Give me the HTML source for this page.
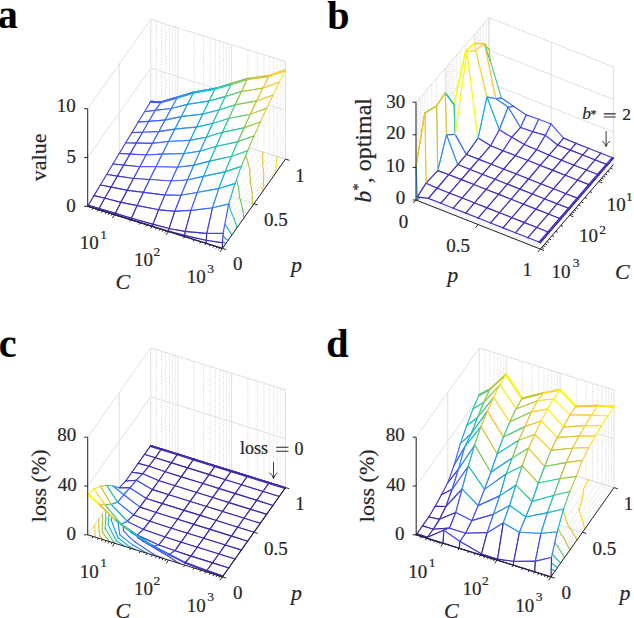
<!DOCTYPE html>
<html><head><meta charset="utf-8"><style>
html,body{margin:0;padding:0;background:#fff;overflow:hidden;}
svg{display:block;font-family:"Liberation Serif",serif;}
</style></head><body>
<svg width="634" height="618" viewBox="0 0 634 618">
<rect width="634" height="618" fill="#fff"/>
<g><line x1="93.2" y1="208.02" x2="156.3" y2="118.72" stroke="#cbcbcb" stroke-width="0.8" stroke-dasharray="1,1.4"/><line x1="156.3" y1="118.72" x2="156.3" y2="21.12" stroke="#cbcbcb" stroke-width="0.8" stroke-dasharray="1,1.4"/><line x1="98.42" y1="209.65" x2="161.52" y2="120.35" stroke="#cbcbcb" stroke-width="0.8" stroke-dasharray="1,1.4"/><line x1="161.52" y1="120.35" x2="161.52" y2="22.75" stroke="#cbcbcb" stroke-width="0.8" stroke-dasharray="1,1.4"/><line x1="102.69" y1="210.98" x2="165.79" y2="121.68" stroke="#cbcbcb" stroke-width="0.8" stroke-dasharray="1,1.4"/><line x1="165.79" y1="121.68" x2="165.79" y2="24.08" stroke="#cbcbcb" stroke-width="0.8" stroke-dasharray="1,1.4"/><line x1="106.29" y1="212.11" x2="169.39" y2="122.81" stroke="#cbcbcb" stroke-width="0.8" stroke-dasharray="1,1.4"/><line x1="169.39" y1="122.81" x2="169.39" y2="25.21" stroke="#cbcbcb" stroke-width="0.8" stroke-dasharray="1,1.4"/><line x1="109.42" y1="213.09" x2="172.52" y2="123.79" stroke="#cbcbcb" stroke-width="0.8" stroke-dasharray="1,1.4"/><line x1="172.52" y1="123.79" x2="172.52" y2="26.19" stroke="#cbcbcb" stroke-width="0.8" stroke-dasharray="1,1.4"/><line x1="112.17" y1="213.95" x2="175.27" y2="124.65" stroke="#cbcbcb" stroke-width="0.8" stroke-dasharray="1,1.4"/><line x1="175.27" y1="124.65" x2="175.27" y2="27.05" stroke="#cbcbcb" stroke-width="0.8" stroke-dasharray="1,1.4"/><line x1="130.86" y1="219.79" x2="193.96" y2="130.49" stroke="#cbcbcb" stroke-width="0.8" stroke-dasharray="1,1.4"/><line x1="193.96" y1="130.49" x2="193.96" y2="32.89" stroke="#cbcbcb" stroke-width="0.8" stroke-dasharray="1,1.4"/><line x1="140.35" y1="222.75" x2="203.45" y2="133.45" stroke="#cbcbcb" stroke-width="0.8" stroke-dasharray="1,1.4"/><line x1="203.45" y1="133.45" x2="203.45" y2="35.85" stroke="#cbcbcb" stroke-width="0.8" stroke-dasharray="1,1.4"/><line x1="147.08" y1="224.86" x2="210.18" y2="135.56" stroke="#cbcbcb" stroke-width="0.8" stroke-dasharray="1,1.4"/><line x1="210.18" y1="135.56" x2="210.18" y2="37.96" stroke="#cbcbcb" stroke-width="0.8" stroke-dasharray="1,1.4"/><line x1="152.3" y1="226.49" x2="215.4" y2="137.19" stroke="#cbcbcb" stroke-width="0.8" stroke-dasharray="1,1.4"/><line x1="215.4" y1="137.19" x2="215.4" y2="39.59" stroke="#cbcbcb" stroke-width="0.8" stroke-dasharray="1,1.4"/><line x1="156.57" y1="227.82" x2="219.67" y2="138.52" stroke="#cbcbcb" stroke-width="0.8" stroke-dasharray="1,1.4"/><line x1="219.67" y1="138.52" x2="219.67" y2="40.92" stroke="#cbcbcb" stroke-width="0.8" stroke-dasharray="1,1.4"/><line x1="160.17" y1="228.95" x2="223.27" y2="139.65" stroke="#cbcbcb" stroke-width="0.8" stroke-dasharray="1,1.4"/><line x1="223.27" y1="139.65" x2="223.27" y2="42.05" stroke="#cbcbcb" stroke-width="0.8" stroke-dasharray="1,1.4"/><line x1="163.3" y1="229.93" x2="226.4" y2="140.63" stroke="#cbcbcb" stroke-width="0.8" stroke-dasharray="1,1.4"/><line x1="226.4" y1="140.63" x2="226.4" y2="43.03" stroke="#cbcbcb" stroke-width="0.8" stroke-dasharray="1,1.4"/><line x1="166.05" y1="230.79" x2="229.15" y2="141.49" stroke="#cbcbcb" stroke-width="0.8" stroke-dasharray="1,1.4"/><line x1="229.15" y1="141.49" x2="229.15" y2="43.89" stroke="#cbcbcb" stroke-width="0.8" stroke-dasharray="1,1.4"/><line x1="184.74" y1="236.63" x2="247.84" y2="147.33" stroke="#cbcbcb" stroke-width="0.8" stroke-dasharray="1,1.4"/><line x1="247.84" y1="147.33" x2="247.84" y2="49.73" stroke="#cbcbcb" stroke-width="0.8" stroke-dasharray="1,1.4"/><line x1="194.23" y1="239.59" x2="257.33" y2="150.29" stroke="#cbcbcb" stroke-width="0.8" stroke-dasharray="1,1.4"/><line x1="257.33" y1="150.29" x2="257.33" y2="52.69" stroke="#cbcbcb" stroke-width="0.8" stroke-dasharray="1,1.4"/><line x1="200.96" y1="241.7" x2="264.06" y2="152.4" stroke="#cbcbcb" stroke-width="0.8" stroke-dasharray="1,1.4"/><line x1="264.06" y1="152.4" x2="264.06" y2="54.8" stroke="#cbcbcb" stroke-width="0.8" stroke-dasharray="1,1.4"/><line x1="206.18" y1="243.33" x2="269.28" y2="154.03" stroke="#cbcbcb" stroke-width="0.8" stroke-dasharray="1,1.4"/><line x1="269.28" y1="154.03" x2="269.28" y2="56.43" stroke="#cbcbcb" stroke-width="0.8" stroke-dasharray="1,1.4"/><line x1="210.45" y1="244.66" x2="273.55" y2="155.36" stroke="#cbcbcb" stroke-width="0.8" stroke-dasharray="1,1.4"/><line x1="273.55" y1="155.36" x2="273.55" y2="57.76" stroke="#cbcbcb" stroke-width="0.8" stroke-dasharray="1,1.4"/><line x1="214.05" y1="245.79" x2="277.15" y2="156.49" stroke="#cbcbcb" stroke-width="0.8" stroke-dasharray="1,1.4"/><line x1="277.15" y1="156.49" x2="277.15" y2="58.89" stroke="#cbcbcb" stroke-width="0.8" stroke-dasharray="1,1.4"/><line x1="217.18" y1="246.77" x2="280.28" y2="157.47" stroke="#cbcbcb" stroke-width="0.8" stroke-dasharray="1,1.4"/><line x1="280.28" y1="157.47" x2="280.28" y2="59.87" stroke="#cbcbcb" stroke-width="0.8" stroke-dasharray="1,1.4"/><line x1="219.93" y1="247.63" x2="283.03" y2="158.33" stroke="#cbcbcb" stroke-width="0.8" stroke-dasharray="1,1.4"/><line x1="283.03" y1="158.33" x2="283.03" y2="60.73" stroke="#cbcbcb" stroke-width="0.8" stroke-dasharray="1,1.4"/><line x1="114.64" y1="214.72" x2="177.74" y2="125.42" stroke="#e0e0e0" stroke-width="1.0"/><line x1="177.74" y1="125.42" x2="177.74" y2="27.82" stroke="#e0e0e0" stroke-width="1.0"/><line x1="168.52" y1="231.56" x2="231.62" y2="142.26" stroke="#e0e0e0" stroke-width="1.0"/><line x1="231.62" y1="142.26" x2="231.62" y2="44.66" stroke="#e0e0e0" stroke-width="1.0"/><line x1="222.4" y1="248.4" x2="285.5" y2="159.1" stroke="#e0e0e0" stroke-width="1.0"/><line x1="285.5" y1="159.1" x2="285.5" y2="61.5" stroke="#e0e0e0" stroke-width="1.0"/><line x1="87.7" y1="206.3" x2="222.4" y2="248.4" stroke="#e0e0e0" stroke-width="1.0"/><line x1="87.7" y1="206.3" x2="87.7" y2="108.7" stroke="#e0e0e0" stroke-width="1.0"/><line x1="119.25" y1="161.65" x2="253.95" y2="203.75" stroke="#e0e0e0" stroke-width="1.0"/><line x1="119.25" y1="161.65" x2="119.25" y2="64.05" stroke="#e0e0e0" stroke-width="1.0"/><line x1="150.8" y1="117" x2="285.5" y2="159.1" stroke="#e0e0e0" stroke-width="1.0"/><line x1="150.8" y1="117" x2="150.8" y2="19.4" stroke="#e0e0e0" stroke-width="1.0"/><line x1="87.7" y1="206.3" x2="150.8" y2="117" stroke="#e0e0e0" stroke-width="1.0"/><line x1="150.8" y1="117" x2="285.5" y2="159.1" stroke="#e0e0e0" stroke-width="1.0"/><line x1="87.7" y1="157.5" x2="150.8" y2="68.2" stroke="#e0e0e0" stroke-width="1.0"/><line x1="150.8" y1="68.2" x2="285.5" y2="110.3" stroke="#e0e0e0" stroke-width="1.0"/><line x1="87.7" y1="108.7" x2="150.8" y2="19.4" stroke="#e0e0e0" stroke-width="1.0"/><line x1="150.8" y1="19.4" x2="285.5" y2="61.5" stroke="#e0e0e0" stroke-width="1.0"/><line x1="87.7" y1="206.3" x2="150.8" y2="117" stroke="#e0e0e0" stroke-width="1.0"/></g>
<g fill="none" stroke-width="1.15" stroke-linecap="round"><path d="M122.03,176.34L121.49,173.25" stroke="#4443da"/><path d="M121.49,173.25L120.04,161.9" stroke="#4443da"/><path d="M120.04,161.9L119.92,160.71" stroke="#4443da"/><path d="M131.16,191.34L128.03,186.2" stroke="#4443da"/><path d="M128.03,186.2L122.03,176.34" stroke="#4443da"/><path d="M141.68,204.38L138.29,200.31" stroke="#4443da"/><path d="M138.29,200.31L131.16,191.34" stroke="#4443da"/><path d="M159.25,216.75L141.68,204.38" stroke="#4443da"/><path d="M173,225.21L162,218.62" stroke="#4443da"/><path d="M162,218.62L159.25,216.75" stroke="#4443da"/><path d="M187.05,233.27L173,225.21" stroke="#4443da"/><path d="M206.8,242.55L204.54,241.73" stroke="#4443da"/><path d="M204.54,241.73L187.05,233.27" stroke="#4443da"/><path d="M222.64,248.06L206.8,242.55" stroke="#4443da"/><path d="M147.94,139.67L148.29,138.02" stroke="#4062f5"/><path d="M148.29,138.02L150.6,127.84" stroke="#4062f5"/><path d="M150.6,127.84L154.43,119.22" stroke="#4062f5"/><path d="M154.43,119.22L154.68,118.32" stroke="#4062f5"/><path d="M154.68,118.32L154.7,118.22" stroke="#4062f5"/><path d="M149.7,165.1L149.38,160.17" stroke="#4062f5"/><path d="M149.38,160.17L148.71,149.05" stroke="#4062f5"/><path d="M148.71,149.05L147.94,139.67" stroke="#4062f5"/><path d="M154.83,185.76L154.28,183.5" stroke="#4062f5"/><path d="M154.28,183.5L151.5,171.73" stroke="#4062f5"/><path d="M151.5,171.73L149.7,165.1" stroke="#4062f5"/><path d="M168.72,203.35L164.75,197.68" stroke="#4062f5"/><path d="M164.75,197.68L154.83,185.76" stroke="#4062f5"/><path d="M179.51,216.01L176.23,212.16" stroke="#4062f5"/><path d="M176.23,212.16L168.72,203.35" stroke="#4062f5"/><path d="M190.68,228.13L189.58,227.24" stroke="#4062f5"/><path d="M189.58,227.24L179.51,216.01" stroke="#4062f5"/><path d="M209.3,239.01L190.68,228.13" stroke="#4062f5"/><path d="M223.67,246.6L209.3,239.01" stroke="#4062f5"/><path d="M169.11,137.64L169.74,133.82" stroke="#2f84f7"/><path d="M169.74,133.82L172.67,124.92" stroke="#2f84f7"/><path d="M172.67,124.92L173.03,124.06" stroke="#2f84f7"/><path d="M173.03,124.06L173.07,123.96" stroke="#2f84f7"/><path d="M169.08,165.61L169.31,155.49" stroke="#2f84f7"/><path d="M169.31,155.49L169.34,144.6" stroke="#2f84f7"/><path d="M169.34,144.6L169.11,137.64" stroke="#2f84f7"/><path d="M179.45,188.17L176.36,179.5" stroke="#2f84f7"/><path d="M176.36,179.5L169.68,166.51" stroke="#2f84f7"/><path d="M169.68,166.51L169.08,165.61" stroke="#2f84f7"/><path d="M187.62,204.53L181.76,192.09" stroke="#2f84f7"/><path d="M181.76,192.09L179.45,188.17" stroke="#2f84f7"/><path d="M196.35,220.1L195.19,218.09" stroke="#2f84f7"/><path d="M195.19,218.09L187.86,204.9" stroke="#2f84f7"/><path d="M187.86,204.9L187.62,204.53" stroke="#2f84f7"/><path d="M211.98,235.22L209.72,233.53" stroke="#2f84f7"/><path d="M209.72,233.53L196.35,220.1" stroke="#2f84f7"/><path d="M225.87,243.49L211.98,235.22" stroke="#2f84f7"/><path d="M184.08,144.37L185.05,138.61" stroke="#1da0e3"/><path d="M185.05,138.61L186.57,129.27" stroke="#1da0e3"/><path d="M186.57,129.27L186.71,128.33" stroke="#1da0e3"/><path d="M186.71,128.33L186.73,128.23" stroke="#1da0e3"/><path d="M191.14,171.62L189.66,161.85" stroke="#1da0e3"/><path d="M189.66,161.85L186.43,149.94" stroke="#1da0e3"/><path d="M186.43,149.94L184.08,144.37" stroke="#1da0e3"/><path d="M197.04,191.2L195.79,185.57" stroke="#1da0e3"/><path d="M195.79,185.57L191.93,173.46" stroke="#1da0e3"/><path d="M191.93,173.46L191.14,171.62" stroke="#1da0e3"/><path d="M203.37,210.16L203.24,209.71" stroke="#1da0e3"/><path d="M203.24,209.71L199.79,197.72" stroke="#1da0e3"/><path d="M199.79,197.72L197.04,191.2" stroke="#1da0e3"/><path d="M216.56,228.74L213.33,223.76" stroke="#1da0e3"/><path d="M213.33,223.76L203.37,210.16" stroke="#1da0e3"/><path d="M228.07,240.37L225.33,238.41" stroke="#1da0e3"/><path d="M225.33,238.41L216.56,228.74" stroke="#1da0e3"/><path d="M203.61,153.98L203.48,144.37" stroke="#1bb7c6"/><path d="M203.48,144.37L202.53,134.26" stroke="#1bb7c6"/><path d="M202.53,134.26L202.36,133.22" stroke="#1bb7c6"/><path d="M202.36,133.22L202.34,133.11" stroke="#1bb7c6"/><path d="M207.35,176.6L206.51,167.12" stroke="#1bb7c6"/><path d="M206.51,167.12L204.07,155.45" stroke="#1bb7c6"/><path d="M204.07,155.45L203.61,153.98" stroke="#1bb7c6"/><path d="M211.82,198.2L210.89,190.29" stroke="#1bb7c6"/><path d="M210.89,190.29L208.04,178.5" stroke="#1bb7c6"/><path d="M208.04,178.5L207.35,176.6" stroke="#1bb7c6"/><path d="M222.57,220.24L220.77,215.18" stroke="#1bb7c6"/><path d="M220.77,215.18L214.73,202.39" stroke="#1bb7c6"/><path d="M214.73,202.39L211.82,198.2" stroke="#1bb7c6"/><path d="M231.98,234.85L227.58,228.21" stroke="#1bb7c6"/><path d="M227.58,228.21L222.57,220.24" stroke="#1bb7c6"/><path d="M218.53,160.78L218.56,159.98" stroke="#33c69e"/><path d="M218.56,159.98L218.57,149.08" stroke="#33c69e"/><path d="M218.57,149.08L217.46,138.92" stroke="#33c69e"/><path d="M217.46,138.92L217.26,137.88" stroke="#33c69e"/><path d="M217.26,137.88L217.23,137.76" stroke="#33c69e"/><path d="M221.42,184.63L221.42,182.68" stroke="#33c69e"/><path d="M221.42,182.68L220.87,171.61" stroke="#33c69e"/><path d="M220.87,171.61L218.53,160.78" stroke="#33c69e"/><path d="M230.15,209.51L229.72,207.08" stroke="#33c69e"/><path d="M229.72,207.08L226.87,195.29" stroke="#33c69e"/><path d="M226.87,195.29L221.42,184.63" stroke="#33c69e"/><path d="M237.17,227.5L234.36,219.43" stroke="#33c69e"/><path d="M234.36,219.43L230.15,209.51" stroke="#33c69e"/><path d="M230.47,143.88L230.57,143.02" stroke="#77c763"/><path d="M230.57,143.02L230.67,142.07" stroke="#77c763"/><path d="M230.67,142.07L230.68,141.97" stroke="#77c763"/><path d="M232.17,169.4L232.49,164.34" stroke="#77c763"/><path d="M232.49,164.34L232.26,153.36" stroke="#77c763"/><path d="M232.26,153.36L230.47,143.88" stroke="#77c763"/><path d="M239.37,196.45L238.72,188.09" stroke="#77c763"/><path d="M238.72,188.09L235.68,176.24" stroke="#77c763"/><path d="M235.68,176.24L232.17,169.4" stroke="#77c763"/><path d="M243.99,217.85L243.01,211.23" stroke="#77c763"/><path d="M243.01,211.23L240.36,199.5" stroke="#77c763"/><path d="M240.36,199.5L239.37,196.45" stroke="#77c763"/><path d="M243.99,152.68L244.56,147.39" stroke="#bcc639"/><path d="M244.56,147.39L244.63,146.43" stroke="#bcc639"/><path d="M244.63,146.43L244.63,146.33" stroke="#bcc639"/><path d="M250.19,181.14L250.2,180.77" stroke="#bcc639"/><path d="M250.2,180.77L249.84,169.76" stroke="#bcc639"/><path d="M249.84,169.76L246.7,157.87" stroke="#bcc639"/><path d="M246.7,157.87L243.99,152.68" stroke="#bcc639"/><path d="M252.44,205.89L252.43,203.27" stroke="#bcc639"/><path d="M252.43,203.27L252.08,192.26" stroke="#bcc639"/><path d="M252.08,192.26L250.19,181.14" stroke="#bcc639"/><path d="M262.71,163.42L262.75,162.89" stroke="#f1c438"/><path d="M262.75,162.89L262.82,153.1" stroke="#f1c438"/><path d="M262.82,153.1L262.72,152.09" stroke="#f1c438"/><path d="M262.72,152.09L262.7,151.98" stroke="#f1c438"/><path d="M262.69,191.38L263.33,184.88" stroke="#f1c438"/><path d="M263.33,184.88L263.72,174.1" stroke="#f1c438"/><path d="M263.72,174.1L262.71,163.42" stroke="#f1c438"/><path d="M274.79,174.26L276.02,167.04" stroke="#fcdf26"/><path d="M276.02,167.04L277.12,157.57" stroke="#fcdf26"/><path d="M277.12,157.57L277.17,156.61" stroke="#fcdf26"/><path d="M277.17,156.61L277.18,156.5" stroke="#fcdf26"/></g>
<g fill="none" stroke-width="1.15" stroke-linejoin="round" stroke-linecap="round"><polygon points="150.74,101.39 161.51,101.91 161.58,101.82 150.8,101.29" fill="#fff"/><path d="M150.74,101.39L161.51,101.91" stroke="#425ef5"/><path d="M150.74,101.39L150.8,101.29" stroke="#425ef5"/><path d="M161.51,101.91L161.58,101.82" stroke="#3c6af5"/><path d="M150.8,101.29L161.58,101.82" stroke="#425ef5"/><polygon points="150.17,102.33 160.94,102.68 161.51,101.91 150.74,101.39" fill="#fff"/><path d="M150.17,102.33L160.94,102.68" stroke="#425ef5"/><path d="M150.17,102.33L150.74,101.39" stroke="#425ef5"/><path d="M160.94,102.68L161.51,101.91" stroke="#3c6af5"/><path d="M150.74,101.39L161.51,101.91" stroke="#425ef5"/><polygon points="144.49,111.71 155.27,110.42 160.94,102.68 150.17,102.33" fill="#fff"/><path d="M144.49,111.71L155.27,110.42" stroke="#4558f5"/><path d="M144.49,111.71L150.17,102.33" stroke="#4558f5"/><path d="M155.27,110.42L160.94,102.68" stroke="#3b6bf6"/><path d="M150.17,102.33L160.94,102.68" stroke="#425ef5"/><polygon points="161.51,101.91 177.68,97.04 177.74,96.92 161.58,101.82" fill="#fff"/><path d="M161.51,101.91L177.68,97.04" stroke="#3c6af5"/><path d="M161.51,101.91L161.58,101.82" stroke="#3c6af5"/><path d="M177.68,97.04L177.74,96.92" stroke="#2791ef"/><path d="M161.58,101.82L177.74,96.92" stroke="#3c6af5"/><polygon points="160.94,102.68 177.11,98.08 177.68,97.04 161.51,101.91" fill="#fff"/><path d="M160.94,102.68L177.11,98.08" stroke="#3c6af5"/><path d="M160.94,102.68L161.51,101.91" stroke="#3c6af5"/><path d="M177.11,98.08L177.68,97.04" stroke="#2890f0"/><path d="M161.51,101.91L177.68,97.04" stroke="#3c6af5"/><polygon points="138.18,122.15 148.96,121.32 155.27,110.42 144.49,111.71" fill="#fff"/><path d="M138.18,122.15L148.96,121.32" stroke="#4852f4"/><path d="M138.18,122.15L144.49,111.71" stroke="#4852f4"/><path d="M148.96,121.32L155.27,110.42" stroke="#3f63f5"/><path d="M144.49,111.71L155.27,110.42" stroke="#4558f5"/><polygon points="155.27,110.42 171.43,108.48 177.11,98.08 160.94,102.68" fill="#fff"/><path d="M155.27,110.42L171.43,108.48" stroke="#3b6bf6"/><path d="M155.27,110.42L160.94,102.68" stroke="#3b6bf6"/><path d="M171.43,108.48L177.11,98.08" stroke="#2d88f6"/><path d="M160.94,102.68L177.11,98.08" stroke="#3c6af5"/><polygon points="131.87,132.59 142.65,132.23 148.96,121.32 138.18,122.15" fill="#fff"/><path d="M131.87,132.59L142.65,132.23" stroke="#464deb"/><path d="M131.87,132.59L138.18,122.15" stroke="#464deb"/><path d="M142.65,132.23L148.96,121.32" stroke="#435bf5"/><path d="M138.18,122.15L148.96,121.32" stroke="#4852f4"/><polygon points="148.96,121.32 165.12,120.07 171.43,108.48 155.27,110.42" fill="#fff"/><path d="M148.96,121.32L165.12,120.07" stroke="#3f63f5"/><path d="M148.96,121.32L155.27,110.42" stroke="#3f63f5"/><path d="M165.12,120.07L171.43,108.48" stroke="#327df6"/><path d="M155.27,110.42L171.43,108.48" stroke="#3b6bf6"/><polygon points="177.68,97.04 193.84,92.14 193.9,92.02 177.74,96.92" fill="#fff"/><path d="M177.68,97.04L193.84,92.14" stroke="#2791ef"/><path d="M177.68,97.04L177.74,96.92" stroke="#2791ef"/><path d="M193.84,92.14L193.9,92.02" stroke="#12b1d6"/><path d="M177.74,96.92L193.9,92.02" stroke="#2791ef"/><polygon points="177.11,98.08 193.27,93.25 193.84,92.14 177.68,97.04" fill="#fff"/><path d="M177.11,98.08L193.27,93.25" stroke="#2890f0"/><path d="M177.11,98.08L177.68,97.04" stroke="#2890f0"/><path d="M193.27,93.25L193.84,92.14" stroke="#12b1d7"/><path d="M177.68,97.04L193.84,92.14" stroke="#2791ef"/><polygon points="171.43,108.48 187.59,104.32 193.27,93.25 177.11,98.08" fill="#fff"/><path d="M171.43,108.48L187.59,104.32" stroke="#2d88f6"/><path d="M171.43,108.48L177.11,98.08" stroke="#2d88f6"/><path d="M187.59,104.32L193.27,93.25" stroke="#19a6de"/><path d="M177.11,98.08L193.27,93.25" stroke="#2890f0"/><polygon points="125.56,143.05 136.34,143.16 142.65,132.23 131.87,132.59" fill="#fff"/><path d="M125.56,143.05L136.34,143.16" stroke="#4548e2"/><path d="M125.56,143.05L131.87,132.59" stroke="#4548e2"/><path d="M136.34,143.16L142.65,132.23" stroke="#4753f4"/><path d="M131.87,132.59L142.65,132.23" stroke="#464deb"/><polygon points="142.65,132.23 158.81,131.68 165.12,120.07 148.96,121.32" fill="#fff"/><path d="M142.65,132.23L158.81,131.68" stroke="#435bf5"/><path d="M142.65,132.23L148.96,121.32" stroke="#435bf5"/><path d="M158.81,131.68L165.12,120.07" stroke="#3872f6"/><path d="M148.96,121.32L165.12,120.07" stroke="#3f63f5"/><polygon points="165.12,120.07 181.28,116.66 187.59,104.32 171.43,108.48" fill="#fff"/><path d="M165.12,120.07L181.28,116.66" stroke="#327df6"/><path d="M165.12,120.07L171.43,108.48" stroke="#327df6"/><path d="M181.28,116.66L187.59,104.32" stroke="#209be7"/><path d="M171.43,108.48L187.59,104.32" stroke="#2d88f6"/><polygon points="119.25,153.52 130.03,154.11 136.34,143.16 125.56,143.05" fill="#fff"/><path d="M119.25,153.52L130.03,154.11" stroke="#4442d9"/><path d="M119.25,153.52L125.56,143.05" stroke="#4442d9"/><path d="M130.03,154.11L136.34,143.16" stroke="#464ce9"/><path d="M125.56,143.05L136.34,143.16" stroke="#4548e2"/><polygon points="136.34,143.16 152.5,143.33 158.81,131.68 142.65,132.23" fill="#fff"/><path d="M136.34,143.16L152.5,143.33" stroke="#4753f4"/><path d="M136.34,143.16L142.65,132.23" stroke="#4753f4"/><path d="M152.5,143.33L158.81,131.68" stroke="#3d67f5"/><path d="M142.65,132.23L158.81,131.68" stroke="#435bf5"/><polygon points="193.84,92.14 215.39,88.34 215.46,88.21 193.9,92.02" fill="#fff"/><path d="M193.84,92.14L215.39,88.34" stroke="#12b1d6"/><path d="M193.84,92.14L193.9,92.02" stroke="#12b1d6"/><path d="M215.39,88.34L215.46,88.21" stroke="#31c4a2"/><path d="M193.9,92.02L215.46,88.21" stroke="#12b1d5"/><polygon points="193.27,93.25 214.82,89.5 215.39,88.34 193.84,92.14" fill="#fff"/><path d="M193.27,93.25L214.82,89.5" stroke="#12b1d7"/><path d="M193.27,93.25L193.84,92.14" stroke="#12b1d7"/><path d="M214.82,89.5L215.39,88.34" stroke="#30c4a3"/><path d="M193.84,92.14L215.39,88.34" stroke="#12b1d6"/><polygon points="158.81,131.68 174.97,129.07 181.28,116.66 165.12,120.07" fill="#fff"/><path d="M158.81,131.68L174.97,129.07" stroke="#3872f6"/><path d="M158.81,131.68L165.12,120.07" stroke="#3872f6"/><path d="M174.97,129.07L181.28,116.66" stroke="#2890f0"/><path d="M165.12,120.07L181.28,116.66" stroke="#327df6"/><polygon points="187.59,104.32 209.15,101.1 214.82,89.5 193.27,93.25" fill="#fff"/><path d="M187.59,104.32L209.15,101.1" stroke="#19a6de"/><path d="M187.59,104.32L193.27,93.25" stroke="#19a6de"/><path d="M209.15,101.1L214.82,89.5" stroke="#25bdb5"/><path d="M193.27,93.25L214.82,89.5" stroke="#12b1d7"/><polygon points="130.03,154.11 146.19,155.01 152.5,143.33 136.34,143.16" fill="#fff"/><path d="M130.03,154.11L146.19,155.01" stroke="#464ce9"/><path d="M130.03,154.11L136.34,143.16" stroke="#464ce9"/><path d="M146.19,155.01L152.5,143.33" stroke="#435cf5"/><path d="M136.34,143.16L152.5,143.33" stroke="#4753f4"/><polygon points="112.94,164 123.72,165.09 130.03,154.11 119.25,153.52" fill="#fff"/><path d="M112.94,164L123.72,165.09" stroke="#433dcf"/><path d="M112.94,164L119.25,153.52" stroke="#433dcf"/><path d="M123.72,165.09L130.03,154.11" stroke="#4545dd"/><path d="M119.25,153.52L130.03,154.11" stroke="#4442d9"/><polygon points="152.5,143.33 168.66,141.54 174.97,129.07 158.81,131.68" fill="#fff"/><path d="M152.5,143.33L168.66,141.54" stroke="#3d67f5"/><path d="M152.5,143.33L158.81,131.68" stroke="#3d67f5"/><path d="M168.66,141.54L174.97,129.07" stroke="#2f83f7"/><path d="M158.81,131.68L174.97,129.07" stroke="#3872f6"/><polygon points="181.28,116.66 202.84,114.08 209.15,101.1 187.59,104.32" fill="#fff"/><path d="M181.28,116.66L202.84,114.08" stroke="#209be7"/><path d="M181.28,116.66L187.59,104.32" stroke="#209be7"/><path d="M202.84,114.08L209.15,101.1" stroke="#19b6c9"/><path d="M187.59,104.32L209.15,101.1" stroke="#19a6de"/><polygon points="123.72,165.09 139.88,166.73 146.19,155.01 130.03,154.11" fill="#fff"/><path d="M123.72,165.09L139.88,166.73" stroke="#4545dd"/><path d="M123.72,165.09L130.03,154.11" stroke="#4545dd"/><path d="M139.88,166.73L146.19,155.01" stroke="#4751f1"/><path d="M130.03,154.11L146.19,155.01" stroke="#464ce9"/><polygon points="106.63,174.5 117.41,176.11 123.72,165.09 112.94,164" fill="#fff"/><path d="M106.63,174.5L117.41,176.11" stroke="#4238c6"/><path d="M106.63,174.5L112.94,164" stroke="#4238c6"/><path d="M117.41,176.11L123.72,165.09" stroke="#433ed1"/><path d="M112.94,164L123.72,165.09" stroke="#433dcf"/><polygon points="215.39,88.34 231.56,83.54 231.62,83.41 215.46,88.21" fill="#fff"/><path d="M215.39,88.34L231.56,83.54" stroke="#31c4a2"/><path d="M215.39,88.34L215.46,88.21" stroke="#31c4a2"/><path d="M231.56,83.54L231.62,83.41" stroke="#7dc75e"/><path d="M215.46,88.21L231.62,83.41" stroke="#31c4a1"/><polygon points="214.82,89.5 230.99,84.73 231.56,83.54 215.39,88.34" fill="#fff"/><path d="M214.82,89.5L230.99,84.73" stroke="#30c4a3"/><path d="M214.82,89.5L215.39,88.34" stroke="#30c4a3"/><path d="M230.99,84.73L231.56,83.54" stroke="#7ac761"/><path d="M215.39,88.34L231.56,83.54" stroke="#31c4a2"/><polygon points="174.97,129.07 196.53,127.17 202.84,114.08 181.28,116.66" fill="#fff"/><path d="M174.97,129.07L196.53,127.17" stroke="#2890f0"/><path d="M174.97,129.07L181.28,116.66" stroke="#2890f0"/><path d="M196.53,127.17L202.84,114.08" stroke="#15acda"/><path d="M181.28,116.66L202.84,114.08" stroke="#209be7"/><polygon points="146.19,155.01 162.35,154.08 168.66,141.54 152.5,143.33" fill="#fff"/><path d="M146.19,155.01L162.35,154.08" stroke="#435cf5"/><path d="M146.19,155.01L152.5,143.33" stroke="#435cf5"/><path d="M162.35,154.08L168.66,141.54" stroke="#3774f6"/><path d="M152.5,143.33L168.66,141.54" stroke="#3d67f5"/><polygon points="209.15,101.1 225.31,96.64 230.99,84.73 214.82,89.5" fill="#fff"/><path d="M209.15,101.1L225.31,96.64" stroke="#25bdb5"/><path d="M209.15,101.1L214.82,89.5" stroke="#25bdb5"/><path d="M225.31,96.64L230.99,84.73" stroke="#57c87d"/><path d="M214.82,89.5L230.99,84.73" stroke="#30c4a3"/><polygon points="117.41,176.11 133.57,178.52 139.88,166.73 123.72,165.09" fill="#fff"/><path d="M117.41,176.11L133.57,178.52" stroke="#433ed1"/><path d="M117.41,176.11L123.72,165.09" stroke="#433ed1"/><path d="M133.57,178.52L139.88,166.73" stroke="#4547e0"/><path d="M123.72,165.09L139.88,166.73" stroke="#4545dd"/><polygon points="168.66,141.54 190.22,140.37 196.53,127.17 174.97,129.07" fill="#fff"/><path d="M168.66,141.54L190.22,140.37" stroke="#2f83f7"/><path d="M168.66,141.54L174.97,129.07" stroke="#2f83f7"/><path d="M190.22,140.37L196.53,127.17" stroke="#1e9ee5"/><path d="M174.97,129.07L196.53,127.17" stroke="#2890f0"/><polygon points="100.32,185.03 111.1,187.17 117.41,176.11 106.63,174.5" fill="#fff"/><path d="M100.32,185.03L111.1,187.17" stroke="#4032bd"/><path d="M100.32,185.03L106.63,174.5" stroke="#4032bd"/><path d="M111.1,187.17L117.41,176.11" stroke="#4136c4"/><path d="M106.63,174.5L117.41,176.11" stroke="#4238c6"/><polygon points="139.88,166.73 156.04,166.72 162.35,154.08 146.19,155.01" fill="#fff"/><path d="M139.88,166.73L156.04,166.72" stroke="#4751f1"/><path d="M139.88,166.73L146.19,155.01" stroke="#4751f1"/><path d="M156.04,166.72L162.35,154.08" stroke="#3e65f5"/><path d="M146.19,155.01L162.35,154.08" stroke="#435cf5"/><polygon points="202.84,114.08 219,110 225.31,96.64 209.15,101.1" fill="#fff"/><path d="M202.84,114.08L219,110" stroke="#19b6c9"/><path d="M202.84,114.08L209.15,101.1" stroke="#19b6c9"/><path d="M219,110L225.31,96.64" stroke="#34c69c"/><path d="M209.15,101.1L225.31,96.64" stroke="#25bdb5"/><polygon points="162.35,154.08 183.91,153.72 190.22,140.37 168.66,141.54" fill="#fff"/><path d="M162.35,154.08L183.91,153.72" stroke="#3774f6"/><path d="M162.35,154.08L168.66,141.54" stroke="#3774f6"/><path d="M183.91,153.72L190.22,140.37" stroke="#288ff0"/><path d="M168.66,141.54L190.22,140.37" stroke="#2f83f7"/><polygon points="111.1,187.17 127.26,190.38 133.57,178.52 117.41,176.11" fill="#fff"/><path d="M111.1,187.17L127.26,190.38" stroke="#4136c4"/><path d="M111.1,187.17L117.41,176.11" stroke="#4136c4"/><path d="M127.26,190.38L133.57,178.52" stroke="#433dcf"/><path d="M117.41,176.11L133.57,178.52" stroke="#433ed1"/><polygon points="231.56,83.54 247.72,78.54 247.78,78.41 231.62,83.41" fill="#fff"/><path d="M231.56,83.54L247.72,78.54" stroke="#7dc75e"/><path d="M231.56,83.54L231.62,83.41" stroke="#7dc75e"/><path d="M247.72,78.54L247.78,78.41" stroke="#ccc539"/><path d="M231.62,83.41L247.78,78.41" stroke="#7ec75e"/><polygon points="230.99,84.73 247.15,79.72 247.72,78.54 231.56,83.54" fill="#fff"/><path d="M230.99,84.73L247.15,79.72" stroke="#7ac761"/><path d="M230.99,84.73L231.56,83.54" stroke="#7ac761"/><path d="M247.15,79.72L247.72,78.54" stroke="#c9c539"/><path d="M231.56,83.54L247.72,78.54" stroke="#7dc75e"/><polygon points="133.57,178.52 149.73,179.49 156.04,166.72 139.88,166.73" fill="#fff"/><path d="M133.57,178.52L149.73,179.49" stroke="#4547e0"/><path d="M133.57,178.52L139.88,166.73" stroke="#4547e0"/><path d="M149.73,179.49L156.04,166.72" stroke="#4655f4"/><path d="M139.88,166.73L156.04,166.72" stroke="#4751f1"/><polygon points="196.53,127.17 212.69,123.53 219,110 202.84,114.08" fill="#fff"/><path d="M196.53,127.17L212.69,123.53" stroke="#15acda"/><path d="M196.53,127.17L202.84,114.08" stroke="#15acda"/><path d="M212.69,123.53L219,110" stroke="#27beb2"/><path d="M202.84,114.08L219,110" stroke="#19b6c9"/><polygon points="94.01,195.61 104.79,198.31 111.1,187.17 100.32,185.03" fill="#fff"/><path d="M94.01,195.61L104.79,198.31" stroke="#3f2cb3"/><path d="M94.01,195.61L100.32,185.03" stroke="#3f2cb3"/><path d="M104.79,198.31L111.1,187.17" stroke="#402fb7"/><path d="M100.32,185.03L111.1,187.17" stroke="#4032bd"/><polygon points="225.31,96.64 241.47,91.56 247.15,79.72 230.99,84.73" fill="#fff"/><path d="M225.31,96.64L241.47,91.56" stroke="#57c87d"/><path d="M225.31,96.64L230.99,84.73" stroke="#57c87d"/><path d="M241.47,91.56L247.15,79.72" stroke="#b1c739"/><path d="M230.99,84.73L247.15,79.72" stroke="#7ac761"/><polygon points="156.04,166.72 177.6,167.25 183.91,153.72 162.35,154.08" fill="#fff"/><path d="M156.04,166.72L177.6,167.25" stroke="#3e65f5"/><path d="M156.04,166.72L162.35,154.08" stroke="#3e65f5"/><path d="M177.6,167.25L183.91,153.72" stroke="#327ff6"/><path d="M162.35,154.08L183.91,153.72" stroke="#3774f6"/><polygon points="190.22,140.37 206.38,137.24 212.69,123.53 196.53,127.17" fill="#fff"/><path d="M190.22,140.37L206.38,137.24" stroke="#1e9ee5"/><path d="M190.22,140.37L196.53,127.17" stroke="#1e9ee5"/><path d="M206.38,137.24L212.69,123.53" stroke="#19b6ca"/><path d="M196.53,127.17L212.69,123.53" stroke="#15acda"/><polygon points="104.79,198.31 120.95,202.36 127.26,190.38 111.1,187.17" fill="#fff"/><path d="M104.79,198.31L120.95,202.36" stroke="#402fb7"/><path d="M104.79,198.31L111.1,187.17" stroke="#402fb7"/><path d="M120.95,202.36L127.26,190.38" stroke="#4032bd"/><path d="M111.1,187.17L127.26,190.38" stroke="#4136c4"/><polygon points="127.26,190.38 143.42,192.43 149.73,179.49 133.57,178.52" fill="#fff"/><path d="M127.26,190.38L143.42,192.43" stroke="#433dcf"/><path d="M127.26,190.38L133.57,178.52" stroke="#433dcf"/><path d="M143.42,192.43L149.73,179.49" stroke="#4547e1"/><path d="M133.57,178.52L149.73,179.49" stroke="#4547e0"/><polygon points="219,110 235.16,104.9 241.47,91.56 225.31,96.64" fill="#fff"/><path d="M219,110L235.16,104.9" stroke="#34c69c"/><path d="M219,110L225.31,96.64" stroke="#34c69c"/><path d="M235.16,104.9L241.47,91.56" stroke="#8bc753"/><path d="M225.31,96.64L241.47,91.56" stroke="#57c87d"/><polygon points="88.33,205.21 99.11,208.49 104.79,198.31 94.01,195.61" fill="#fff"/><path d="M88.33,205.21L99.11,208.49" stroke="#3e27aa"/><path d="M88.33,205.21L94.01,195.61" stroke="#3e27aa"/><path d="M99.11,208.49L104.79,198.31" stroke="#3e27aa"/><path d="M94.01,195.61L104.79,198.31" stroke="#3f2cb3"/><polygon points="149.73,179.49 171.29,181.02 177.6,167.25 156.04,166.72" fill="#fff"/><path d="M149.73,179.49L171.29,181.02" stroke="#4655f4"/><path d="M149.73,179.49L156.04,166.72" stroke="#4655f4"/><path d="M171.29,181.02L177.6,167.25" stroke="#3c6bf5"/><path d="M156.04,166.72L177.6,167.25" stroke="#3e65f5"/><polygon points="183.91,153.72 200.07,151.18 206.38,137.24 190.22,140.37" fill="#fff"/><path d="M183.91,153.72L200.07,151.18" stroke="#288ff0"/><path d="M183.91,153.72L190.22,140.37" stroke="#288ff0"/><path d="M200.07,151.18L206.38,137.24" stroke="#17a9dd"/><path d="M190.22,140.37L206.38,137.24" stroke="#1e9ee5"/><polygon points="87.76,206.19 98.54,209.55 99.11,208.49 88.33,205.21" fill="#fff"/><path d="M87.76,206.19L98.54,209.55" stroke="#3e26a9"/><path d="M87.76,206.19L88.33,205.21" stroke="#3e26a9"/><path d="M98.54,209.55L99.11,208.49" stroke="#3e26a9"/><path d="M88.33,205.21L99.11,208.49" stroke="#3e27aa"/><polygon points="87.7,206.3 98.48,209.67 98.54,209.55 87.76,206.19" fill="#fff"/><path d="M87.7,206.3L98.48,209.67" stroke="#3e26a8"/><path d="M87.7,206.3L87.76,206.19" stroke="#3e26a8"/><path d="M98.48,209.67L98.54,209.55" stroke="#3e26a8"/><path d="M87.76,206.19L98.54,209.55" stroke="#3e26a9"/><polygon points="99.11,208.49 115.27,213.42 120.95,202.36 104.79,198.31" fill="#fff"/><path d="M99.11,208.49L115.27,213.42" stroke="#3e27aa"/><path d="M99.11,208.49L104.79,198.31" stroke="#3e27aa"/><path d="M115.27,213.42L120.95,202.36" stroke="#3e28ab"/><path d="M104.79,198.31L120.95,202.36" stroke="#402fb7"/><polygon points="120.95,202.36 137.11,205.65 143.42,192.43 127.26,190.38" fill="#fff"/><path d="M120.95,202.36L137.11,205.65" stroke="#4032bd"/><path d="M120.95,202.36L127.26,190.38" stroke="#4032bd"/><path d="M137.11,205.65L143.42,192.43" stroke="#4238c7"/><path d="M127.26,190.38L143.42,192.43" stroke="#433dcf"/><polygon points="212.69,123.53 228.85,118.47 235.16,104.9 219,110" fill="#fff"/><path d="M212.69,123.53L228.85,118.47" stroke="#27beb2"/><path d="M212.69,123.53L219,110" stroke="#27beb2"/><path d="M228.85,118.47L235.16,104.9" stroke="#60c876"/><path d="M219,110L235.16,104.9" stroke="#34c69c"/><polygon points="247.72,78.54 269.27,75.51 269.34,75.38 247.78,78.41" fill="#fff"/><path d="M247.72,78.54L269.27,75.51" stroke="#ccc539"/><path d="M247.72,78.54L247.78,78.41" stroke="#ccc539"/><path d="M269.27,75.51L269.34,75.38" stroke="#fdcc33"/><path d="M247.78,78.41L269.34,75.38" stroke="#ccc539"/><polygon points="247.15,79.72 268.7,76.66 269.27,75.51 247.72,78.54" fill="#fff"/><path d="M247.15,79.72L268.7,76.66" stroke="#c9c539"/><path d="M247.15,79.72L247.72,78.54" stroke="#c9c539"/><path d="M268.7,76.66L269.27,75.51" stroke="#fecb33"/><path d="M247.72,78.54L269.27,75.51" stroke="#ccc539"/><polygon points="143.42,192.43 164.98,195.13 171.29,181.02 149.73,179.49" fill="#fff"/><path d="M143.42,192.43L164.98,195.13" stroke="#4547e1"/><path d="M143.42,192.43L149.73,179.49" stroke="#4547e1"/><path d="M164.98,195.13L171.29,181.02" stroke="#4655f4"/><path d="M149.73,179.49L171.29,181.02" stroke="#4655f4"/><polygon points="98.54,209.55 114.7,214.58 115.27,213.42 99.11,208.49" fill="#fff"/><path d="M98.54,209.55L114.7,214.58" stroke="#3e26a9"/><path d="M98.54,209.55L99.11,208.49" stroke="#3e26a9"/><path d="M114.7,214.58L115.27,213.42" stroke="#3e27a9"/><path d="M99.11,208.49L115.27,213.42" stroke="#3e27aa"/><polygon points="98.48,209.67 114.64,214.72 114.7,214.58 98.54,209.55" fill="#fff"/><path d="M98.48,209.67L114.64,214.72" stroke="#3e26a8"/><path d="M98.48,209.67L98.54,209.55" stroke="#3e26a8"/><path d="M114.64,214.72L114.7,214.58" stroke="#3e26a8"/><path d="M98.54,209.55L114.7,214.58" stroke="#3e26a9"/><polygon points="177.6,167.25 193.76,165.41 200.07,151.18 183.91,153.72" fill="#fff"/><path d="M177.6,167.25L193.76,165.41" stroke="#327ff6"/><path d="M177.6,167.25L183.91,153.72" stroke="#327ff6"/><path d="M193.76,165.41L200.07,151.18" stroke="#2397ea"/><path d="M183.91,153.72L200.07,151.18" stroke="#288ff0"/><polygon points="241.47,91.56 263.03,88.11 268.7,76.66 247.15,79.72" fill="#fff"/><path d="M241.47,91.56L263.03,88.11" stroke="#b1c739"/><path d="M241.47,91.56L247.15,79.72" stroke="#b1c739"/><path d="M263.03,88.11L268.7,76.66" stroke="#f3c438"/><path d="M247.15,79.72L268.7,76.66" stroke="#c9c539"/><polygon points="206.38,137.24 222.54,132.32 228.85,118.47 212.69,123.53" fill="#fff"/><path d="M206.38,137.24L222.54,132.32" stroke="#19b6ca"/><path d="M206.38,137.24L212.69,123.53" stroke="#19b6ca"/><path d="M222.54,132.32L228.85,118.47" stroke="#36c799"/><path d="M212.69,123.53L228.85,118.47" stroke="#27beb2"/><polygon points="115.27,213.42 131.44,218.18 137.11,205.65 120.95,202.36" fill="#fff"/><path d="M115.27,213.42L131.44,218.18" stroke="#3e28ab"/><path d="M115.27,213.42L120.95,202.36" stroke="#3e28ab"/><path d="M131.44,218.18L137.11,205.65" stroke="#3e29ad"/><path d="M120.95,202.36L137.11,205.65" stroke="#4032bd"/><polygon points="137.11,205.65 158.67,209.81 164.98,195.13 143.42,192.43" fill="#fff"/><path d="M137.11,205.65L158.67,209.81" stroke="#4238c7"/><path d="M137.11,205.65L143.42,192.43" stroke="#4238c7"/><path d="M158.67,209.81L164.98,195.13" stroke="#4441d7"/><path d="M143.42,192.43L164.98,195.13" stroke="#4547e1"/><polygon points="114.7,214.58 130.87,219.59 131.44,218.18 115.27,213.42" fill="#fff"/><path d="M114.7,214.58L130.87,219.59" stroke="#3e27a9"/><path d="M114.7,214.58L115.27,213.42" stroke="#3e27a9"/><path d="M130.87,219.59L131.44,218.18" stroke="#3e27a9"/><path d="M115.27,213.42L131.44,218.18" stroke="#3e28ab"/><polygon points="171.29,181.02 187.45,180.04 193.76,165.41 177.6,167.25" fill="#fff"/><path d="M171.29,181.02L187.45,180.04" stroke="#3c6bf5"/><path d="M171.29,181.02L177.6,167.25" stroke="#3c6bf5"/><path d="M187.45,180.04L193.76,165.41" stroke="#2f84f7"/><path d="M177.6,167.25L193.76,165.41" stroke="#327ff6"/><polygon points="114.64,214.72 130.8,219.77 130.87,219.59 114.7,214.58" fill="#fff"/><path d="M114.64,214.72L130.8,219.77" stroke="#3e26a8"/><path d="M114.64,214.72L114.7,214.58" stroke="#3e26a8"/><path d="M130.8,219.77L130.87,219.59" stroke="#3e26a8"/><path d="M114.7,214.58L130.87,219.59" stroke="#3e27a9"/><polygon points="235.16,104.9 256.72,101.07 263.03,88.11 241.47,91.56" fill="#fff"/><path d="M235.16,104.9L256.72,101.07" stroke="#8bc753"/><path d="M235.16,104.9L241.47,91.56" stroke="#8bc753"/><path d="M256.72,101.07L263.03,88.11" stroke="#d9c538"/><path d="M241.47,91.56L263.03,88.11" stroke="#b1c739"/><polygon points="200.07,151.18 216.23,146.5 222.54,132.32 206.38,137.24" fill="#fff"/><path d="M200.07,151.18L216.23,146.5" stroke="#17a9dd"/><path d="M200.07,151.18L206.38,137.24" stroke="#17a9dd"/><path d="M216.23,146.5L222.54,132.32" stroke="#27beb3"/><path d="M206.38,137.24L222.54,132.32" stroke="#19b6ca"/><polygon points="131.44,218.18 152.99,224.38 158.67,209.81 137.11,205.65" fill="#fff"/><path d="M131.44,218.18L152.99,224.38" stroke="#3e29ad"/><path d="M131.44,218.18L137.11,205.65" stroke="#3e29ad"/><path d="M152.99,224.38L158.67,209.81" stroke="#3f2bb0"/><path d="M137.11,205.65L158.67,209.81" stroke="#4238c7"/><polygon points="164.98,195.13 181.14,195.23 187.45,180.04 171.29,181.02" fill="#fff"/><path d="M164.98,195.13L181.14,195.23" stroke="#4655f4"/><path d="M164.98,195.13L171.29,181.02" stroke="#4655f4"/><path d="M181.14,195.23L187.45,180.04" stroke="#3c6af5"/><path d="M171.29,181.02L187.45,180.04" stroke="#3c6bf5"/><polygon points="130.87,219.59 152.42,226.22 152.99,224.38 131.44,218.18" fill="#fff"/><path d="M130.87,219.59L152.42,226.22" stroke="#3e27a9"/><path d="M130.87,219.59L131.44,218.18" stroke="#3e27a9"/><path d="M152.42,226.22L152.99,224.38" stroke="#3e27aa"/><path d="M131.44,218.18L152.99,224.38" stroke="#3e29ad"/><polygon points="130.8,219.77 152.36,226.51 152.42,226.22 130.87,219.59" fill="#fff"/><path d="M130.8,219.77L152.36,226.51" stroke="#3e26a8"/><path d="M130.8,219.77L130.87,219.59" stroke="#3e26a8"/><path d="M152.36,226.51L152.42,226.22" stroke="#3e26a8"/><path d="M130.87,219.59L152.42,226.22" stroke="#3e27a9"/><polygon points="228.85,118.47 250.41,114.31 256.72,101.07 235.16,104.9" fill="#fff"/><path d="M228.85,118.47L250.41,114.31" stroke="#60c876"/><path d="M228.85,118.47L235.16,104.9" stroke="#60c876"/><path d="M250.41,114.31L256.72,101.07" stroke="#bdc639"/><path d="M235.16,104.9L256.72,101.07" stroke="#8bc753"/><polygon points="269.27,75.51 285.44,69.82 285.5,69.7 269.34,75.38" fill="#fff"/><path d="M269.27,75.51L285.44,69.82" stroke="#fdcc33"/><path d="M269.27,75.51L269.34,75.38" stroke="#fdcc33"/><path d="M285.44,69.82L285.5,69.7" stroke="#f9fb15"/><path d="M269.34,75.38L285.5,69.7" stroke="#fdcc32"/><polygon points="268.7,76.66 284.87,70.96 285.44,69.82 269.27,75.51" fill="#fff"/><path d="M268.7,76.66L284.87,70.96" stroke="#fecb33"/><path d="M268.7,76.66L269.27,75.51" stroke="#fecb33"/><path d="M284.87,70.96L285.44,69.82" stroke="#f9f916"/><path d="M269.27,75.51L285.44,69.82" stroke="#fdcc33"/><polygon points="193.76,165.41 209.92,161.13 216.23,146.5 200.07,151.18" fill="#fff"/><path d="M193.76,165.41L209.92,161.13" stroke="#2397ea"/><path d="M193.76,165.41L200.07,151.18" stroke="#2397ea"/><path d="M209.92,161.13L216.23,146.5" stroke="#16b4cf"/><path d="M200.07,151.18L216.23,146.5" stroke="#17a9dd"/><polygon points="158.67,209.81 174.83,211.42 181.14,195.23 164.98,195.13" fill="#fff"/><path d="M158.67,209.81L174.83,211.42" stroke="#4441d7"/><path d="M158.67,209.81L164.98,195.13" stroke="#4441d7"/><path d="M174.83,211.42L181.14,195.23" stroke="#464deb"/><path d="M164.98,195.13L181.14,195.23" stroke="#4655f4"/><polygon points="263.03,88.11 279.19,82.32 284.87,70.96 268.7,76.66" fill="#fff"/><path d="M263.03,88.11L279.19,82.32" stroke="#f3c438"/><path d="M263.03,88.11L268.7,76.66" stroke="#f3c438"/><path d="M279.19,82.32L284.87,70.96" stroke="#fbeb1f"/><path d="M268.7,76.66L284.87,70.96" stroke="#fecb33"/><polygon points="187.45,180.04 203.61,176.36 209.92,161.13 193.76,165.41" fill="#fff"/><path d="M187.45,180.04L203.61,176.36" stroke="#2f84f7"/><path d="M187.45,180.04L193.76,165.41" stroke="#2f84f7"/><path d="M203.61,176.36L209.92,161.13" stroke="#1ca1e3"/><path d="M193.76,165.41L209.92,161.13" stroke="#2397ea"/><polygon points="222.54,132.32 244.1,127.89 250.41,114.31 228.85,118.47" fill="#fff"/><path d="M222.54,132.32L244.1,127.89" stroke="#36c799"/><path d="M222.54,132.32L228.85,118.47" stroke="#36c799"/><path d="M244.1,127.89L250.41,114.31" stroke="#99c747"/><path d="M228.85,118.47L250.41,114.31" stroke="#60c876"/><polygon points="152.99,224.38 169.15,228.53 174.83,211.42 158.67,209.81" fill="#fff"/><path d="M152.99,224.38L169.15,228.53" stroke="#3f2bb0"/><path d="M152.99,224.38L158.67,209.81" stroke="#3f2bb0"/><path d="M169.15,228.53L174.83,211.42" stroke="#3f2eb5"/><path d="M158.67,209.81L174.83,211.42" stroke="#4441d7"/><polygon points="152.36,226.51 168.52,231.56 168.58,231.06 152.42,226.22" fill="#fff"/><path d="M152.36,226.51L168.52,231.56" stroke="#3e26a8"/><path d="M152.36,226.51L152.42,226.22" stroke="#3e26a8"/><path d="M168.52,231.56L168.58,231.06" stroke="#3e26a8"/><path d="M152.42,226.22L168.58,231.06" stroke="#3e27aa"/><polygon points="152.42,226.22 168.58,231.06 169.15,228.53 152.99,224.38" fill="#fff"/><path d="M152.42,226.22L168.58,231.06" stroke="#3e27aa"/><path d="M152.42,226.22L152.99,224.38" stroke="#3e27aa"/><path d="M168.58,231.06L169.15,228.53" stroke="#3e28ab"/><path d="M152.99,224.38L169.15,228.53" stroke="#3f2bb0"/><polygon points="256.72,101.07 272.88,95.19 279.19,82.32 263.03,88.11" fill="#fff"/><path d="M256.72,101.07L272.88,95.19" stroke="#d9c538"/><path d="M256.72,101.07L263.03,88.11" stroke="#d9c538"/><path d="M272.88,95.19L279.19,82.32" stroke="#fcda2a"/><path d="M263.03,88.11L279.19,82.32" stroke="#f3c438"/><polygon points="181.14,195.23 197.3,192.52 203.61,176.36 187.45,180.04" fill="#fff"/><path d="M181.14,195.23L197.3,192.52" stroke="#3c6af5"/><path d="M181.14,195.23L187.45,180.04" stroke="#3c6af5"/><path d="M197.3,192.52L203.61,176.36" stroke="#2c89f5"/><path d="M187.45,180.04L203.61,176.36" stroke="#2f84f7"/><polygon points="216.23,146.5 237.79,141.9 244.1,127.89 222.54,132.32" fill="#fff"/><path d="M216.23,146.5L237.79,141.9" stroke="#27beb3"/><path d="M216.23,146.5L222.54,132.32" stroke="#27beb3"/><path d="M237.79,141.9L244.1,127.89" stroke="#6bc76d"/><path d="M222.54,132.32L244.1,127.89" stroke="#36c799"/><polygon points="168.52,231.56 184.68,236.61 184.75,235.43 168.58,231.06" fill="#fff"/><path d="M168.52,231.56L184.68,236.61" stroke="#3e26a8"/><path d="M168.52,231.56L168.58,231.06" stroke="#3e26a8"/><path d="M184.68,236.61L184.75,235.43" stroke="#3e26a8"/><path d="M168.58,231.06L184.75,235.43" stroke="#3e28ab"/><polygon points="168.58,231.06 184.75,235.43 185.31,231.37 169.15,228.53" fill="#fff"/><path d="M168.58,231.06L184.75,235.43" stroke="#3e28ab"/><path d="M168.58,231.06L169.15,228.53" stroke="#3e28ab"/><path d="M184.75,235.43L185.31,231.37" stroke="#3f2aaf"/><path d="M169.15,228.53L185.31,231.37" stroke="#3f2eb5"/><polygon points="174.83,211.42 190.99,210.37 197.3,192.52 181.14,195.23" fill="#fff"/><path d="M174.83,211.42L190.99,210.37" stroke="#464deb"/><path d="M174.83,211.42L181.14,195.23" stroke="#464deb"/><path d="M190.99,210.37L197.3,192.52" stroke="#3e65f5"/><path d="M181.14,195.23L197.3,192.52" stroke="#3c6af5"/><polygon points="169.15,228.53 185.31,231.37 190.99,210.37 174.83,211.42" fill="#fff"/><path d="M169.15,228.53L185.31,231.37" stroke="#3f2eb5"/><path d="M169.15,228.53L174.83,211.42" stroke="#3f2eb5"/><path d="M185.31,231.37L190.99,210.37" stroke="#4135c2"/><path d="M174.83,211.42L190.99,210.37" stroke="#464deb"/><polygon points="250.41,114.31 266.57,108.38 272.88,95.19 256.72,101.07" fill="#fff"/><path d="M250.41,114.31L266.57,108.38" stroke="#bdc639"/><path d="M250.41,114.31L256.72,101.07" stroke="#bdc639"/><path d="M266.57,108.38L272.88,95.19" stroke="#fec736"/><path d="M256.72,101.07L272.88,95.19" stroke="#d9c538"/><polygon points="209.92,161.13 231.48,156.49 237.79,141.9 216.23,146.5" fill="#fff"/><path d="M209.92,161.13L231.48,156.49" stroke="#16b4cf"/><path d="M209.92,161.13L216.23,146.5" stroke="#16b4cf"/><path d="M231.48,156.49L237.79,141.9" stroke="#38c897"/><path d="M216.23,146.5L237.79,141.9" stroke="#27beb3"/><polygon points="184.68,236.61 206.24,243.35 206.3,240.2 184.75,235.43" fill="#fff"/><path d="M184.68,236.61L206.24,243.35" stroke="#3e26a8"/><path d="M184.68,236.61L184.75,235.43" stroke="#3e26a8"/><path d="M206.24,243.35L206.3,240.2" stroke="#3e26a8"/><path d="M184.75,235.43L206.3,240.2" stroke="#3f2aaf"/><polygon points="203.61,176.36 225.17,171.89 231.48,156.49 209.92,161.13" fill="#fff"/><path d="M203.61,176.36L225.17,171.89" stroke="#1ca1e3"/><path d="M203.61,176.36L209.92,161.13" stroke="#1ca1e3"/><path d="M225.17,171.89L231.48,156.49" stroke="#24bdb7"/><path d="M209.92,161.13L231.48,156.49" stroke="#16b4cf"/><polygon points="184.75,235.43 206.3,240.2 206.87,233.42 185.31,231.37" fill="#fff"/><path d="M184.75,235.43L206.3,240.2" stroke="#3f2aaf"/><path d="M184.75,235.43L185.31,231.37" stroke="#3f2aaf"/><path d="M206.3,240.2L206.87,233.42" stroke="#4031bb"/><path d="M185.31,231.37L206.87,233.42" stroke="#4135c2"/><polygon points="244.1,127.89 260.26,121.94 266.57,108.38 250.41,114.31" fill="#fff"/><path d="M244.1,127.89L260.26,121.94" stroke="#99c747"/><path d="M244.1,127.89L250.41,114.31" stroke="#99c747"/><path d="M260.26,121.94L266.57,108.38" stroke="#e6c438"/><path d="M250.41,114.31L266.57,108.38" stroke="#bdc639"/><polygon points="197.3,192.52 218.86,188.57 225.17,171.89 203.61,176.36" fill="#fff"/><path d="M197.3,192.52L218.86,188.57" stroke="#2c89f5"/><path d="M197.3,192.52L203.61,176.36" stroke="#2c89f5"/><path d="M218.86,188.57L225.17,171.89" stroke="#15adda"/><path d="M203.61,176.36L225.17,171.89" stroke="#1ca1e3"/><polygon points="185.31,231.37 206.87,233.42 212.55,207.76 190.99,210.37" fill="#fff"/><path d="M185.31,231.37L206.87,233.42" stroke="#4135c2"/><path d="M185.31,231.37L190.99,210.37" stroke="#4135c2"/><path d="M206.87,233.42L212.55,207.76" stroke="#4545de"/><path d="M190.99,210.37L212.55,207.76" stroke="#3e65f5"/><polygon points="206.24,243.35 222.4,248.4 222.46,242.67 206.3,240.2" fill="#fff"/><path d="M206.24,243.35L222.4,248.4" stroke="#3e26a8"/><path d="M206.24,243.35L206.3,240.2" stroke="#3e26a8"/><path d="M222.4,248.4L222.46,242.67" stroke="#3e26a8"/><path d="M206.3,240.2L222.46,242.67" stroke="#4031bb"/><polygon points="190.99,210.37 212.55,207.76 218.86,188.57 197.3,192.52" fill="#fff"/><path d="M190.99,210.37L212.55,207.76" stroke="#3e65f5"/><path d="M190.99,210.37L197.3,192.52" stroke="#3e65f5"/><path d="M212.55,207.76L218.86,188.57" stroke="#2b8bf4"/><path d="M197.3,192.52L218.86,188.57" stroke="#2c89f5"/><polygon points="237.79,141.9 253.95,136 260.26,121.94 244.1,127.89" fill="#fff"/><path d="M237.79,141.9L253.95,136" stroke="#6bc76d"/><path d="M237.79,141.9L244.1,127.89" stroke="#6bc76d"/><path d="M253.95,136L260.26,121.94" stroke="#c5c639"/><path d="M244.1,127.89L260.26,121.94" stroke="#99c747"/><polygon points="206.3,240.2 222.46,242.67 223.03,233.34 206.87,233.42" fill="#fff"/><path d="M206.3,240.2L222.46,242.67" stroke="#4031bb"/><path d="M206.3,240.2L206.87,233.42" stroke="#4031bb"/><path d="M222.46,242.67L223.03,233.34" stroke="#423aca"/><path d="M206.87,233.42L223.03,233.34" stroke="#4545de"/><polygon points="231.48,156.49 247.64,150.71 253.95,136 237.79,141.9" fill="#fff"/><path d="M231.48,156.49L247.64,150.71" stroke="#38c897"/><path d="M231.48,156.49L237.79,141.9" stroke="#38c897"/><path d="M247.64,150.71L253.95,136" stroke="#9ac747"/><path d="M237.79,141.9L253.95,136" stroke="#6bc76d"/><polygon points="225.17,171.89 241.33,166.38 247.64,150.71 231.48,156.49" fill="#fff"/><path d="M225.17,171.89L241.33,166.38" stroke="#24bdb7"/><path d="M225.17,171.89L231.48,156.49" stroke="#24bdb7"/><path d="M241.33,166.38L247.64,150.71" stroke="#5dc878"/><path d="M231.48,156.49L247.64,150.71" stroke="#38c897"/><polygon points="206.87,233.42 223.03,233.34 228.71,203.88 212.55,207.76" fill="#fff"/><path d="M206.87,233.42L223.03,233.34" stroke="#4545de"/><path d="M206.87,233.42L212.55,207.76" stroke="#4545de"/><path d="M223.03,233.34L228.71,203.88" stroke="#4558f5"/><path d="M212.55,207.76L228.71,203.88" stroke="#2b8bf4"/><polygon points="218.86,188.57 235.02,183.58 241.33,166.38 225.17,171.89" fill="#fff"/><path d="M218.86,188.57L235.02,183.58" stroke="#15adda"/><path d="M218.86,188.57L225.17,171.89" stroke="#15adda"/><path d="M235.02,183.58L241.33,166.38" stroke="#2bc1ab"/><path d="M225.17,171.89L241.33,166.38" stroke="#24bdb7"/><polygon points="212.55,207.76 228.71,203.88 235.02,183.58 218.86,188.57" fill="#fff"/><path d="M212.55,207.76L228.71,203.88" stroke="#2b8bf4"/><path d="M212.55,207.76L218.86,188.57" stroke="#2b8bf4"/><path d="M228.71,203.88L235.02,183.58" stroke="#18a8dd"/><path d="M218.86,188.57L235.02,183.58" stroke="#15adda"/></g>
<g stroke-linecap="butt"><line x1="87.7" y1="206.3" x2="87.7" y2="108.7" stroke="#262626" stroke-width="1"/><line x1="87.7" y1="206.3" x2="222.4" y2="248.4" stroke="#262626" stroke-width="1"/><line x1="222.4" y1="248.4" x2="285.5" y2="159.1" stroke="#262626" stroke-width="1"/><line x1="87.7" y1="206.3" x2="84.2" y2="206.3" stroke="#262626" stroke-width="1"/><line x1="87.7" y1="157.5" x2="84.2" y2="157.5" stroke="#262626" stroke-width="1"/><line x1="87.7" y1="108.7" x2="84.2" y2="108.7" stroke="#262626" stroke-width="1"/><line x1="114.64" y1="214.72" x2="112.33" y2="217.99" stroke="#262626" stroke-width="1"/><line x1="168.52" y1="231.56" x2="166.21" y2="234.83" stroke="#262626" stroke-width="1"/><line x1="222.4" y1="248.4" x2="220.09" y2="251.67" stroke="#262626" stroke-width="1"/><line x1="93.2" y1="208.02" x2="91.93" y2="209.82" stroke="#262626" stroke-width="1"/><line x1="98.42" y1="209.65" x2="97.15" y2="211.45" stroke="#262626" stroke-width="1"/><line x1="102.69" y1="210.98" x2="101.42" y2="212.78" stroke="#262626" stroke-width="1"/><line x1="106.29" y1="212.11" x2="105.02" y2="213.91" stroke="#262626" stroke-width="1"/><line x1="109.42" y1="213.09" x2="108.15" y2="214.88" stroke="#262626" stroke-width="1"/><line x1="112.17" y1="213.95" x2="110.91" y2="215.75" stroke="#262626" stroke-width="1"/><line x1="130.86" y1="219.79" x2="129.59" y2="221.59" stroke="#262626" stroke-width="1"/><line x1="140.35" y1="222.75" x2="139.08" y2="224.55" stroke="#262626" stroke-width="1"/><line x1="147.08" y1="224.86" x2="145.81" y2="226.66" stroke="#262626" stroke-width="1"/><line x1="152.3" y1="226.49" x2="151.03" y2="228.29" stroke="#262626" stroke-width="1"/><line x1="156.57" y1="227.82" x2="155.3" y2="229.62" stroke="#262626" stroke-width="1"/><line x1="160.17" y1="228.95" x2="158.9" y2="230.75" stroke="#262626" stroke-width="1"/><line x1="163.3" y1="229.93" x2="162.03" y2="231.72" stroke="#262626" stroke-width="1"/><line x1="166.05" y1="230.79" x2="164.79" y2="232.59" stroke="#262626" stroke-width="1"/><line x1="184.74" y1="236.63" x2="183.47" y2="238.43" stroke="#262626" stroke-width="1"/><line x1="194.23" y1="239.59" x2="192.96" y2="241.39" stroke="#262626" stroke-width="1"/><line x1="200.96" y1="241.7" x2="199.69" y2="243.5" stroke="#262626" stroke-width="1"/><line x1="206.18" y1="243.33" x2="204.91" y2="245.13" stroke="#262626" stroke-width="1"/><line x1="210.45" y1="244.66" x2="209.18" y2="246.46" stroke="#262626" stroke-width="1"/><line x1="214.05" y1="245.79" x2="212.78" y2="247.59" stroke="#262626" stroke-width="1"/><line x1="217.18" y1="246.77" x2="215.91" y2="248.56" stroke="#262626" stroke-width="1"/><line x1="219.93" y1="247.63" x2="218.67" y2="249.43" stroke="#262626" stroke-width="1"/><line x1="222.4" y1="248.4" x2="226.22" y2="249.59" stroke="#262626" stroke-width="1"/><line x1="253.95" y1="203.75" x2="257.77" y2="204.94" stroke="#262626" stroke-width="1"/><line x1="285.5" y1="159.1" x2="289.32" y2="160.29" stroke="#262626" stroke-width="1"/></g>
<g fill="#262626"></g>
<g><line x1="486.02" y1="118.95" x2="610.42" y2="168.05" stroke="#cbcbcb" stroke-width="0.8" stroke-dasharray="1,1.4"/><line x1="486.02" y1="118.95" x2="486.02" y2="21.15" stroke="#cbcbcb" stroke-width="0.8" stroke-dasharray="1,1.4"/><line x1="483.19" y1="122.23" x2="607.59" y2="171.33" stroke="#cbcbcb" stroke-width="0.8" stroke-dasharray="1,1.4"/><line x1="483.19" y1="122.23" x2="483.19" y2="24.43" stroke="#cbcbcb" stroke-width="0.8" stroke-dasharray="1,1.4"/><line x1="480.88" y1="124.9" x2="605.28" y2="174" stroke="#cbcbcb" stroke-width="0.8" stroke-dasharray="1,1.4"/><line x1="480.88" y1="124.9" x2="480.88" y2="27.1" stroke="#cbcbcb" stroke-width="0.8" stroke-dasharray="1,1.4"/><line x1="478.92" y1="127.16" x2="603.32" y2="176.26" stroke="#cbcbcb" stroke-width="0.8" stroke-dasharray="1,1.4"/><line x1="478.92" y1="127.16" x2="478.92" y2="29.36" stroke="#cbcbcb" stroke-width="0.8" stroke-dasharray="1,1.4"/><line x1="477.23" y1="129.12" x2="601.63" y2="178.22" stroke="#cbcbcb" stroke-width="0.8" stroke-dasharray="1,1.4"/><line x1="477.23" y1="129.12" x2="477.23" y2="31.32" stroke="#cbcbcb" stroke-width="0.8" stroke-dasharray="1,1.4"/><line x1="475.74" y1="130.85" x2="600.14" y2="179.95" stroke="#cbcbcb" stroke-width="0.8" stroke-dasharray="1,1.4"/><line x1="475.74" y1="130.85" x2="475.74" y2="33.05" stroke="#cbcbcb" stroke-width="0.8" stroke-dasharray="1,1.4"/><line x1="465.61" y1="142.57" x2="590.01" y2="191.67" stroke="#cbcbcb" stroke-width="0.8" stroke-dasharray="1,1.4"/><line x1="465.61" y1="142.57" x2="465.61" y2="44.77" stroke="#cbcbcb" stroke-width="0.8" stroke-dasharray="1,1.4"/><line x1="460.47" y1="148.53" x2="584.87" y2="197.63" stroke="#cbcbcb" stroke-width="0.8" stroke-dasharray="1,1.4"/><line x1="460.47" y1="148.53" x2="460.47" y2="50.73" stroke="#cbcbcb" stroke-width="0.8" stroke-dasharray="1,1.4"/><line x1="456.82" y1="152.75" x2="581.22" y2="201.85" stroke="#cbcbcb" stroke-width="0.8" stroke-dasharray="1,1.4"/><line x1="456.82" y1="152.75" x2="456.82" y2="54.95" stroke="#cbcbcb" stroke-width="0.8" stroke-dasharray="1,1.4"/><line x1="453.99" y1="156.03" x2="578.39" y2="205.13" stroke="#cbcbcb" stroke-width="0.8" stroke-dasharray="1,1.4"/><line x1="453.99" y1="156.03" x2="453.99" y2="58.23" stroke="#cbcbcb" stroke-width="0.8" stroke-dasharray="1,1.4"/><line x1="451.68" y1="158.7" x2="576.08" y2="207.8" stroke="#cbcbcb" stroke-width="0.8" stroke-dasharray="1,1.4"/><line x1="451.68" y1="158.7" x2="451.68" y2="60.9" stroke="#cbcbcb" stroke-width="0.8" stroke-dasharray="1,1.4"/><line x1="449.72" y1="160.96" x2="574.12" y2="210.06" stroke="#cbcbcb" stroke-width="0.8" stroke-dasharray="1,1.4"/><line x1="449.72" y1="160.96" x2="449.72" y2="63.16" stroke="#cbcbcb" stroke-width="0.8" stroke-dasharray="1,1.4"/><line x1="448.03" y1="162.92" x2="572.43" y2="212.02" stroke="#cbcbcb" stroke-width="0.8" stroke-dasharray="1,1.4"/><line x1="448.03" y1="162.92" x2="448.03" y2="65.12" stroke="#cbcbcb" stroke-width="0.8" stroke-dasharray="1,1.4"/><line x1="446.54" y1="164.65" x2="570.94" y2="213.75" stroke="#cbcbcb" stroke-width="0.8" stroke-dasharray="1,1.4"/><line x1="446.54" y1="164.65" x2="446.54" y2="66.85" stroke="#cbcbcb" stroke-width="0.8" stroke-dasharray="1,1.4"/><line x1="436.41" y1="176.37" x2="560.81" y2="225.47" stroke="#cbcbcb" stroke-width="0.8" stroke-dasharray="1,1.4"/><line x1="436.41" y1="176.37" x2="436.41" y2="78.57" stroke="#cbcbcb" stroke-width="0.8" stroke-dasharray="1,1.4"/><line x1="431.27" y1="182.33" x2="555.67" y2="231.43" stroke="#cbcbcb" stroke-width="0.8" stroke-dasharray="1,1.4"/><line x1="431.27" y1="182.33" x2="431.27" y2="84.53" stroke="#cbcbcb" stroke-width="0.8" stroke-dasharray="1,1.4"/><line x1="427.62" y1="186.55" x2="552.02" y2="235.65" stroke="#cbcbcb" stroke-width="0.8" stroke-dasharray="1,1.4"/><line x1="427.62" y1="186.55" x2="427.62" y2="88.75" stroke="#cbcbcb" stroke-width="0.8" stroke-dasharray="1,1.4"/><line x1="424.79" y1="189.83" x2="549.19" y2="238.93" stroke="#cbcbcb" stroke-width="0.8" stroke-dasharray="1,1.4"/><line x1="424.79" y1="189.83" x2="424.79" y2="92.03" stroke="#cbcbcb" stroke-width="0.8" stroke-dasharray="1,1.4"/><line x1="422.48" y1="192.5" x2="546.88" y2="241.6" stroke="#cbcbcb" stroke-width="0.8" stroke-dasharray="1,1.4"/><line x1="422.48" y1="192.5" x2="422.48" y2="94.7" stroke="#cbcbcb" stroke-width="0.8" stroke-dasharray="1,1.4"/><line x1="420.52" y1="194.76" x2="544.92" y2="243.86" stroke="#cbcbcb" stroke-width="0.8" stroke-dasharray="1,1.4"/><line x1="420.52" y1="194.76" x2="420.52" y2="96.96" stroke="#cbcbcb" stroke-width="0.8" stroke-dasharray="1,1.4"/><line x1="418.83" y1="196.72" x2="543.23" y2="245.82" stroke="#cbcbcb" stroke-width="0.8" stroke-dasharray="1,1.4"/><line x1="418.83" y1="196.72" x2="418.83" y2="98.92" stroke="#cbcbcb" stroke-width="0.8" stroke-dasharray="1,1.4"/><line x1="417.34" y1="198.45" x2="541.74" y2="247.55" stroke="#cbcbcb" stroke-width="0.8" stroke-dasharray="1,1.4"/><line x1="417.34" y1="198.45" x2="417.34" y2="100.65" stroke="#cbcbcb" stroke-width="0.8" stroke-dasharray="1,1.4"/><line x1="474.4" y1="132.4" x2="598.8" y2="181.5" stroke="#e0e0e0" stroke-width="1.0"/><line x1="474.4" y1="132.4" x2="474.4" y2="34.6" stroke="#e0e0e0" stroke-width="1.0"/><line x1="445.2" y1="166.2" x2="569.6" y2="215.3" stroke="#e0e0e0" stroke-width="1.0"/><line x1="445.2" y1="166.2" x2="445.2" y2="68.4" stroke="#e0e0e0" stroke-width="1.0"/><line x1="416" y1="200" x2="540.4" y2="249.1" stroke="#e0e0e0" stroke-width="1.0"/><line x1="416" y1="200" x2="416" y2="102.2" stroke="#e0e0e0" stroke-width="1.0"/><line x1="416" y1="200" x2="489" y2="115.5" stroke="#e0e0e0" stroke-width="1.0"/><line x1="489" y1="115.5" x2="489" y2="17.7" stroke="#e0e0e0" stroke-width="1.0"/><line x1="478.2" y1="224.55" x2="551.2" y2="140.05" stroke="#e0e0e0" stroke-width="1.0"/><line x1="551.2" y1="140.05" x2="551.2" y2="42.25" stroke="#e0e0e0" stroke-width="1.0"/><line x1="540.4" y1="249.1" x2="613.4" y2="164.6" stroke="#e0e0e0" stroke-width="1.0"/><line x1="613.4" y1="164.6" x2="613.4" y2="66.8" stroke="#e0e0e0" stroke-width="1.0"/><line x1="416" y1="200" x2="489" y2="115.5" stroke="#e0e0e0" stroke-width="1.0"/><line x1="489" y1="115.5" x2="613.4" y2="164.6" stroke="#e0e0e0" stroke-width="1.0"/><line x1="416" y1="167.4" x2="489" y2="82.9" stroke="#e0e0e0" stroke-width="1.0"/><line x1="489" y1="82.9" x2="613.4" y2="132" stroke="#e0e0e0" stroke-width="1.0"/><line x1="416" y1="134.8" x2="489" y2="50.3" stroke="#e0e0e0" stroke-width="1.0"/><line x1="489" y1="50.3" x2="613.4" y2="99.4" stroke="#e0e0e0" stroke-width="1.0"/><line x1="416" y1="102.2" x2="489" y2="17.7" stroke="#e0e0e0" stroke-width="1.0"/><line x1="489" y1="17.7" x2="613.4" y2="66.8" stroke="#e0e0e0" stroke-width="1.0"/><line x1="489" y1="115.5" x2="489" y2="17.7" stroke="#e0e0e0" stroke-width="1.0"/><line x1="489" y1="115.5" x2="613.4" y2="164.6" stroke="#e0e0e0" stroke-width="1.0"/></g>
<g fill="none" stroke-width="1.15" stroke-linecap="round"><path d="M517.63,135.86L523.72,133.24" stroke="#4547e1"/><path d="M523.72,133.24L535.51,138.91" stroke="#4547e1"/><path d="M535.51,138.91L547.15,144.74" stroke="#4547e1"/><path d="M547.15,144.74L555.2,141.63" stroke="#4547e1"/><path d="M498.99,142.11L499.61,141.84" stroke="#4547e1"/><path d="M499.61,141.84L517.63,135.86" stroke="#4547e1"/><path d="M477.59,147.26L478.83,146.58" stroke="#4547e1"/><path d="M478.83,146.58L498.99,142.11" stroke="#4547e1"/><path d="M461.73,159.13L477.59,147.26" stroke="#4547e1"/><path d="M454.77,169.98L461.73,159.13" stroke="#4547e1"/><path d="M437.56,176.78L439.49,174.74" stroke="#4547e1"/><path d="M439.49,174.74L454.77,169.98" stroke="#4547e1"/><path d="M425.91,190.31L437.56,176.78" stroke="#4547e1"/><path d="M416.9,200.35L425.91,190.31" stroke="#4547e1"/><path d="M501.06,120.86L501.33,120.37" stroke="#3a6ef6"/><path d="M501.06,120.86L509.89,129.93" stroke="#3a6ef6"/><path d="M509.89,129.93L509.85,132.8" stroke="#3a6ef6"/><path d="M494.65,140.39L505.96,134.49" stroke="#3a6ef6"/><path d="M505.96,134.49L509.85,132.8" stroke="#3a6ef6"/><path d="M476.25,146.73L481.15,143.89" stroke="#3a6ef6"/><path d="M481.15,143.89L494.65,140.39" stroke="#3a6ef6"/><path d="M455.18,156.54L455.28,156.47" stroke="#3a6ef6"/><path d="M455.28,156.47L476.25,146.73" stroke="#3a6ef6"/><path d="M454.39,157.49L455.18,156.54" stroke="#3a6ef6"/><path d="M454.39,157.49L450.46,168.28" stroke="#3a6ef6"/><path d="M437.39,176.72L442.61,171.13" stroke="#3a6ef6"/><path d="M442.61,171.13L450.46,168.28" stroke="#3a6ef6"/><path d="M425.75,190.25L437.39,176.72" stroke="#3a6ef6"/><path d="M416.54,200.21L425.75,190.25" stroke="#3a6ef6"/><path d="M494.73,126.83L498,119.05" stroke="#2594ed"/><path d="M491.97,131.38L494.73,126.83" stroke="#2594ed"/><path d="M491.97,131.38L490.31,138.68" stroke="#2594ed"/><path d="M474.91,146.2L484,140.6" stroke="#2594ed"/><path d="M484,140.6L490.31,138.68" stroke="#2594ed"/><path d="M454.81,156.39L456.41,155.15" stroke="#2594ed"/><path d="M456.41,155.15L474.91,146.2" stroke="#2594ed"/><path d="M446.43,166.68L454.81,156.39" stroke="#2594ed"/><path d="M437.22,176.65L446.43,166.68" stroke="#2594ed"/><path d="M425.6,190.19L437.22,176.65" stroke="#2594ed"/><path d="M416.18,200.07L425.6,190.19" stroke="#2594ed"/><path d="M492.57,125.97L494.68,117.74" stroke="#15b3d1"/><path d="M486.32,137.1L492.57,125.97" stroke="#15b3d1"/><path d="M473.57,145.67L486.32,137.1" stroke="#15b3d1"/><path d="M454.43,156.25L457.66,153.71" stroke="#15b3d1"/><path d="M457.66,153.71L473.57,145.67" stroke="#15b3d1"/><path d="M446.16,166.58L454.43,156.25" stroke="#15b3d1"/><path d="M437.05,176.58L446.16,166.58" stroke="#15b3d1"/><path d="M425.44,190.13L437.05,176.58" stroke="#15b3d1"/><path d="M417.27,198.53L417.39,198.58" stroke="#15b3d1"/><path d="M417.39,198.58L425.44,190.13" stroke="#15b3d1"/><path d="M490.4,125.12L491.35,116.43" stroke="#32c5a0"/><path d="M483.72,136.08L490.4,125.12" stroke="#32c5a0"/><path d="M472.24,145.14L483.72,136.08" stroke="#32c5a0"/><path d="M454.08,155.92L454.21,155.96" stroke="#32c5a0"/><path d="M454.21,155.96L459.04,152.11" stroke="#32c5a0"/><path d="M459.04,152.11L472.24,145.14" stroke="#32c5a0"/><path d="M453.59,156.49L453.71,156.54" stroke="#32c5a0"/><path d="M453.71,156.54L445.9,166.48" stroke="#32c5a0"/><path d="M436.88,176.51L445.9,166.48" stroke="#32c5a0"/><path d="M425.28,190.07L436.88,176.51" stroke="#32c5a0"/><path d="M418.98,196.55L419.1,196.6" stroke="#32c5a0"/><path d="M419.1,196.6L425.28,190.07" stroke="#32c5a0"/><path d="M488.36,118.17L489.57,115.72" stroke="#82c75b"/><path d="M488.36,118.17L488.23,124.26" stroke="#82c75b"/><path d="M481.11,135.05L488.23,124.26" stroke="#82c75b"/><path d="M470.9,144.62L481.11,135.05" stroke="#82c75b"/><path d="M456.12,153.56L456.24,153.61" stroke="#82c75b"/><path d="M456.24,153.61L460.6,150.31" stroke="#82c75b"/><path d="M460.6,150.31L470.9,144.62" stroke="#82c75b"/><path d="M449.03,161.77L449.15,161.82" stroke="#82c75b"/><path d="M449.15,161.82L445.63,166.37" stroke="#82c75b"/><path d="M436.71,176.45L445.63,166.37" stroke="#82c75b"/><path d="M425.13,190L436.71,176.45" stroke="#82c75b"/><path d="M420.96,194.26L421.08,194.31" stroke="#82c75b"/><path d="M421.08,194.31L425.13,190" stroke="#82c75b"/><path d="M486.05,118.91L486.18,118.96" stroke="#cec538"/><path d="M486.18,118.96L485.97,120.94" stroke="#cec538"/><path d="M485.97,120.94L486.07,123.41" stroke="#cec538"/><path d="M478.51,134.02L486.07,123.41" stroke="#cec538"/><path d="M469.56,144.09L478.51,134.02" stroke="#cec538"/><path d="M458.54,150.75L458.67,150.8" stroke="#cec538"/><path d="M458.67,150.8L462.37,148.26" stroke="#cec538"/><path d="M462.37,148.26L469.56,144.09" stroke="#cec538"/><path d="M445.68,165.64L445.81,165.69" stroke="#cec538"/><path d="M445.81,165.69L445.37,166.27" stroke="#cec538"/><path d="M439.62,172.66L439.74,172.71" stroke="#cec538"/><path d="M439.74,172.71L445.37,166.27" stroke="#cec538"/><path d="M433.09,180.22L433.21,180.27" stroke="#cec538"/><path d="M433.21,180.27L424.97,189.94" stroke="#cec538"/><path d="M423.31,191.54L423.43,191.59" stroke="#cec538"/><path d="M423.43,191.59L424.97,189.94" stroke="#cec538"/><path d="M480.03,125.88L480.15,125.93" stroke="#fdce31"/><path d="M480.15,125.93L477.7,130.51" stroke="#fdce31"/><path d="M477.7,130.51L475.9,132.99" stroke="#fdce31"/><path d="M468.22,143.56L475.9,132.99" stroke="#fdce31"/><path d="M461.55,147.28L461.67,147.33" stroke="#fdce31"/><path d="M461.67,147.33L464.43,145.88" stroke="#fdce31"/><path d="M464.43,145.88L468.22,143.56" stroke="#fdce31"/></g>
<g fill="none" stroke-width="1.15" stroke-linejoin="round" stroke-linecap="round"><polygon points="513.88,106.41 508.04,106.98 520.48,127.54 526.32,114.91" fill="#fff"/><path d="M513.88,106.41L508.04,106.98" stroke="#425ef5"/><path d="M513.88,106.41L526.32,114.91" stroke="#425ef5"/><path d="M508.04,106.98L520.48,127.54" stroke="#3578f6"/><path d="M526.32,114.91L520.48,127.54" stroke="#474fef"/><polygon points="501.44,97.92 495.6,98.48 508.04,106.98 513.88,106.41" fill="#fff"/><path d="M501.44,97.92L495.6,98.48" stroke="#3b6df6"/><path d="M501.44,97.92L513.88,106.41" stroke="#3b6df6"/><path d="M495.6,98.48L508.04,106.98" stroke="#2e87f7"/><path d="M513.88,106.41L508.04,106.98" stroke="#425ef5"/><polygon points="526.32,114.91 520.48,127.54 532.92,131.79 538.76,119.17" fill="#fff"/><path d="M526.32,114.91L520.48,127.54" stroke="#474fef"/><path d="M526.32,114.91L538.76,119.17" stroke="#474fef"/><path d="M520.48,127.54L532.92,131.79" stroke="#423bcc"/><path d="M538.76,119.17L532.92,131.79" stroke="#4852f3"/><polygon points="508.04,106.98 499.28,129.83 511.72,137.35 520.48,127.54" fill="#fff"/><path d="M508.04,106.98L499.28,129.83" stroke="#3578f6"/><path d="M508.04,106.98L520.48,127.54" stroke="#3578f6"/><path d="M499.28,129.83L511.72,137.35" stroke="#4545dd"/><path d="M520.48,127.54L511.72,137.35" stroke="#423bcc"/><polygon points="538.76,119.17 532.92,131.79 545.36,135.4 551.2,124.08" fill="#fff"/><path d="M538.76,119.17L532.92,131.79" stroke="#4852f3"/><path d="M538.76,119.17L551.2,124.08" stroke="#4852f3"/><path d="M532.92,131.79L545.36,135.4" stroke="#433dd0"/><path d="M551.2,124.08L545.36,135.4" stroke="#4852f3"/><polygon points="520.48,127.54 511.72,137.35 524.16,144.54 532.92,131.79" fill="#fff"/><path d="M520.48,127.54L511.72,137.35" stroke="#423bcc"/><path d="M520.48,127.54L532.92,131.79" stroke="#423bcc"/><path d="M511.72,137.35L524.16,144.54" stroke="#433cce"/><path d="M532.92,131.79L524.16,144.54" stroke="#433dd0"/><polygon points="551.2,124.08 545.36,135.4 557.8,145.2 563.64,138.11" fill="#fff"/><path d="M551.2,124.08L545.36,135.4" stroke="#4852f3"/><path d="M551.2,124.08L563.64,138.11" stroke="#4852f3"/><path d="M545.36,135.4L557.8,145.2" stroke="#4442d8"/><path d="M563.64,138.11L557.8,145.2" stroke="#4032bc"/><polygon points="563.64,138.11 557.8,145.2 570.24,150.11 576.08,143.35" fill="#fff"/><path d="M563.64,138.11L557.8,145.2" stroke="#4032bc"/><path d="M563.64,138.11L576.08,143.35" stroke="#4032bc"/><path d="M557.8,145.2L570.24,150.11" stroke="#4031ba"/><path d="M576.08,143.35L570.24,150.11" stroke="#4031ba"/><polygon points="532.92,131.79 524.16,144.54 536.6,149.78 545.36,135.4" fill="#fff"/><path d="M532.92,131.79L524.16,144.54" stroke="#433dd0"/><path d="M532.92,131.79L545.36,135.4" stroke="#433dd0"/><path d="M524.16,144.54L536.6,149.78" stroke="#4134c0"/><path d="M545.36,135.4L536.6,149.78" stroke="#4442d8"/><polygon points="495.6,98.48 486.84,96.89 499.28,129.83 508.04,106.98" fill="#fff"/><path d="M495.6,98.48L486.84,96.89" stroke="#2e87f7"/><path d="M495.6,98.48L508.04,106.98" stroke="#2e87f7"/><path d="M486.84,96.89L499.28,129.83" stroke="#14aed8"/><path d="M508.04,106.98L499.28,129.83" stroke="#3578f6"/><polygon points="499.28,129.83 490.52,145.84 502.96,150.75 511.72,137.35" fill="#fff"/><path d="M499.28,129.83L490.52,145.84" stroke="#4545dd"/><path d="M499.28,129.83L511.72,137.35" stroke="#4545dd"/><path d="M490.52,145.84L502.96,150.75" stroke="#4031ba"/><path d="M511.72,137.35L502.96,150.75" stroke="#433cce"/><polygon points="486.84,96.89 478.08,138 490.52,145.84 499.28,129.83" fill="#fff"/><path d="M486.84,96.89L478.08,138" stroke="#14aed8"/><path d="M486.84,96.89L499.28,129.83" stroke="#14aed8"/><path d="M478.08,138L490.52,145.84" stroke="#423bcc"/><path d="M499.28,129.83L490.52,145.84" stroke="#4545dd"/><polygon points="490.24,60.57 484.4,43.53 495.6,98.48 501.44,97.92" fill="#fff"/><path d="M490.24,60.57L484.4,43.53" stroke="#45c88c"/><path d="M490.24,60.57L501.44,97.92" stroke="#45c88c"/><path d="M484.4,43.53L495.6,98.48" stroke="#fec438"/><path d="M501.44,97.92L495.6,98.48" stroke="#3b6df6"/><polygon points="545.36,135.4 536.6,149.78 549.04,155.34 557.8,145.2" fill="#fff"/><path d="M545.36,135.4L536.6,149.78" stroke="#4442d8"/><path d="M545.36,135.4L557.8,145.2" stroke="#4442d8"/><path d="M536.6,149.78L549.04,155.34" stroke="#4133be"/><path d="M557.8,145.2L549.04,155.34" stroke="#4031ba"/><polygon points="511.72,137.35 502.96,150.75 515.4,155.66 524.16,144.54" fill="#fff"/><path d="M511.72,137.35L502.96,150.75" stroke="#433cce"/><path d="M511.72,137.35L524.16,144.54" stroke="#433cce"/><path d="M502.96,150.75L515.4,155.66" stroke="#4031ba"/><path d="M524.16,144.54L515.4,155.66" stroke="#4134c0"/><polygon points="576.08,143.35 570.24,150.11 582.68,155.02 588.52,148.26" fill="#fff"/><path d="M576.08,143.35L570.24,150.11" stroke="#4031ba"/><path d="M576.08,143.35L588.52,148.26" stroke="#4031ba"/><path d="M570.24,150.11L582.68,155.02" stroke="#4031ba"/><path d="M588.52,148.26L582.68,155.02" stroke="#4031ba"/><polygon points="478.08,138 466.4,154.45 478.84,159.36 490.52,145.84" fill="#fff"/><path d="M478.08,138L466.4,154.45" stroke="#423bcc"/><path d="M478.08,138L490.52,145.84" stroke="#423bcc"/><path d="M466.4,154.45L478.84,159.36" stroke="#4031ba"/><path d="M490.52,145.84L478.84,159.36" stroke="#4031ba"/><polygon points="557.8,145.2 549.04,155.34 561.48,160.25 570.24,150.11" fill="#fff"/><path d="M557.8,145.2L549.04,155.34" stroke="#4031ba"/><path d="M557.8,145.2L570.24,150.11" stroke="#4031ba"/><path d="M549.04,155.34L561.48,160.25" stroke="#4031ba"/><path d="M570.24,150.11L561.48,160.25" stroke="#4031ba"/><polygon points="524.16,144.54 515.4,155.66 527.84,160.57 536.6,149.78" fill="#fff"/><path d="M524.16,144.54L515.4,155.66" stroke="#4134c0"/><path d="M524.16,144.54L536.6,149.78" stroke="#4134c0"/><path d="M515.4,155.66L527.84,160.57" stroke="#4031ba"/><path d="M536.6,149.78L527.84,160.57" stroke="#4133be"/><polygon points="588.52,148.26 582.68,155.02 595.12,159.93 600.96,153.17" fill="#fff"/><path d="M588.52,148.26L582.68,155.02" stroke="#4031ba"/><path d="M588.52,148.26L600.96,153.17" stroke="#4031ba"/><path d="M582.68,155.02L595.12,159.93" stroke="#4031ba"/><path d="M600.96,153.17L595.12,159.93" stroke="#4031ba"/><polygon points="490.52,145.84 478.84,159.36 491.28,164.27 502.96,150.75" fill="#fff"/><path d="M490.52,145.84L478.84,159.36" stroke="#4031ba"/><path d="M490.52,145.84L502.96,150.75" stroke="#4031ba"/><path d="M478.84,159.36L491.28,164.27" stroke="#4031ba"/><path d="M502.96,150.75L491.28,164.27" stroke="#4031ba"/><polygon points="570.24,150.11 561.48,160.25 573.92,165.16 582.68,155.02" fill="#fff"/><path d="M570.24,150.11L561.48,160.25" stroke="#4031ba"/><path d="M570.24,150.11L582.68,155.02" stroke="#4031ba"/><path d="M561.48,160.25L573.92,165.16" stroke="#4031ba"/><path d="M582.68,155.02L573.92,165.16" stroke="#4031ba"/><polygon points="536.6,149.78 527.84,160.57 540.28,165.48 549.04,155.34" fill="#fff"/><path d="M536.6,149.78L527.84,160.57" stroke="#4133be"/><path d="M536.6,149.78L549.04,155.34" stroke="#4133be"/><path d="M527.84,160.57L540.28,165.48" stroke="#4031ba"/><path d="M549.04,155.34L540.28,165.48" stroke="#4031ba"/><polygon points="600.96,153.17 595.12,159.93 606.32,164.35 612.16,157.59" fill="#fff"/><path d="M600.96,153.17L595.12,159.93" stroke="#4031ba"/><path d="M600.96,153.17L612.16,157.59" stroke="#4031ba"/><path d="M595.12,159.93L606.32,164.35" stroke="#4031ba"/><path d="M612.16,157.59L606.32,164.35" stroke="#4031ba"/><polygon points="502.96,150.75 491.28,164.27 503.72,169.18 515.4,155.66" fill="#fff"/><path d="M502.96,150.75L491.28,164.27" stroke="#4031ba"/><path d="M502.96,150.75L515.4,155.66" stroke="#4031ba"/><path d="M491.28,164.27L503.72,169.18" stroke="#4031ba"/><path d="M515.4,155.66L503.72,169.18" stroke="#4031ba"/><polygon points="612.16,157.59 606.32,164.35 607.44,164.79 613.28,158.03" fill="#fff"/><path d="M612.16,157.59L606.32,164.35" stroke="#4031ba"/><path d="M612.16,157.59L613.28,158.03" stroke="#4031ba"/><path d="M606.32,164.35L607.44,164.79" stroke="#4031ba"/><path d="M613.28,158.03L607.44,164.79" stroke="#4031ba"/><polygon points="613.28,158.03 607.44,164.79 607.56,164.84 613.4,158.08" fill="#fff"/><path d="M613.28,158.03L607.44,164.79" stroke="#4031ba"/><path d="M613.28,158.03L613.4,158.08" stroke="#4031ba"/><path d="M607.44,164.79L607.56,164.84" stroke="#4031ba"/><path d="M613.4,158.08L607.56,164.84" stroke="#4031ba"/><polygon points="466.4,154.45 457.64,164.59 470.08,169.5 478.84,159.36" fill="#fff"/><path d="M466.4,154.45L457.64,164.59" stroke="#4031ba"/><path d="M466.4,154.45L478.84,159.36" stroke="#4031ba"/><path d="M457.64,164.59L470.08,169.5" stroke="#4031ba"/><path d="M478.84,159.36L470.08,169.5" stroke="#4031ba"/><polygon points="582.68,155.02 573.92,165.16 586.36,170.07 595.12,159.93" fill="#fff"/><path d="M582.68,155.02L573.92,165.16" stroke="#4031ba"/><path d="M582.68,155.02L595.12,159.93" stroke="#4031ba"/><path d="M573.92,165.16L586.36,170.07" stroke="#4031ba"/><path d="M595.12,159.93L586.36,170.07" stroke="#4031ba"/><polygon points="549.04,155.34 540.28,165.48 552.72,170.39 561.48,160.25" fill="#fff"/><path d="M549.04,155.34L540.28,165.48" stroke="#4031ba"/><path d="M549.04,155.34L561.48,160.25" stroke="#4031ba"/><path d="M540.28,165.48L552.72,170.39" stroke="#4031ba"/><path d="M561.48,160.25L552.72,170.39" stroke="#4031ba"/><polygon points="515.4,155.66 503.72,169.18 516.16,174.09 527.84,160.57" fill="#fff"/><path d="M515.4,155.66L503.72,169.18" stroke="#4031ba"/><path d="M515.4,155.66L527.84,160.57" stroke="#4031ba"/><path d="M503.72,169.18L516.16,174.09" stroke="#4031ba"/><path d="M527.84,160.57L516.16,174.09" stroke="#4031ba"/><polygon points="489.12,49.37 483.28,43.74 484.4,43.53 490.24,60.57" fill="#fff"/><path d="M489.12,49.37L483.28,43.74" stroke="#a9c73b"/><path d="M489.12,49.37L490.24,60.57" stroke="#a9c73b"/><path d="M483.28,43.74L484.4,43.53" stroke="#fbc338"/><path d="M490.24,60.57L484.4,43.53" stroke="#45c88c"/><polygon points="455.2,134.38 446.44,134.74 457.64,164.59 466.4,154.45" fill="#fff"/><path d="M455.2,134.38L446.44,134.74" stroke="#3b6bf6"/><path d="M455.2,134.38L466.4,154.45" stroke="#3b6bf6"/><path d="M446.44,134.74L457.64,164.59" stroke="#2692ee"/><path d="M466.4,154.45L457.64,164.59" stroke="#4031ba"/><polygon points="484.4,43.53 475.64,50.41 486.84,96.89 495.6,98.48" fill="#fff"/><path d="M484.4,43.53L475.64,50.41" stroke="#fec438"/><path d="M484.4,43.53L495.6,98.48" stroke="#fec438"/><path d="M475.64,50.41L486.84,96.89" stroke="#fdd32e"/><path d="M495.6,98.48L486.84,96.89" stroke="#2e87f7"/><polygon points="478.84,159.36 470.08,169.5 482.52,174.41 491.28,164.27" fill="#fff"/><path d="M478.84,159.36L470.08,169.5" stroke="#4031ba"/><path d="M478.84,159.36L491.28,164.27" stroke="#4031ba"/><path d="M470.08,169.5L482.52,174.41" stroke="#4031ba"/><path d="M491.28,164.27L482.52,174.41" stroke="#4031ba"/><polygon points="595.12,159.93 586.36,170.07 597.56,174.49 606.32,164.35" fill="#fff"/><path d="M595.12,159.93L586.36,170.07" stroke="#4031ba"/><path d="M595.12,159.93L606.32,164.35" stroke="#4031ba"/><path d="M586.36,170.07L597.56,174.49" stroke="#4031ba"/><path d="M606.32,164.35L597.56,174.49" stroke="#4031ba"/><polygon points="466.88,51.75 455.2,134.38 466.4,154.45 478.08,138" fill="#fff"/><path d="M466.88,51.75L455.2,134.38" stroke="#f9f915"/><path d="M466.88,51.75L478.08,138" stroke="#f9f915"/><path d="M455.2,134.38L466.4,154.45" stroke="#3b6bf6"/><path d="M478.08,138L466.4,154.45" stroke="#423bcc"/><polygon points="561.48,160.25 552.72,170.39 565.16,175.3 573.92,165.16" fill="#fff"/><path d="M561.48,160.25L552.72,170.39" stroke="#4031ba"/><path d="M561.48,160.25L573.92,165.16" stroke="#4031ba"/><path d="M552.72,170.39L565.16,175.3" stroke="#4031ba"/><path d="M573.92,165.16L565.16,175.3" stroke="#4031ba"/><polygon points="489,49.32 483.16,43.69 483.28,43.74 489.12,49.37" fill="#fff"/><path d="M489,49.32L483.16,43.69" stroke="#a9c73b"/><path d="M489,49.32L489.12,49.37" stroke="#a9c73b"/><path d="M483.16,43.69L483.28,43.74" stroke="#fbc338"/><path d="M489.12,49.37L483.28,43.74" stroke="#a9c73b"/><polygon points="606.32,164.35 597.56,174.49 598.68,174.93 607.44,164.79" fill="#fff"/><path d="M606.32,164.35L597.56,174.49" stroke="#4031ba"/><path d="M606.32,164.35L607.44,164.79" stroke="#4031ba"/><path d="M597.56,174.49L598.68,174.93" stroke="#4031ba"/><path d="M607.44,164.79L598.68,174.93" stroke="#4031ba"/><polygon points="527.84,160.57 516.16,174.09 528.6,179 540.28,165.48" fill="#fff"/><path d="M527.84,160.57L516.16,174.09" stroke="#4031ba"/><path d="M527.84,160.57L540.28,165.48" stroke="#4031ba"/><path d="M516.16,174.09L528.6,179" stroke="#4031ba"/><path d="M540.28,165.48L528.6,179" stroke="#4031ba"/><polygon points="607.44,164.79 598.68,174.93 598.8,174.98 607.56,164.84" fill="#fff"/><path d="M607.44,164.79L598.68,174.93" stroke="#4031ba"/><path d="M607.44,164.79L607.56,164.84" stroke="#4031ba"/><path d="M598.68,174.93L598.8,174.98" stroke="#4031ba"/><path d="M607.56,164.84L598.8,174.98" stroke="#4031ba"/><polygon points="491.28,164.27 482.52,174.41 494.96,179.32 503.72,169.18" fill="#fff"/><path d="M491.28,164.27L482.52,174.41" stroke="#4031ba"/><path d="M491.28,164.27L503.72,169.18" stroke="#4031ba"/><path d="M482.52,174.41L494.96,179.32" stroke="#4031ba"/><path d="M503.72,169.18L494.96,179.32" stroke="#4031ba"/><polygon points="457.64,164.59 448.88,174.73 461.32,179.64 470.08,169.5" fill="#fff"/><path d="M457.64,164.59L448.88,174.73" stroke="#4031ba"/><path d="M457.64,164.59L470.08,169.5" stroke="#4031ba"/><path d="M448.88,174.73L461.32,179.64" stroke="#4031ba"/><path d="M470.08,169.5L461.32,179.64" stroke="#4031ba"/><polygon points="573.92,165.16 565.16,175.3 577.6,180.21 586.36,170.07" fill="#fff"/><path d="M573.92,165.16L565.16,175.3" stroke="#4031ba"/><path d="M573.92,165.16L586.36,170.07" stroke="#4031ba"/><path d="M565.16,175.3L577.6,180.21" stroke="#4031ba"/><path d="M586.36,170.07L577.6,180.21" stroke="#4031ba"/><polygon points="446.44,134.74 437.68,170.64 448.88,174.73 457.64,164.59" fill="#fff"/><path d="M446.44,134.74L437.68,170.64" stroke="#2692ee"/><path d="M446.44,134.74L457.64,164.59" stroke="#2692ee"/><path d="M437.68,170.64L448.88,174.73" stroke="#402fb8"/><path d="M457.64,164.59L448.88,174.73" stroke="#4031ba"/><polygon points="540.28,165.48 528.6,179 541.04,183.91 552.72,170.39" fill="#fff"/><path d="M540.28,165.48L528.6,179" stroke="#4031ba"/><path d="M540.28,165.48L552.72,170.39" stroke="#4031ba"/><path d="M528.6,179L541.04,183.91" stroke="#4031ba"/><path d="M552.72,170.39L541.04,183.91" stroke="#4031ba"/><polygon points="475.64,50.41 466.88,51.75 478.08,138 486.84,96.89" fill="#fff"/><path d="M475.64,50.41L466.88,51.75" stroke="#fdd32e"/><path d="M475.64,50.41L486.84,96.89" stroke="#fdd32e"/><path d="M466.88,51.75L478.08,138" stroke="#f9f915"/><path d="M486.84,96.89L478.08,138" stroke="#14aed8"/><polygon points="503.72,169.18 494.96,179.32 507.4,184.23 516.16,174.09" fill="#fff"/><path d="M503.72,169.18L494.96,179.32" stroke="#4031ba"/><path d="M503.72,169.18L516.16,174.09" stroke="#4031ba"/><path d="M494.96,179.32L507.4,184.23" stroke="#4031ba"/><path d="M516.16,174.09L507.4,184.23" stroke="#4031ba"/><polygon points="470.08,169.5 461.32,179.64 473.76,184.55 482.52,174.41" fill="#fff"/><path d="M470.08,169.5L461.32,179.64" stroke="#4031ba"/><path d="M470.08,169.5L482.52,174.41" stroke="#4031ba"/><path d="M461.32,179.64L473.76,184.55" stroke="#4031ba"/><path d="M482.52,174.41L473.76,184.55" stroke="#4031ba"/><polygon points="586.36,170.07 577.6,180.21 588.8,184.63 597.56,174.49" fill="#fff"/><path d="M586.36,170.07L577.6,180.21" stroke="#4031ba"/><path d="M586.36,170.07L597.56,174.49" stroke="#4031ba"/><path d="M577.6,180.21L588.8,184.63" stroke="#4031ba"/><path d="M597.56,174.49L588.8,184.63" stroke="#4031ba"/><polygon points="437.68,170.64 426,183.18 437.2,188.25 448.88,174.73" fill="#fff"/><path d="M437.68,170.64L426,183.18" stroke="#402fb8"/><path d="M437.68,170.64L448.88,174.73" stroke="#402fb8"/><path d="M426,183.18L437.2,188.25" stroke="#4133be"/><path d="M448.88,174.73L437.2,188.25" stroke="#4031ba"/><polygon points="552.72,170.39 541.04,183.91 553.48,188.82 565.16,175.3" fill="#fff"/><path d="M552.72,170.39L541.04,183.91" stroke="#4031ba"/><path d="M552.72,170.39L565.16,175.3" stroke="#4031ba"/><path d="M541.04,183.91L553.48,188.82" stroke="#4031ba"/><path d="M565.16,175.3L553.48,188.82" stroke="#4031ba"/><polygon points="597.56,174.49 588.8,184.63 589.92,185.07 598.68,174.93" fill="#fff"/><path d="M597.56,174.49L588.8,184.63" stroke="#4031ba"/><path d="M597.56,174.49L598.68,174.93" stroke="#4031ba"/><path d="M588.8,184.63L589.92,185.07" stroke="#4031ba"/><path d="M598.68,174.93L589.92,185.07" stroke="#4031ba"/><polygon points="598.68,174.93 589.92,185.07 590.04,185.12 598.8,174.98" fill="#fff"/><path d="M598.68,174.93L589.92,185.07" stroke="#4031ba"/><path d="M598.68,174.93L598.8,174.98" stroke="#4031ba"/><path d="M589.92,185.07L590.04,185.12" stroke="#4031ba"/><path d="M598.8,174.98L590.04,185.12" stroke="#4031ba"/><polygon points="516.16,174.09 507.4,184.23 519.84,189.14 528.6,179" fill="#fff"/><path d="M516.16,174.09L507.4,184.23" stroke="#4031ba"/><path d="M516.16,174.09L528.6,179" stroke="#4031ba"/><path d="M507.4,184.23L519.84,189.14" stroke="#4031ba"/><path d="M528.6,179L519.84,189.14" stroke="#4031ba"/><polygon points="482.52,174.41 473.76,184.55 486.2,189.46 494.96,179.32" fill="#fff"/><path d="M482.52,174.41L473.76,184.55" stroke="#4031ba"/><path d="M482.52,174.41L494.96,179.32" stroke="#4031ba"/><path d="M473.76,184.55L486.2,189.46" stroke="#4031ba"/><path d="M494.96,179.32L486.2,189.46" stroke="#4031ba"/><polygon points="448.88,174.73 437.2,188.25 449.64,193.16 461.32,179.64" fill="#fff"/><path d="M448.88,174.73L437.2,188.25" stroke="#4031ba"/><path d="M448.88,174.73L461.32,179.64" stroke="#4031ba"/><path d="M437.2,188.25L449.64,193.16" stroke="#4031ba"/><path d="M461.32,179.64L449.64,193.16" stroke="#4031ba"/><polygon points="565.16,175.3 553.48,188.82 565.92,193.73 577.6,180.21" fill="#fff"/><path d="M565.16,175.3L553.48,188.82" stroke="#4031ba"/><path d="M565.16,175.3L577.6,180.21" stroke="#4031ba"/><path d="M553.48,188.82L565.92,193.73" stroke="#4031ba"/><path d="M577.6,180.21L565.92,193.73" stroke="#4031ba"/><polygon points="483.28,43.74 474.52,43.45 475.64,50.41 484.4,43.53" fill="#fff"/><path d="M483.28,43.74L474.52,43.45" stroke="#fbc338"/><path d="M483.28,43.74L484.4,43.53" stroke="#fbc338"/><path d="M474.52,43.45L475.64,50.41" stroke="#faef1c"/><path d="M484.4,43.53L475.64,50.41" stroke="#fec438"/><polygon points="483.16,43.69 474.4,43.4 474.52,43.45 483.28,43.74" fill="#fff"/><path d="M483.16,43.69L474.4,43.4" stroke="#fbc338"/><path d="M483.16,43.69L483.28,43.74" stroke="#fbc338"/><path d="M474.4,43.4L474.52,43.45" stroke="#faef1c"/><path d="M483.28,43.74L474.52,43.45" stroke="#fbc338"/><polygon points="528.6,179 519.84,189.14 532.28,194.05 541.04,183.91" fill="#fff"/><path d="M528.6,179L519.84,189.14" stroke="#4031ba"/><path d="M528.6,179L541.04,183.91" stroke="#4031ba"/><path d="M519.84,189.14L532.28,194.05" stroke="#4031ba"/><path d="M541.04,183.91L532.28,194.05" stroke="#4031ba"/><polygon points="494.96,179.32 486.2,189.46 498.64,194.37 507.4,184.23" fill="#fff"/><path d="M494.96,179.32L486.2,189.46" stroke="#4031ba"/><path d="M494.96,179.32L507.4,184.23" stroke="#4031ba"/><path d="M486.2,189.46L498.64,194.37" stroke="#4031ba"/><path d="M507.4,184.23L498.64,194.37" stroke="#4031ba"/><polygon points="454.08,104.6 445.32,92.9 446.44,134.74 455.2,134.38" fill="#fff"/><path d="M454.08,104.6L445.32,92.9" stroke="#30c4a3"/><path d="M454.08,104.6L455.2,134.38" stroke="#30c4a3"/><path d="M445.32,92.9L446.44,134.74" stroke="#d9c538"/><path d="M455.2,134.38L446.44,134.74" stroke="#3b6bf6"/><polygon points="461.32,179.64 449.64,193.16 462.08,198.07 473.76,184.55" fill="#fff"/><path d="M461.32,179.64L449.64,193.16" stroke="#4031ba"/><path d="M461.32,179.64L473.76,184.55" stroke="#4031ba"/><path d="M449.64,193.16L462.08,198.07" stroke="#4031ba"/><path d="M473.76,184.55L462.08,198.07" stroke="#4031ba"/><polygon points="577.6,180.21 565.92,193.73 577.12,198.15 588.8,184.63" fill="#fff"/><path d="M577.6,180.21L565.92,193.73" stroke="#4031ba"/><path d="M577.6,180.21L588.8,184.63" stroke="#4031ba"/><path d="M565.92,193.73L577.12,198.15" stroke="#4031ba"/><path d="M588.8,184.63L577.12,198.15" stroke="#4031ba"/><polygon points="426,183.18 417.24,196.91 428.44,198.39 437.2,188.25" fill="#fff"/><path d="M426,183.18L417.24,196.91" stroke="#4133be"/><path d="M426,183.18L437.2,188.25" stroke="#4133be"/><path d="M417.24,196.91L428.44,198.39" stroke="#3e26a8"/><path d="M437.2,188.25L428.44,198.39" stroke="#4031ba"/><polygon points="541.04,183.91 532.28,194.05 544.72,198.96 553.48,188.82" fill="#fff"/><path d="M541.04,183.91L532.28,194.05" stroke="#4031ba"/><path d="M541.04,183.91L553.48,188.82" stroke="#4031ba"/><path d="M532.28,194.05L544.72,198.96" stroke="#4031ba"/><path d="M553.48,188.82L544.72,198.96" stroke="#4031ba"/><polygon points="465.76,50.98 454.08,104.6 455.2,134.38 466.88,51.75" fill="#fff"/><path d="M465.76,50.98L454.08,104.6" stroke="#f9fb15"/><path d="M465.76,50.98L466.88,51.75" stroke="#f9fb15"/><path d="M454.08,104.6L455.2,134.38" stroke="#30c4a3"/><path d="M466.88,51.75L455.2,134.38" stroke="#f9f915"/><polygon points="588.8,184.63 577.12,198.15 578.24,198.59 589.92,185.07" fill="#fff"/><path d="M588.8,184.63L577.12,198.15" stroke="#4031ba"/><path d="M588.8,184.63L589.92,185.07" stroke="#4031ba"/><path d="M577.12,198.15L578.24,198.59" stroke="#4031ba"/><path d="M589.92,185.07L578.24,198.59" stroke="#4031ba"/><polygon points="507.4,184.23 498.64,194.37 511.08,199.28 519.84,189.14" fill="#fff"/><path d="M507.4,184.23L498.64,194.37" stroke="#4031ba"/><path d="M507.4,184.23L519.84,189.14" stroke="#4031ba"/><path d="M498.64,194.37L511.08,199.28" stroke="#4031ba"/><path d="M519.84,189.14L511.08,199.28" stroke="#4031ba"/><polygon points="589.92,185.07 578.24,198.59 578.36,198.64 590.04,185.12" fill="#fff"/><path d="M589.92,185.07L578.24,198.59" stroke="#4031ba"/><path d="M589.92,185.07L590.04,185.12" stroke="#4031ba"/><path d="M578.24,198.59L578.36,198.64" stroke="#4031ba"/><path d="M590.04,185.12L578.36,198.64" stroke="#4031ba"/><polygon points="473.76,184.55 462.08,198.07 474.52,202.98 486.2,189.46" fill="#fff"/><path d="M473.76,184.55L462.08,198.07" stroke="#4031ba"/><path d="M473.76,184.55L486.2,189.46" stroke="#4031ba"/><path d="M462.08,198.07L474.52,202.98" stroke="#4031ba"/><path d="M486.2,189.46L474.52,202.98" stroke="#4031ba"/><polygon points="437.2,188.25 428.44,198.39 440.88,203.3 449.64,193.16" fill="#fff"/><path d="M437.2,188.25L428.44,198.39" stroke="#4031ba"/><path d="M437.2,188.25L449.64,193.16" stroke="#4031ba"/><path d="M428.44,198.39L440.88,203.3" stroke="#4031ba"/><path d="M449.64,193.16L440.88,203.3" stroke="#4031ba"/><polygon points="553.48,188.82 544.72,198.96 557.16,203.87 565.92,193.73" fill="#fff"/><path d="M553.48,188.82L544.72,198.96" stroke="#4031ba"/><path d="M553.48,188.82L565.92,193.73" stroke="#4031ba"/><path d="M544.72,198.96L557.16,203.87" stroke="#4031ba"/><path d="M565.92,193.73L557.16,203.87" stroke="#4031ba"/><polygon points="519.84,189.14 511.08,199.28 523.52,204.19 532.28,194.05" fill="#fff"/><path d="M519.84,189.14L511.08,199.28" stroke="#4031ba"/><path d="M519.84,189.14L532.28,194.05" stroke="#4031ba"/><path d="M511.08,199.28L523.52,204.19" stroke="#4031ba"/><path d="M532.28,194.05L523.52,204.19" stroke="#4031ba"/><polygon points="465.64,50.93 453.96,104.55 454.08,104.6 465.76,50.98" fill="#fff"/><path d="M465.64,50.93L453.96,104.55" stroke="#f9fb15"/><path d="M465.64,50.93L465.76,50.98" stroke="#f9fb15"/><path d="M453.96,104.55L454.08,104.6" stroke="#30c4a3"/><path d="M465.76,50.98L454.08,104.6" stroke="#f9fb15"/><polygon points="445.32,92.9 436.56,105.97 437.68,170.64 446.44,134.74" fill="#fff"/><path d="M445.32,92.9L436.56,105.97" stroke="#d9c538"/><path d="M445.32,92.9L446.44,134.74" stroke="#d9c538"/><path d="M436.56,105.97L437.68,170.64" stroke="#c5c639"/><path d="M446.44,134.74L437.68,170.64" stroke="#2692ee"/><polygon points="486.2,189.46 474.52,202.98 486.96,207.89 498.64,194.37" fill="#fff"/><path d="M486.2,189.46L474.52,202.98" stroke="#4031ba"/><path d="M486.2,189.46L498.64,194.37" stroke="#4031ba"/><path d="M474.52,202.98L486.96,207.89" stroke="#4031ba"/><path d="M498.64,194.37L486.96,207.89" stroke="#4031ba"/><polygon points="474.52,43.45 465.76,50.98 466.88,51.75 475.64,50.41" fill="#fff"/><path d="M474.52,43.45L465.76,50.98" stroke="#faef1c"/><path d="M474.52,43.45L475.64,50.41" stroke="#faef1c"/><path d="M465.76,50.98L466.88,51.75" stroke="#f9fb15"/><path d="M475.64,50.41L466.88,51.75" stroke="#fdd32e"/><polygon points="449.64,193.16 440.88,203.3 453.32,208.21 462.08,198.07" fill="#fff"/><path d="M449.64,193.16L440.88,203.3" stroke="#4031ba"/><path d="M449.64,193.16L462.08,198.07" stroke="#4031ba"/><path d="M440.88,203.3L453.32,208.21" stroke="#4031ba"/><path d="M462.08,198.07L453.32,208.21" stroke="#4031ba"/><polygon points="565.92,193.73 557.16,203.87 568.36,208.29 577.12,198.15" fill="#fff"/><path d="M565.92,193.73L557.16,203.87" stroke="#4031ba"/><path d="M565.92,193.73L577.12,198.15" stroke="#4031ba"/><path d="M557.16,203.87L568.36,208.29" stroke="#4031ba"/><path d="M577.12,198.15L568.36,208.29" stroke="#4031ba"/><polygon points="474.4,43.4 465.64,50.93 465.76,50.98 474.52,43.45" fill="#fff"/><path d="M474.4,43.4L465.64,50.93" stroke="#faef1c"/><path d="M474.4,43.4L474.52,43.45" stroke="#faef1c"/><path d="M465.64,50.93L465.76,50.98" stroke="#f9fb15"/><path d="M474.52,43.45L465.76,50.98" stroke="#faef1c"/><polygon points="532.28,194.05 523.52,204.19 535.96,209.1 544.72,198.96" fill="#fff"/><path d="M532.28,194.05L523.52,204.19" stroke="#4031ba"/><path d="M532.28,194.05L544.72,198.96" stroke="#4031ba"/><path d="M523.52,204.19L535.96,209.1" stroke="#4031ba"/><path d="M544.72,198.96L535.96,209.1" stroke="#4031ba"/><polygon points="453.96,104.55 445.2,92.85 445.32,92.9 454.08,104.6" fill="#fff"/><path d="M453.96,104.55L445.2,92.85" stroke="#30c4a3"/><path d="M453.96,104.55L454.08,104.6" stroke="#30c4a3"/><path d="M445.2,92.85L445.32,92.9" stroke="#d9c538"/><path d="M454.08,104.6L445.32,92.9" stroke="#30c4a3"/><polygon points="577.12,198.15 568.36,208.29 569.48,208.73 578.24,198.59" fill="#fff"/><path d="M577.12,198.15L568.36,208.29" stroke="#4031ba"/><path d="M577.12,198.15L578.24,198.59" stroke="#4031ba"/><path d="M568.36,208.29L569.48,208.73" stroke="#4031ba"/><path d="M578.24,198.59L569.48,208.73" stroke="#4031ba"/><polygon points="498.64,194.37 486.96,207.89 499.4,212.8 511.08,199.28" fill="#fff"/><path d="M498.64,194.37L486.96,207.89" stroke="#4031ba"/><path d="M498.64,194.37L511.08,199.28" stroke="#4031ba"/><path d="M486.96,207.89L499.4,212.8" stroke="#4031ba"/><path d="M511.08,199.28L499.4,212.8" stroke="#4031ba"/><polygon points="578.24,198.59 569.48,208.73 569.6,208.78 578.36,198.64" fill="#fff"/><path d="M578.24,198.59L569.48,208.73" stroke="#4031ba"/><path d="M578.24,198.59L578.36,198.64" stroke="#4031ba"/><path d="M569.48,208.73L569.6,208.78" stroke="#4031ba"/><path d="M578.36,198.64L569.6,208.78" stroke="#4031ba"/><polygon points="436.56,105.97 424.88,112.97 426,183.18 437.68,170.64" fill="#fff"/><path d="M436.56,105.97L424.88,112.97" stroke="#c5c639"/><path d="M436.56,105.97L437.68,170.64" stroke="#c5c639"/><path d="M424.88,112.97L426,183.18" stroke="#f0c438"/><path d="M437.68,170.64L426,183.18" stroke="#402fb8"/><polygon points="462.08,198.07 453.32,208.21 465.76,213.12 474.52,202.98" fill="#fff"/><path d="M462.08,198.07L453.32,208.21" stroke="#4031ba"/><path d="M462.08,198.07L474.52,202.98" stroke="#4031ba"/><path d="M453.32,208.21L465.76,213.12" stroke="#4031ba"/><path d="M474.52,202.98L465.76,213.12" stroke="#4031ba"/><polygon points="544.72,198.96 535.96,209.1 548.4,214.01 557.16,203.87" fill="#fff"/><path d="M544.72,198.96L535.96,209.1" stroke="#4031ba"/><path d="M544.72,198.96L557.16,203.87" stroke="#4031ba"/><path d="M535.96,209.1L548.4,214.01" stroke="#4031ba"/><path d="M557.16,203.87L548.4,214.01" stroke="#4031ba"/><polygon points="511.08,199.28 499.4,212.8 511.84,217.71 523.52,204.19" fill="#fff"/><path d="M511.08,199.28L499.4,212.8" stroke="#4031ba"/><path d="M511.08,199.28L523.52,204.19" stroke="#4031ba"/><path d="M499.4,212.8L511.84,217.71" stroke="#4031ba"/><path d="M523.52,204.19L511.84,217.71" stroke="#4031ba"/><polygon points="424.88,112.97 416.12,165.82 417.24,196.91 426,183.18" fill="#fff"/><path d="M424.88,112.97L416.12,165.82" stroke="#f0c438"/><path d="M424.88,112.97L426,183.18" stroke="#f0c438"/><path d="M416.12,165.82L417.24,196.91" stroke="#2199e9"/><path d="M426,183.18L417.24,196.91" stroke="#4133be"/><polygon points="474.52,202.98 465.76,213.12 478.2,218.03 486.96,207.89" fill="#fff"/><path d="M474.52,202.98L465.76,213.12" stroke="#4031ba"/><path d="M474.52,202.98L486.96,207.89" stroke="#4031ba"/><path d="M465.76,213.12L478.2,218.03" stroke="#4031ba"/><path d="M486.96,207.89L478.2,218.03" stroke="#4031ba"/><polygon points="557.16,203.87 548.4,214.01 559.6,218.43 568.36,208.29" fill="#fff"/><path d="M557.16,203.87L548.4,214.01" stroke="#4031ba"/><path d="M557.16,203.87L568.36,208.29" stroke="#4031ba"/><path d="M548.4,214.01L559.6,218.43" stroke="#4031ba"/><path d="M568.36,208.29L559.6,218.43" stroke="#4031ba"/><polygon points="523.52,204.19 511.84,217.71 524.28,222.62 535.96,209.1" fill="#fff"/><path d="M523.52,204.19L511.84,217.71" stroke="#4031ba"/><path d="M523.52,204.19L535.96,209.1" stroke="#4031ba"/><path d="M511.84,217.71L524.28,222.62" stroke="#4031ba"/><path d="M535.96,209.1L524.28,222.62" stroke="#4031ba"/><polygon points="568.36,208.29 559.6,218.43 560.72,218.87 569.48,208.73" fill="#fff"/><path d="M568.36,208.29L559.6,218.43" stroke="#4031ba"/><path d="M568.36,208.29L569.48,208.73" stroke="#4031ba"/><path d="M559.6,218.43L560.72,218.87" stroke="#4031ba"/><path d="M569.48,208.73L560.72,218.87" stroke="#4031ba"/><polygon points="569.48,208.73 560.72,218.87 560.84,218.92 569.6,208.78" fill="#fff"/><path d="M569.48,208.73L560.72,218.87" stroke="#4031ba"/><path d="M569.48,208.73L569.6,208.78" stroke="#4031ba"/><path d="M560.72,218.87L560.84,218.92" stroke="#4031ba"/><path d="M569.6,208.78L560.84,218.92" stroke="#4031ba"/><polygon points="486.96,207.89 478.2,218.03 490.64,222.94 499.4,212.8" fill="#fff"/><path d="M486.96,207.89L478.2,218.03" stroke="#4031ba"/><path d="M486.96,207.89L499.4,212.8" stroke="#4031ba"/><path d="M478.2,218.03L490.64,222.94" stroke="#4031ba"/><path d="M499.4,212.8L490.64,222.94" stroke="#4031ba"/><polygon points="535.96,209.1 524.28,222.62 536.72,227.53 548.4,214.01" fill="#fff"/><path d="M535.96,209.1L524.28,222.62" stroke="#4031ba"/><path d="M535.96,209.1L548.4,214.01" stroke="#4031ba"/><path d="M524.28,222.62L536.72,227.53" stroke="#4031ba"/><path d="M548.4,214.01L536.72,227.53" stroke="#4031ba"/><polygon points="445.2,92.85 436.44,105.92 436.56,105.97 445.32,92.9" fill="#fff"/><path d="M445.2,92.85L436.44,105.92" stroke="#d9c538"/><path d="M445.2,92.85L445.32,92.9" stroke="#d9c538"/><path d="M436.44,105.92L436.56,105.97" stroke="#c5c639"/><path d="M445.32,92.9L436.56,105.97" stroke="#d9c538"/><polygon points="499.4,212.8 490.64,222.94 503.08,227.85 511.84,217.71" fill="#fff"/><path d="M499.4,212.8L490.64,222.94" stroke="#4031ba"/><path d="M499.4,212.8L511.84,217.71" stroke="#4031ba"/><path d="M490.64,222.94L503.08,227.85" stroke="#4031ba"/><path d="M511.84,217.71L503.08,227.85" stroke="#4031ba"/><polygon points="548.4,214.01 536.72,227.53 547.92,231.95 559.6,218.43" fill="#fff"/><path d="M548.4,214.01L536.72,227.53" stroke="#4031ba"/><path d="M548.4,214.01L559.6,218.43" stroke="#4031ba"/><path d="M536.72,227.53L547.92,231.95" stroke="#4031ba"/><path d="M559.6,218.43L547.92,231.95" stroke="#4031ba"/><polygon points="511.84,217.71 503.08,227.85 515.52,232.76 524.28,222.62" fill="#fff"/><path d="M511.84,217.71L503.08,227.85" stroke="#4031ba"/><path d="M511.84,217.71L524.28,222.62" stroke="#4031ba"/><path d="M503.08,227.85L515.52,232.76" stroke="#4031ba"/><path d="M524.28,222.62L515.52,232.76" stroke="#4031ba"/><polygon points="559.6,218.43 547.92,231.95 549.04,232.39 560.72,218.87" fill="#fff"/><path d="M559.6,218.43L547.92,231.95" stroke="#4031ba"/><path d="M559.6,218.43L560.72,218.87" stroke="#4031ba"/><path d="M547.92,231.95L549.04,232.39" stroke="#4031ba"/><path d="M560.72,218.87L549.04,232.39" stroke="#4031ba"/><polygon points="560.72,218.87 549.04,232.39 549.16,232.44 560.84,218.92" fill="#fff"/><path d="M560.72,218.87L549.04,232.39" stroke="#4031ba"/><path d="M560.72,218.87L560.84,218.92" stroke="#4031ba"/><path d="M549.04,232.39L549.16,232.44" stroke="#4031ba"/><path d="M560.84,218.92L549.16,232.44" stroke="#4031ba"/><polygon points="424.76,112.92 416,165.77 416.12,165.82 424.88,112.97" fill="#fff"/><path d="M424.76,112.92L416,165.77" stroke="#f0c438"/><path d="M424.76,112.92L424.88,112.97" stroke="#f0c438"/><path d="M416,165.77L416.12,165.82" stroke="#2199e9"/><path d="M424.88,112.97L416.12,165.82" stroke="#f0c438"/><polygon points="524.28,222.62 515.52,232.76 527.96,237.67 536.72,227.53" fill="#fff"/><path d="M524.28,222.62L515.52,232.76" stroke="#4031ba"/><path d="M524.28,222.62L536.72,227.53" stroke="#4031ba"/><path d="M515.52,232.76L527.96,237.67" stroke="#4031ba"/><path d="M536.72,227.53L527.96,237.67" stroke="#4031ba"/><polygon points="436.44,105.92 424.76,112.92 424.88,112.97 436.56,105.97" fill="#fff"/><path d="M436.44,105.92L424.76,112.92" stroke="#c5c639"/><path d="M436.44,105.92L436.56,105.97" stroke="#c5c639"/><path d="M424.76,112.92L424.88,112.97" stroke="#f0c438"/><path d="M436.56,105.97L424.88,112.97" stroke="#c5c639"/><polygon points="536.72,227.53 527.96,237.67 539.16,242.09 547.92,231.95" fill="#fff"/><path d="M536.72,227.53L527.96,237.67" stroke="#4031ba"/><path d="M536.72,227.53L547.92,231.95" stroke="#4031ba"/><path d="M527.96,237.67L539.16,242.09" stroke="#4031ba"/><path d="M547.92,231.95L539.16,242.09" stroke="#4031ba"/><polygon points="547.92,231.95 539.16,242.09 540.28,242.53 549.04,232.39" fill="#fff"/><path d="M547.92,231.95L539.16,242.09" stroke="#4031ba"/><path d="M547.92,231.95L549.04,232.39" stroke="#4031ba"/><path d="M539.16,242.09L540.28,242.53" stroke="#4031ba"/><path d="M549.04,232.39L540.28,242.53" stroke="#4031ba"/><polygon points="549.04,232.39 540.28,242.53 540.4,242.58 549.16,232.44" fill="#fff"/><path d="M549.04,232.39L540.28,242.53" stroke="#4031ba"/><path d="M549.04,232.39L549.16,232.44" stroke="#4031ba"/><path d="M540.28,242.53L540.4,242.58" stroke="#4031ba"/><path d="M549.16,232.44L540.4,242.58" stroke="#4031ba"/></g>
<g stroke-linecap="butt"><line x1="416" y1="200" x2="416" y2="102.2" stroke="#262626" stroke-width="1"/><line x1="416" y1="200" x2="540.4" y2="249.1" stroke="#262626" stroke-width="1"/><line x1="540.4" y1="249.1" x2="613.4" y2="164.6" stroke="#262626" stroke-width="1"/><line x1="416" y1="200" x2="412.5" y2="200" stroke="#262626" stroke-width="1"/><line x1="416" y1="167.4" x2="412.5" y2="167.4" stroke="#262626" stroke-width="1"/><line x1="416" y1="134.8" x2="412.5" y2="134.8" stroke="#262626" stroke-width="1"/><line x1="416" y1="102.2" x2="412.5" y2="102.2" stroke="#262626" stroke-width="1"/><line x1="416" y1="200" x2="413.39" y2="203.03" stroke="#262626" stroke-width="1"/><line x1="478.2" y1="224.55" x2="475.59" y2="227.58" stroke="#262626" stroke-width="1"/><line x1="540.4" y1="249.1" x2="537.79" y2="252.13" stroke="#262626" stroke-width="1"/><line x1="598.8" y1="181.5" x2="602.52" y2="182.97" stroke="#262626" stroke-width="1"/><line x1="569.6" y1="215.3" x2="573.32" y2="216.77" stroke="#262626" stroke-width="1"/><line x1="540.4" y1="249.1" x2="544.12" y2="250.57" stroke="#262626" stroke-width="1"/><line x1="610.42" y1="168.05" x2="612.47" y2="168.86" stroke="#262626" stroke-width="1"/><line x1="607.59" y1="171.33" x2="609.64" y2="172.13" stroke="#262626" stroke-width="1"/><line x1="605.28" y1="174" x2="607.32" y2="174.81" stroke="#262626" stroke-width="1"/><line x1="603.32" y1="176.26" x2="605.37" y2="177.07" stroke="#262626" stroke-width="1"/><line x1="601.63" y1="178.22" x2="603.68" y2="179.03" stroke="#262626" stroke-width="1"/><line x1="600.14" y1="179.95" x2="602.18" y2="180.76" stroke="#262626" stroke-width="1"/><line x1="590.01" y1="191.67" x2="592.06" y2="192.48" stroke="#262626" stroke-width="1"/><line x1="584.87" y1="197.63" x2="586.91" y2="198.43" stroke="#262626" stroke-width="1"/><line x1="581.22" y1="201.85" x2="583.27" y2="202.66" stroke="#262626" stroke-width="1"/><line x1="578.39" y1="205.13" x2="580.44" y2="205.93" stroke="#262626" stroke-width="1"/><line x1="576.08" y1="207.8" x2="578.12" y2="208.61" stroke="#262626" stroke-width="1"/><line x1="574.12" y1="210.06" x2="576.17" y2="210.87" stroke="#262626" stroke-width="1"/><line x1="572.43" y1="212.02" x2="574.48" y2="212.83" stroke="#262626" stroke-width="1"/><line x1="570.94" y1="213.75" x2="572.98" y2="214.56" stroke="#262626" stroke-width="1"/><line x1="560.81" y1="225.47" x2="562.86" y2="226.28" stroke="#262626" stroke-width="1"/><line x1="555.67" y1="231.43" x2="557.71" y2="232.23" stroke="#262626" stroke-width="1"/><line x1="552.02" y1="235.65" x2="554.07" y2="236.46" stroke="#262626" stroke-width="1"/><line x1="549.19" y1="238.93" x2="551.24" y2="239.73" stroke="#262626" stroke-width="1"/><line x1="546.88" y1="241.6" x2="548.92" y2="242.41" stroke="#262626" stroke-width="1"/><line x1="544.92" y1="243.86" x2="546.97" y2="244.67" stroke="#262626" stroke-width="1"/><line x1="543.23" y1="245.82" x2="545.28" y2="246.63" stroke="#262626" stroke-width="1"/><line x1="541.74" y1="247.55" x2="543.78" y2="248.36" stroke="#262626" stroke-width="1"/></g>
<g fill="#262626"></g>
<g><line x1="93.2" y1="536.52" x2="156.3" y2="447.22" stroke="#cbcbcb" stroke-width="0.8" stroke-dasharray="1,1.4"/><line x1="156.3" y1="447.22" x2="156.3" y2="349.62" stroke="#cbcbcb" stroke-width="0.8" stroke-dasharray="1,1.4"/><line x1="98.42" y1="538.15" x2="161.52" y2="448.85" stroke="#cbcbcb" stroke-width="0.8" stroke-dasharray="1,1.4"/><line x1="161.52" y1="448.85" x2="161.52" y2="351.25" stroke="#cbcbcb" stroke-width="0.8" stroke-dasharray="1,1.4"/><line x1="102.69" y1="539.48" x2="165.79" y2="450.18" stroke="#cbcbcb" stroke-width="0.8" stroke-dasharray="1,1.4"/><line x1="165.79" y1="450.18" x2="165.79" y2="352.58" stroke="#cbcbcb" stroke-width="0.8" stroke-dasharray="1,1.4"/><line x1="106.29" y1="540.61" x2="169.39" y2="451.31" stroke="#cbcbcb" stroke-width="0.8" stroke-dasharray="1,1.4"/><line x1="169.39" y1="451.31" x2="169.39" y2="353.71" stroke="#cbcbcb" stroke-width="0.8" stroke-dasharray="1,1.4"/><line x1="109.42" y1="541.59" x2="172.52" y2="452.29" stroke="#cbcbcb" stroke-width="0.8" stroke-dasharray="1,1.4"/><line x1="172.52" y1="452.29" x2="172.52" y2="354.69" stroke="#cbcbcb" stroke-width="0.8" stroke-dasharray="1,1.4"/><line x1="112.17" y1="542.45" x2="175.27" y2="453.15" stroke="#cbcbcb" stroke-width="0.8" stroke-dasharray="1,1.4"/><line x1="175.27" y1="453.15" x2="175.27" y2="355.55" stroke="#cbcbcb" stroke-width="0.8" stroke-dasharray="1,1.4"/><line x1="130.86" y1="548.29" x2="193.96" y2="458.99" stroke="#cbcbcb" stroke-width="0.8" stroke-dasharray="1,1.4"/><line x1="193.96" y1="458.99" x2="193.96" y2="361.39" stroke="#cbcbcb" stroke-width="0.8" stroke-dasharray="1,1.4"/><line x1="140.35" y1="551.25" x2="203.45" y2="461.95" stroke="#cbcbcb" stroke-width="0.8" stroke-dasharray="1,1.4"/><line x1="203.45" y1="461.95" x2="203.45" y2="364.35" stroke="#cbcbcb" stroke-width="0.8" stroke-dasharray="1,1.4"/><line x1="147.08" y1="553.36" x2="210.18" y2="464.06" stroke="#cbcbcb" stroke-width="0.8" stroke-dasharray="1,1.4"/><line x1="210.18" y1="464.06" x2="210.18" y2="366.46" stroke="#cbcbcb" stroke-width="0.8" stroke-dasharray="1,1.4"/><line x1="152.3" y1="554.99" x2="215.4" y2="465.69" stroke="#cbcbcb" stroke-width="0.8" stroke-dasharray="1,1.4"/><line x1="215.4" y1="465.69" x2="215.4" y2="368.09" stroke="#cbcbcb" stroke-width="0.8" stroke-dasharray="1,1.4"/><line x1="156.57" y1="556.32" x2="219.67" y2="467.02" stroke="#cbcbcb" stroke-width="0.8" stroke-dasharray="1,1.4"/><line x1="219.67" y1="467.02" x2="219.67" y2="369.42" stroke="#cbcbcb" stroke-width="0.8" stroke-dasharray="1,1.4"/><line x1="160.17" y1="557.45" x2="223.27" y2="468.15" stroke="#cbcbcb" stroke-width="0.8" stroke-dasharray="1,1.4"/><line x1="223.27" y1="468.15" x2="223.27" y2="370.55" stroke="#cbcbcb" stroke-width="0.8" stroke-dasharray="1,1.4"/><line x1="163.3" y1="558.43" x2="226.4" y2="469.13" stroke="#cbcbcb" stroke-width="0.8" stroke-dasharray="1,1.4"/><line x1="226.4" y1="469.13" x2="226.4" y2="371.53" stroke="#cbcbcb" stroke-width="0.8" stroke-dasharray="1,1.4"/><line x1="166.05" y1="559.29" x2="229.15" y2="469.99" stroke="#cbcbcb" stroke-width="0.8" stroke-dasharray="1,1.4"/><line x1="229.15" y1="469.99" x2="229.15" y2="372.39" stroke="#cbcbcb" stroke-width="0.8" stroke-dasharray="1,1.4"/><line x1="184.74" y1="565.13" x2="247.84" y2="475.83" stroke="#cbcbcb" stroke-width="0.8" stroke-dasharray="1,1.4"/><line x1="247.84" y1="475.83" x2="247.84" y2="378.23" stroke="#cbcbcb" stroke-width="0.8" stroke-dasharray="1,1.4"/><line x1="194.23" y1="568.09" x2="257.33" y2="478.79" stroke="#cbcbcb" stroke-width="0.8" stroke-dasharray="1,1.4"/><line x1="257.33" y1="478.79" x2="257.33" y2="381.19" stroke="#cbcbcb" stroke-width="0.8" stroke-dasharray="1,1.4"/><line x1="200.96" y1="570.2" x2="264.06" y2="480.9" stroke="#cbcbcb" stroke-width="0.8" stroke-dasharray="1,1.4"/><line x1="264.06" y1="480.9" x2="264.06" y2="383.3" stroke="#cbcbcb" stroke-width="0.8" stroke-dasharray="1,1.4"/><line x1="206.18" y1="571.83" x2="269.28" y2="482.53" stroke="#cbcbcb" stroke-width="0.8" stroke-dasharray="1,1.4"/><line x1="269.28" y1="482.53" x2="269.28" y2="384.93" stroke="#cbcbcb" stroke-width="0.8" stroke-dasharray="1,1.4"/><line x1="210.45" y1="573.16" x2="273.55" y2="483.86" stroke="#cbcbcb" stroke-width="0.8" stroke-dasharray="1,1.4"/><line x1="273.55" y1="483.86" x2="273.55" y2="386.26" stroke="#cbcbcb" stroke-width="0.8" stroke-dasharray="1,1.4"/><line x1="214.05" y1="574.29" x2="277.15" y2="484.99" stroke="#cbcbcb" stroke-width="0.8" stroke-dasharray="1,1.4"/><line x1="277.15" y1="484.99" x2="277.15" y2="387.39" stroke="#cbcbcb" stroke-width="0.8" stroke-dasharray="1,1.4"/><line x1="217.18" y1="575.27" x2="280.28" y2="485.97" stroke="#cbcbcb" stroke-width="0.8" stroke-dasharray="1,1.4"/><line x1="280.28" y1="485.97" x2="280.28" y2="388.37" stroke="#cbcbcb" stroke-width="0.8" stroke-dasharray="1,1.4"/><line x1="219.93" y1="576.13" x2="283.03" y2="486.83" stroke="#cbcbcb" stroke-width="0.8" stroke-dasharray="1,1.4"/><line x1="283.03" y1="486.83" x2="283.03" y2="389.23" stroke="#cbcbcb" stroke-width="0.8" stroke-dasharray="1,1.4"/><line x1="114.64" y1="543.22" x2="177.74" y2="453.92" stroke="#e0e0e0" stroke-width="1.0"/><line x1="177.74" y1="453.92" x2="177.74" y2="356.32" stroke="#e0e0e0" stroke-width="1.0"/><line x1="168.52" y1="560.06" x2="231.62" y2="470.76" stroke="#e0e0e0" stroke-width="1.0"/><line x1="231.62" y1="470.76" x2="231.62" y2="373.16" stroke="#e0e0e0" stroke-width="1.0"/><line x1="222.4" y1="576.9" x2="285.5" y2="487.6" stroke="#e0e0e0" stroke-width="1.0"/><line x1="285.5" y1="487.6" x2="285.5" y2="390" stroke="#e0e0e0" stroke-width="1.0"/><line x1="87.7" y1="534.8" x2="222.4" y2="576.9" stroke="#e0e0e0" stroke-width="1.0"/><line x1="87.7" y1="534.8" x2="87.7" y2="437.2" stroke="#e0e0e0" stroke-width="1.0"/><line x1="119.25" y1="490.15" x2="253.95" y2="532.25" stroke="#e0e0e0" stroke-width="1.0"/><line x1="119.25" y1="490.15" x2="119.25" y2="392.55" stroke="#e0e0e0" stroke-width="1.0"/><line x1="150.8" y1="445.5" x2="285.5" y2="487.6" stroke="#e0e0e0" stroke-width="1.0"/><line x1="150.8" y1="445.5" x2="150.8" y2="347.9" stroke="#e0e0e0" stroke-width="1.0"/><line x1="87.7" y1="534.8" x2="150.8" y2="445.5" stroke="#e0e0e0" stroke-width="1.0"/><line x1="150.8" y1="445.5" x2="285.5" y2="487.6" stroke="#e0e0e0" stroke-width="1.0"/><line x1="87.7" y1="486" x2="150.8" y2="396.7" stroke="#e0e0e0" stroke-width="1.0"/><line x1="150.8" y1="396.7" x2="285.5" y2="438.8" stroke="#e0e0e0" stroke-width="1.0"/><line x1="87.7" y1="437.2" x2="150.8" y2="347.9" stroke="#e0e0e0" stroke-width="1.0"/><line x1="150.8" y1="347.9" x2="285.5" y2="390" stroke="#e0e0e0" stroke-width="1.0"/><line x1="87.7" y1="534.8" x2="150.8" y2="445.5" stroke="#e0e0e0" stroke-width="1.0"/></g>
<g fill="none" stroke-width="1.15" stroke-linecap="round"><path d="M124.29,491.72L118.46,491.27" stroke="#4442d9"/><path d="M124.29,491.72L134.85,484.12" stroke="#4442d9"/><path d="M134.85,484.12L138.14,482.04" stroke="#4442d9"/><path d="M128.02,524.29L129.9,515.28" stroke="#4442d9"/><path d="M129.9,515.28L133.93,505.64" stroke="#4442d9"/><path d="M133.93,505.64L137.01,495.7" stroke="#4442d9"/><path d="M137.01,495.7L139.93,485.71" stroke="#4442d9"/><path d="M139.93,485.71L138.14,482.04" stroke="#4442d9"/><path d="M138.19,537.82L129.56,526.08" stroke="#4442d9"/><path d="M129.56,526.08L128.02,524.29" stroke="#4442d9"/><path d="M156.46,549.2L142.6,541.06" stroke="#4442d9"/><path d="M142.6,541.06L138.19,537.82" stroke="#4442d9"/><path d="M170.33,557.5L156.46,549.2" stroke="#4442d9"/><path d="M180.29,563.74L179.85,563.49" stroke="#4442d9"/><path d="M179.85,563.49L175.18,561.05" stroke="#4442d9"/><path d="M175.18,561.05L170.33,557.5" stroke="#4442d9"/><path d="M123.55,502.68L123.65,502.43" stroke="#3f64f5"/><path d="M123.65,502.43L116.08,494.64" stroke="#3f64f5"/><path d="M123.5,530.67L123.3,524.12" stroke="#3f64f5"/><path d="M123.3,524.12L121.52,512.67" stroke="#3f64f5"/><path d="M121.52,512.67L123.55,502.68" stroke="#3f64f5"/><path d="M135.23,542.01L129.14,536.85" stroke="#3f64f5"/><path d="M129.14,536.85L123.5,530.67" stroke="#3f64f5"/><path d="M153.03,554.05L135.23,542.01" stroke="#3f64f5"/><path d="M162.33,558.13L161.59,557.79" stroke="#3f64f5"/><path d="M161.59,557.79L153.36,554.23" stroke="#3f64f5"/><path d="M153.36,554.23L153.03,554.05" stroke="#3f64f5"/><path d="M115.03,514.74L115.7,510.85" stroke="#2c89f5"/><path d="M115.7,510.85L116.03,500.04" stroke="#2c89f5"/><path d="M116.03,500.04L113.7,498" stroke="#2c89f5"/><path d="M120.24,535.3L119.68,533.89" stroke="#2c89f5"/><path d="M119.68,533.89L118.09,522.49" stroke="#2c89f5"/><path d="M118.09,522.49L115.03,514.74" stroke="#2c89f5"/><path d="M133.05,545.09L120.24,535.3" stroke="#2c89f5"/><path d="M147.8,553.58L147.36,553.34" stroke="#2c89f5"/><path d="M147.36,553.34L143.13,551.03" stroke="#2c89f5"/><path d="M143.13,551.03L133.05,545.09" stroke="#2c89f5"/><path d="M111.23,520.12L112.69,509.9" stroke="#18a7de"/><path d="M112.69,509.9L111.11,501.67" stroke="#18a7de"/><path d="M118.32,538.02L115.88,532.7" stroke="#18a7de"/><path d="M115.88,532.7L111.37,520.39" stroke="#18a7de"/><path d="M111.37,520.39L111.23,520.12" stroke="#18a7de"/><path d="M131.12,547.83L129.74,546.85" stroke="#18a7de"/><path d="M129.74,546.85L118.32,538.02" stroke="#18a7de"/><path d="M135.44,549.72L134.61,549.35" stroke="#18a7de"/><path d="M134.61,549.35L131.12,547.83" stroke="#18a7de"/><path d="M108.2,524.4L108.66,519.55" stroke="#23bcb9"/><path d="M108.66,519.55L109.24,508.82" stroke="#23bcb9"/><path d="M109.24,508.82L108.41,505.49" stroke="#23bcb9"/><path d="M116.4,540.73L111.33,531.28" stroke="#23bcb9"/><path d="M111.33,531.28L108.2,524.4" stroke="#23bcb9"/><path d="M125.36,546.57L125,546.35" stroke="#23bcb9"/><path d="M125,546.35L121.71,544.34" stroke="#23bcb9"/><path d="M121.71,544.34L116.4,540.73" stroke="#23bcb9"/><path d="M105.2,528.65L105.84,518.66" stroke="#4bc887"/><path d="M105.84,518.66L105.55,509.54" stroke="#4bc887"/><path d="M114.7,543.14L114.68,543.12" stroke="#4bc887"/><path d="M114.68,543.12L113.42,541.75" stroke="#4bc887"/><path d="M113.42,541.75L105.69,529.52" stroke="#4bc887"/><path d="M105.69,529.52L105.2,528.65" stroke="#4bc887"/><path d="M115.16,543.38L114.7,543.14" stroke="#4bc887"/><path d="M102.51,532.46L102.19,528.43" stroke="#9dc744"/><path d="M102.19,528.43L102.63,517.66" stroke="#9dc744"/><path d="M102.63,517.66L102.36,514.06" stroke="#9dc744"/><path d="M109.61,541.65L109.46,541.49" stroke="#9dc744"/><path d="M109.46,541.49L108.2,540.12" stroke="#9dc744"/><path d="M108.2,540.12L102.51,532.46" stroke="#9dc744"/><path d="M99.87,536.19L98.76,527.36" stroke="#dcc538"/><path d="M98.76,527.36L98.83,519.05" stroke="#dcc538"/><path d="M102.88,539.54L102.74,539.39" stroke="#dcc538"/><path d="M102.74,539.39L101.48,538.02" stroke="#dcc538"/><path d="M101.48,538.02L99.87,536.19" stroke="#dcc538"/><path d="M95.47,537.23L95.44,537.11" stroke="#fdd42e"/><path d="M95.44,537.11L95.15,536.04" stroke="#fdd42e"/><path d="M95.15,536.04L94.74,526.1" stroke="#fdd42e"/><path d="M94.74,526.1L94.69,524.9" stroke="#fdd42e"/><path d="M87.7,534.8L87.7,534.8" stroke="#f9fb15"/></g>
<g fill="none" stroke-width="1.15" stroke-linejoin="round" stroke-linecap="round"><polygon points="150.74,445.59 161.51,448.96 161.58,448.87 150.8,445.5" fill="#fff"/><path d="M150.74,445.59L161.51,448.96" stroke="#3e26a8"/><path d="M150.74,445.59L150.8,445.5" stroke="#3e26a8"/><path d="M161.51,448.96L161.58,448.87" stroke="#3e26a8"/><path d="M150.8,445.5L161.58,448.87" stroke="#3e26a8"/><polygon points="150.17,446.39 160.94,449.76 161.51,448.96 150.74,445.59" fill="#fff"/><path d="M150.17,446.39L160.94,449.76" stroke="#3e26a8"/><path d="M150.17,446.39L150.74,445.59" stroke="#3e26a8"/><path d="M160.94,449.76L161.51,448.96" stroke="#3e26a8"/><path d="M150.74,445.59L161.51,448.96" stroke="#3e26a8"/><polygon points="161.51,448.96 177.68,454.01 177.74,453.92 161.58,448.87" fill="#fff"/><path d="M161.51,448.96L177.68,454.01" stroke="#3e26a8"/><path d="M161.51,448.96L161.58,448.87" stroke="#3e26a8"/><path d="M177.68,454.01L177.74,453.92" stroke="#3e26a8"/><path d="M161.58,448.87L177.74,453.92" stroke="#3e26a8"/><polygon points="160.94,449.76 177.11,454.81 177.68,454.01 161.51,448.96" fill="#fff"/><path d="M160.94,449.76L177.11,454.81" stroke="#3e26a8"/><path d="M160.94,449.76L161.51,448.96" stroke="#3e26a8"/><path d="M177.11,454.81L177.68,454.01" stroke="#3e26a8"/><path d="M161.51,448.96L177.68,454.01" stroke="#3e26a8"/><polygon points="144.49,454.43 155.27,457.8 160.94,449.76 150.17,446.39" fill="#fff"/><path d="M144.49,454.43L155.27,457.8" stroke="#3e26a8"/><path d="M144.49,454.43L150.17,446.39" stroke="#3e26a8"/><path d="M155.27,457.8L160.94,449.76" stroke="#3e26a8"/><path d="M150.17,446.39L160.94,449.76" stroke="#3e26a8"/><polygon points="155.27,457.8 171.43,462.85 177.11,454.81 160.94,449.76" fill="#fff"/><path d="M155.27,457.8L171.43,462.85" stroke="#3e26a8"/><path d="M155.27,457.8L160.94,449.76" stroke="#3e26a8"/><path d="M171.43,462.85L177.11,454.81" stroke="#3e26a8"/><path d="M160.94,449.76L177.11,454.81" stroke="#3e26a8"/><polygon points="177.68,454.01 193.84,459.06 193.9,458.97 177.74,453.92" fill="#fff"/><path d="M177.68,454.01L193.84,459.06" stroke="#3e26a8"/><path d="M177.68,454.01L177.74,453.92" stroke="#3e26a8"/><path d="M193.84,459.06L193.9,458.97" stroke="#3e26a8"/><path d="M177.74,453.92L193.9,458.97" stroke="#3e26a8"/><polygon points="177.11,454.81 193.27,459.86 193.84,459.06 177.68,454.01" fill="#fff"/><path d="M177.11,454.81L193.27,459.86" stroke="#3e26a8"/><path d="M177.11,454.81L177.68,454.01" stroke="#3e26a8"/><path d="M193.27,459.86L193.84,459.06" stroke="#3e26a8"/><path d="M177.68,454.01L193.84,459.06" stroke="#3e26a8"/><polygon points="138.18,463.36 148.96,466.24 155.27,457.8 144.49,454.43" fill="#fff"/><path d="M138.18,463.36L148.96,466.24" stroke="#3e26a8"/><path d="M138.18,463.36L144.49,454.43" stroke="#3e26a8"/><path d="M148.96,466.24L155.27,457.8" stroke="#3f2aaf"/><path d="M144.49,454.43L155.27,457.8" stroke="#3e26a8"/><polygon points="171.43,462.85 187.59,467.9 193.27,459.86 177.11,454.81" fill="#fff"/><path d="M171.43,462.85L187.59,467.9" stroke="#3e26a8"/><path d="M171.43,462.85L177.11,454.81" stroke="#3e26a8"/><path d="M187.59,467.9L193.27,459.86" stroke="#3e26a8"/><path d="M177.11,454.81L193.27,459.86" stroke="#3e26a8"/><polygon points="193.84,459.06 215.39,465.8 215.46,465.71 193.9,458.97" fill="#fff"/><path d="M193.84,459.06L215.39,465.8" stroke="#3e26a8"/><path d="M193.84,459.06L193.9,458.97" stroke="#3e26a8"/><path d="M215.39,465.8L215.46,465.71" stroke="#3e26a8"/><path d="M193.9,458.97L215.46,465.71" stroke="#3e26a8"/><polygon points="193.27,459.86 214.82,466.6 215.39,465.8 193.84,459.06" fill="#fff"/><path d="M193.27,459.86L214.82,466.6" stroke="#3e26a8"/><path d="M193.27,459.86L193.84,459.06" stroke="#3e26a8"/><path d="M214.82,466.6L215.39,465.8" stroke="#3e26a8"/><path d="M193.84,459.06L215.39,465.8" stroke="#3e26a8"/><polygon points="148.96,466.24 165.12,471.78 171.43,462.85 155.27,457.8" fill="#fff"/><path d="M148.96,466.24L165.12,471.78" stroke="#3f2aaf"/><path d="M148.96,466.24L155.27,457.8" stroke="#3f2aaf"/><path d="M165.12,471.78L171.43,462.85" stroke="#3e26a8"/><path d="M155.27,457.8L171.43,462.85" stroke="#3e26a8"/><polygon points="187.59,467.9 209.15,474.64 214.82,466.6 193.27,459.86" fill="#fff"/><path d="M187.59,467.9L209.15,474.64" stroke="#3e26a8"/><path d="M187.59,467.9L193.27,459.86" stroke="#3e26a8"/><path d="M209.15,474.64L214.82,466.6" stroke="#3e26a8"/><path d="M193.27,459.86L214.82,466.6" stroke="#3e26a8"/><polygon points="215.39,465.8 231.56,470.85 231.62,470.76 215.46,465.71" fill="#fff"/><path d="M215.39,465.8L231.56,470.85" stroke="#3e26a8"/><path d="M215.39,465.8L215.46,465.71" stroke="#3e26a8"/><path d="M231.56,470.85L231.62,470.76" stroke="#3e26a8"/><path d="M215.46,465.71L231.62,470.76" stroke="#3e26a8"/><polygon points="214.82,466.6 230.99,471.65 231.56,470.85 215.39,465.8" fill="#fff"/><path d="M214.82,466.6L230.99,471.65" stroke="#3e26a8"/><path d="M214.82,466.6L215.39,465.8" stroke="#3e26a8"/><path d="M230.99,471.65L231.56,470.85" stroke="#3e26a8"/><path d="M215.39,465.8L231.56,470.85" stroke="#3e26a8"/><polygon points="165.12,471.78 181.28,476.83 187.59,467.9 171.43,462.85" fill="#fff"/><path d="M165.12,471.78L181.28,476.83" stroke="#3e26a8"/><path d="M165.12,471.78L171.43,462.85" stroke="#3e26a8"/><path d="M181.28,476.83L187.59,467.9" stroke="#3e26a8"/><path d="M171.43,462.85L187.59,467.9" stroke="#3e26a8"/><polygon points="131.87,472.29 142.65,473.83 148.96,466.24 138.18,463.36" fill="#fff"/><path d="M131.87,472.29L142.65,473.83" stroke="#3e26a8"/><path d="M131.87,472.29L138.18,463.36" stroke="#3e26a8"/><path d="M142.65,473.83L148.96,466.24" stroke="#4134c1"/><path d="M138.18,463.36L148.96,466.24" stroke="#3e26a8"/><polygon points="209.15,474.64 225.31,479.69 230.99,471.65 214.82,466.6" fill="#fff"/><path d="M209.15,474.64L225.31,479.69" stroke="#3e26a8"/><path d="M209.15,474.64L214.82,466.6" stroke="#3e26a8"/><path d="M225.31,479.69L230.99,471.65" stroke="#3e26a8"/><path d="M214.82,466.6L230.99,471.65" stroke="#3e26a8"/><polygon points="231.56,470.85 247.72,475.9 247.78,475.81 231.62,470.76" fill="#fff"/><path d="M231.56,470.85L247.72,475.9" stroke="#3e26a8"/><path d="M231.56,470.85L231.62,470.76" stroke="#3e26a8"/><path d="M247.72,475.9L247.78,475.81" stroke="#3e26a8"/><path d="M231.62,470.76L247.78,475.81" stroke="#3e26a8"/><polygon points="230.99,471.65 247.15,476.7 247.72,475.9 231.56,470.85" fill="#fff"/><path d="M230.99,471.65L247.15,476.7" stroke="#3e26a8"/><path d="M230.99,471.65L231.56,470.85" stroke="#3e26a8"/><path d="M247.15,476.7L247.72,475.9" stroke="#3e26a8"/><path d="M231.56,470.85L247.72,475.9" stroke="#3e26a8"/><polygon points="142.65,473.83 158.81,480.71 165.12,471.78 148.96,466.24" fill="#fff"/><path d="M142.65,473.83L158.81,480.71" stroke="#4134c1"/><path d="M142.65,473.83L148.96,466.24" stroke="#4134c1"/><path d="M158.81,480.71L165.12,471.78" stroke="#3e26a8"/><path d="M148.96,466.24L165.12,471.78" stroke="#3f2aaf"/><polygon points="181.28,476.83 202.84,483.57 209.15,474.64 187.59,467.9" fill="#fff"/><path d="M181.28,476.83L202.84,483.57" stroke="#3e26a8"/><path d="M181.28,476.83L187.59,467.9" stroke="#3e26a8"/><path d="M202.84,483.57L209.15,474.64" stroke="#3e26a8"/><path d="M187.59,467.9L209.15,474.64" stroke="#3e26a8"/><polygon points="225.31,479.69 241.47,484.74 247.15,476.7 230.99,471.65" fill="#fff"/><path d="M225.31,479.69L241.47,484.74" stroke="#3e26a8"/><path d="M225.31,479.69L230.99,471.65" stroke="#3e26a8"/><path d="M241.47,484.74L247.15,476.7" stroke="#3e26a8"/><path d="M230.99,471.65L247.15,476.7" stroke="#3e26a8"/><polygon points="158.81,480.71 174.97,485.76 181.28,476.83 165.12,471.78" fill="#fff"/><path d="M158.81,480.71L174.97,485.76" stroke="#3e26a8"/><path d="M158.81,480.71L165.12,471.78" stroke="#3e26a8"/><path d="M174.97,485.76L181.28,476.83" stroke="#3e26a8"/><path d="M165.12,471.78L181.28,476.83" stroke="#3e26a8"/><polygon points="247.72,475.9 269.27,482.64 269.34,482.55 247.78,475.81" fill="#fff"/><path d="M247.72,475.9L269.27,482.64" stroke="#3e26a8"/><path d="M247.72,475.9L247.78,475.81" stroke="#3e26a8"/><path d="M269.27,482.64L269.34,482.55" stroke="#3e26a8"/><path d="M247.78,475.81L269.34,482.55" stroke="#3e26a8"/><polygon points="247.15,476.7 268.7,483.44 269.27,482.64 247.72,475.9" fill="#fff"/><path d="M247.15,476.7L268.7,483.44" stroke="#3e26a8"/><path d="M247.15,476.7L247.72,475.9" stroke="#3e26a8"/><path d="M268.7,483.44L269.27,482.64" stroke="#3e26a8"/><path d="M247.72,475.9L269.27,482.64" stroke="#3e26a8"/><polygon points="125.56,481.22 136.34,480.2 142.65,473.83 131.87,472.29" fill="#fff"/><path d="M125.56,481.22L136.34,480.2" stroke="#3e26a8"/><path d="M125.56,481.22L131.87,472.29" stroke="#3e26a8"/><path d="M136.34,480.2L142.65,473.83" stroke="#4548e2"/><path d="M131.87,472.29L142.65,473.83" stroke="#3e26a8"/><polygon points="202.84,483.57 219,488.62 225.31,479.69 209.15,474.64" fill="#fff"/><path d="M202.84,483.57L219,488.62" stroke="#3e26a8"/><path d="M202.84,483.57L209.15,474.64" stroke="#3e26a8"/><path d="M219,488.62L225.31,479.69" stroke="#3e26a8"/><path d="M209.15,474.64L225.31,479.69" stroke="#3e26a8"/><polygon points="136.34,480.2 152.5,489.64 158.81,480.71 142.65,473.83" fill="#fff"/><path d="M136.34,480.2L152.5,489.64" stroke="#4548e2"/><path d="M136.34,480.2L142.65,473.83" stroke="#4548e2"/><path d="M152.5,489.64L158.81,480.71" stroke="#3e26a8"/><path d="M142.65,473.83L158.81,480.71" stroke="#4134c1"/><polygon points="241.47,484.74 263.03,491.48 268.7,483.44 247.15,476.7" fill="#fff"/><path d="M241.47,484.74L263.03,491.48" stroke="#3e26a8"/><path d="M241.47,484.74L247.15,476.7" stroke="#3e26a8"/><path d="M263.03,491.48L268.7,483.44" stroke="#3e26a8"/><path d="M247.15,476.7L268.7,483.44" stroke="#3e26a8"/><polygon points="174.97,485.76 196.53,492.5 202.84,483.57 181.28,476.83" fill="#fff"/><path d="M174.97,485.76L196.53,492.5" stroke="#3e26a8"/><path d="M174.97,485.76L181.28,476.83" stroke="#3e26a8"/><path d="M196.53,492.5L202.84,483.57" stroke="#3e26a8"/><path d="M181.28,476.83L202.84,483.57" stroke="#3e26a8"/><polygon points="269.27,482.64 285.44,487.69 285.5,487.6 269.34,482.55" fill="#fff"/><path d="M269.27,482.64L285.44,487.69" stroke="#3e26a8"/><path d="M269.27,482.64L269.34,482.55" stroke="#3e26a8"/><path d="M285.44,487.69L285.5,487.6" stroke="#3e26a8"/><path d="M269.34,482.55L285.5,487.6" stroke="#3e26a8"/><polygon points="268.7,483.44 284.87,488.49 285.44,487.69 269.27,482.64" fill="#fff"/><path d="M268.7,483.44L284.87,488.49" stroke="#3e26a8"/><path d="M268.7,483.44L269.27,482.64" stroke="#3e26a8"/><path d="M284.87,488.49L285.44,487.69" stroke="#3e26a8"/><path d="M269.27,482.64L285.44,487.69" stroke="#3e26a8"/><polygon points="219,488.62 235.16,493.67 241.47,484.74 225.31,479.69" fill="#fff"/><path d="M219,488.62L235.16,493.67" stroke="#3e26a8"/><path d="M219,488.62L225.31,479.69" stroke="#3e26a8"/><path d="M235.16,493.67L241.47,484.74" stroke="#3e26a8"/><path d="M225.31,479.69L241.47,484.74" stroke="#3e26a8"/><polygon points="152.5,489.64 168.66,494.69 174.97,485.76 158.81,480.71" fill="#fff"/><path d="M152.5,489.64L168.66,494.69" stroke="#3e26a8"/><path d="M152.5,489.64L158.81,480.71" stroke="#3e26a8"/><path d="M168.66,494.69L174.97,485.76" stroke="#3e26a8"/><path d="M158.81,480.71L174.97,485.76" stroke="#3e26a8"/><polygon points="119.25,487.85 130.03,487.91 136.34,480.2 125.56,481.22" fill="#fff"/><path d="M119.25,487.85L130.03,487.91" stroke="#4238c7"/><path d="M119.25,487.85L125.56,481.22" stroke="#4238c7"/><path d="M130.03,487.91L136.34,480.2" stroke="#4751f2"/><path d="M125.56,481.22L136.34,480.2" stroke="#3e26a8"/><polygon points="263.03,491.48 279.19,496.53 284.87,488.49 268.7,483.44" fill="#fff"/><path d="M263.03,491.48L279.19,496.53" stroke="#3e26a8"/><path d="M263.03,491.48L268.7,483.44" stroke="#3e26a8"/><path d="M279.19,496.53L284.87,488.49" stroke="#3e26a8"/><path d="M268.7,483.44L284.87,488.49" stroke="#3e26a8"/><polygon points="196.53,492.5 212.69,497.55 219,488.62 202.84,483.57" fill="#fff"/><path d="M196.53,492.5L212.69,497.55" stroke="#3e26a8"/><path d="M196.53,492.5L202.84,483.57" stroke="#3e26a8"/><path d="M212.69,497.55L219,488.62" stroke="#3e26a8"/><path d="M202.84,483.57L219,488.62" stroke="#3e26a8"/><polygon points="235.16,493.67 256.72,500.41 263.03,491.48 241.47,484.74" fill="#fff"/><path d="M235.16,493.67L256.72,500.41" stroke="#3e26a8"/><path d="M235.16,493.67L241.47,484.74" stroke="#3e26a8"/><path d="M256.72,500.41L263.03,491.48" stroke="#3e26a8"/><path d="M241.47,484.74L263.03,491.48" stroke="#3e26a8"/><polygon points="130.03,487.91 146.19,498.54 152.5,489.64 136.34,480.2" fill="#fff"/><path d="M130.03,487.91L146.19,498.54" stroke="#4751f2"/><path d="M130.03,487.91L136.34,480.2" stroke="#4751f2"/><path d="M146.19,498.54L152.5,489.64" stroke="#3e27a9"/><path d="M136.34,480.2L152.5,489.64" stroke="#4548e2"/><polygon points="168.66,494.69 190.22,501.43 196.53,492.5 174.97,485.76" fill="#fff"/><path d="M168.66,494.69L190.22,501.43" stroke="#3e26a8"/><path d="M168.66,494.69L174.97,485.76" stroke="#3e26a8"/><path d="M190.22,501.43L196.53,492.5" stroke="#3e26a8"/><path d="M174.97,485.76L196.53,492.5" stroke="#3e26a8"/><polygon points="212.69,497.55 228.85,502.6 235.16,493.67 219,488.62" fill="#fff"/><path d="M212.69,497.55L228.85,502.6" stroke="#3e26a8"/><path d="M212.69,497.55L219,488.62" stroke="#3e26a8"/><path d="M228.85,502.6L235.16,493.67" stroke="#3e26a8"/><path d="M219,488.62L235.16,493.67" stroke="#3e26a8"/><polygon points="146.19,498.54 162.35,503.62 168.66,494.69 152.5,489.64" fill="#fff"/><path d="M146.19,498.54L162.35,503.62" stroke="#3e27a9"/><path d="M146.19,498.54L152.5,489.64" stroke="#3e27a9"/><path d="M162.35,503.62L168.66,494.69" stroke="#3e26a8"/><path d="M152.5,489.64L168.66,494.69" stroke="#3e26a8"/><polygon points="256.72,500.41 272.88,505.46 279.19,496.53 263.03,491.48" fill="#fff"/><path d="M256.72,500.41L272.88,505.46" stroke="#3e26a8"/><path d="M256.72,500.41L263.03,491.48" stroke="#3e26a8"/><path d="M272.88,505.46L279.19,496.53" stroke="#3e26a8"/><path d="M263.03,491.48L279.19,496.53" stroke="#3e26a8"/><polygon points="190.22,501.43 206.38,506.48 212.69,497.55 196.53,492.5" fill="#fff"/><path d="M190.22,501.43L206.38,506.48" stroke="#3e26a8"/><path d="M190.22,501.43L196.53,492.5" stroke="#3e26a8"/><path d="M206.38,506.48L212.69,497.55" stroke="#3e26a8"/><path d="M196.53,492.5L212.69,497.55" stroke="#3e26a8"/><polygon points="228.85,502.6 250.41,509.34 256.72,500.41 235.16,493.67" fill="#fff"/><path d="M228.85,502.6L250.41,509.34" stroke="#3e26a8"/><path d="M228.85,502.6L235.16,493.67" stroke="#3e26a8"/><path d="M250.41,509.34L256.72,500.41" stroke="#3e26a8"/><path d="M235.16,493.67L256.72,500.41" stroke="#3e26a8"/><polygon points="112.94,485.98 123.72,494.76 130.03,487.91 119.25,487.85" fill="#fff"/><path d="M112.94,485.98L123.72,494.76" stroke="#2693ee"/><path d="M112.94,485.98L119.25,487.85" stroke="#2693ee"/><path d="M123.72,494.76L130.03,487.91" stroke="#3f64f5"/><path d="M119.25,487.85L130.03,487.91" stroke="#4238c7"/><polygon points="162.35,503.62 183.91,510.36 190.22,501.43 168.66,494.69" fill="#fff"/><path d="M162.35,503.62L183.91,510.36" stroke="#3e26a8"/><path d="M162.35,503.62L168.66,494.69" stroke="#3e26a8"/><path d="M183.91,510.36L190.22,501.43" stroke="#3e26a8"/><path d="M168.66,494.69L190.22,501.43" stroke="#3e26a8"/><polygon points="123.72,494.76 139.88,507.13 146.19,498.54 130.03,487.91" fill="#fff"/><path d="M123.72,494.76L139.88,507.13" stroke="#3f64f5"/><path d="M123.72,494.76L130.03,487.91" stroke="#3f64f5"/><path d="M139.88,507.13L146.19,498.54" stroke="#3e29ad"/><path d="M130.03,487.91L146.19,498.54" stroke="#4751f2"/><polygon points="206.38,506.48 222.54,511.53 228.85,502.6 212.69,497.55" fill="#fff"/><path d="M206.38,506.48L222.54,511.53" stroke="#3e26a8"/><path d="M206.38,506.48L212.69,497.55" stroke="#3e26a8"/><path d="M222.54,511.53L228.85,502.6" stroke="#3e26a8"/><path d="M212.69,497.55L228.85,502.6" stroke="#3e26a8"/><polygon points="139.88,507.13 156.04,512.52 162.35,503.62 146.19,498.54" fill="#fff"/><path d="M139.88,507.13L156.04,512.52" stroke="#3e29ad"/><path d="M139.88,507.13L146.19,498.54" stroke="#3e29ad"/><path d="M156.04,512.52L162.35,503.62" stroke="#3e27a9"/><path d="M146.19,498.54L162.35,503.62" stroke="#3e27a9"/><polygon points="250.41,509.34 266.57,514.39 272.88,505.46 256.72,500.41" fill="#fff"/><path d="M250.41,509.34L266.57,514.39" stroke="#3e26a8"/><path d="M250.41,509.34L256.72,500.41" stroke="#3e26a8"/><path d="M266.57,514.39L272.88,505.46" stroke="#3e26a8"/><path d="M256.72,500.41L272.88,505.46" stroke="#3e26a8"/><polygon points="183.91,510.36 200.07,515.41 206.38,506.48 190.22,501.43" fill="#fff"/><path d="M183.91,510.36L200.07,515.41" stroke="#3e26a8"/><path d="M183.91,510.36L190.22,501.43" stroke="#3e26a8"/><path d="M200.07,515.41L206.38,506.48" stroke="#3e26a8"/><path d="M190.22,501.43L206.38,506.48" stroke="#3e26a8"/><polygon points="222.54,511.53 244.1,518.27 250.41,509.34 228.85,502.6" fill="#fff"/><path d="M222.54,511.53L244.1,518.27" stroke="#3e26a8"/><path d="M222.54,511.53L228.85,502.6" stroke="#3e26a8"/><path d="M244.1,518.27L250.41,509.34" stroke="#3e26a8"/><path d="M228.85,502.6L250.41,509.34" stroke="#3e26a8"/><polygon points="156.04,512.52 177.6,519.29 183.91,510.36 162.35,503.62" fill="#fff"/><path d="M156.04,512.52L177.6,519.29" stroke="#3e27a9"/><path d="M156.04,512.52L162.35,503.62" stroke="#3e27a9"/><path d="M177.6,519.29L183.91,510.36" stroke="#3e26a8"/><path d="M162.35,503.62L183.91,510.36" stroke="#3e26a8"/><polygon points="117.41,502.13 133.57,515.07 139.88,507.13 123.72,494.76" fill="#fff"/><path d="M117.41,502.13L133.57,515.07" stroke="#3872f6"/><path d="M117.41,502.13L123.72,494.76" stroke="#3872f6"/><path d="M133.57,515.07L139.88,507.13" stroke="#4031ba"/><path d="M123.72,494.76L139.88,507.13" stroke="#3f64f5"/><polygon points="200.07,515.41 216.23,520.46 222.54,511.53 206.38,506.48" fill="#fff"/><path d="M200.07,515.41L216.23,520.46" stroke="#3e26a8"/><path d="M200.07,515.41L206.38,506.48" stroke="#3e26a8"/><path d="M216.23,520.46L222.54,511.53" stroke="#3e26a8"/><path d="M206.38,506.48L222.54,511.53" stroke="#3e26a8"/><polygon points="133.57,515.07 149.73,521.29 156.04,512.52 139.88,507.13" fill="#fff"/><path d="M133.57,515.07L149.73,521.29" stroke="#4031ba"/><path d="M133.57,515.07L139.88,507.13" stroke="#4031ba"/><path d="M149.73,521.29L156.04,512.52" stroke="#3e28ab"/><path d="M139.88,507.13L156.04,512.52" stroke="#3e29ad"/><polygon points="106.63,485.39 117.41,502.13 123.72,494.76 112.94,485.98" fill="#fff"/><path d="M106.63,485.39L117.41,502.13" stroke="#35c69b"/><path d="M106.63,485.39L112.94,485.98" stroke="#35c69b"/><path d="M117.41,502.13L123.72,494.76" stroke="#3872f6"/><path d="M112.94,485.98L123.72,494.76" stroke="#2693ee"/><polygon points="244.1,518.27 260.26,523.32 266.57,514.39 250.41,509.34" fill="#fff"/><path d="M244.1,518.27L260.26,523.32" stroke="#3e26a8"/><path d="M244.1,518.27L250.41,509.34" stroke="#3e26a8"/><path d="M260.26,523.32L266.57,514.39" stroke="#3e26a8"/><path d="M250.41,509.34L266.57,514.39" stroke="#3e26a8"/><polygon points="177.6,519.29 193.76,524.34 200.07,515.41 183.91,510.36" fill="#fff"/><path d="M177.6,519.29L193.76,524.34" stroke="#3e26a8"/><path d="M177.6,519.29L183.91,510.36" stroke="#3e26a8"/><path d="M193.76,524.34L200.07,515.41" stroke="#3e26a8"/><path d="M183.91,510.36L200.07,515.41" stroke="#3e26a8"/><polygon points="216.23,520.46 237.79,527.2 244.1,518.27 222.54,511.53" fill="#fff"/><path d="M216.23,520.46L237.79,527.2" stroke="#3e26a8"/><path d="M216.23,520.46L222.54,511.53" stroke="#3e26a8"/><path d="M237.79,527.2L244.1,518.27" stroke="#3e26a8"/><path d="M222.54,511.53L244.1,518.27" stroke="#3e26a8"/><polygon points="149.73,521.29 171.29,528.21 177.6,519.29 156.04,512.52" fill="#fff"/><path d="M149.73,521.29L171.29,528.21" stroke="#3e28ab"/><path d="M149.73,521.29L156.04,512.52" stroke="#3e28ab"/><path d="M171.29,528.21L177.6,519.29" stroke="#3e26a8"/><path d="M156.04,512.52L177.6,519.29" stroke="#3e27a9"/><polygon points="193.76,524.34 209.92,529.39 216.23,520.46 200.07,515.41" fill="#fff"/><path d="M193.76,524.34L209.92,529.39" stroke="#3e26a8"/><path d="M193.76,524.34L200.07,515.41" stroke="#3e26a8"/><path d="M209.92,529.39L216.23,520.46" stroke="#3e26a8"/><path d="M200.07,515.41L216.23,520.46" stroke="#3e26a8"/><polygon points="111.1,504.3 127.26,521.39 133.57,515.07 117.41,502.13" fill="#fff"/><path d="M111.1,504.3L127.26,521.39" stroke="#18a8dd"/><path d="M111.1,504.3L117.41,502.13" stroke="#18a8dd"/><path d="M127.26,521.39L133.57,515.07" stroke="#4545dd"/><path d="M117.41,502.13L133.57,515.07" stroke="#3872f6"/><polygon points="127.26,521.39 143.42,529.46 149.73,521.29 133.57,515.07" fill="#fff"/><path d="M127.26,521.39L143.42,529.46" stroke="#4545dd"/><path d="M127.26,521.39L133.57,515.07" stroke="#4545dd"/><path d="M143.42,529.46L149.73,521.29" stroke="#3f2eb5"/><path d="M133.57,515.07L149.73,521.29" stroke="#4031ba"/><polygon points="237.79,527.2 253.95,532.25 260.26,523.32 244.1,518.27" fill="#fff"/><path d="M237.79,527.2L253.95,532.25" stroke="#3e26a8"/><path d="M237.79,527.2L244.1,518.27" stroke="#3e26a8"/><path d="M253.95,532.25L260.26,523.32" stroke="#3e26a8"/><path d="M244.1,518.27L260.26,523.32" stroke="#3e26a8"/><polygon points="171.29,528.21 187.45,533.27 193.76,524.34 177.6,519.29" fill="#fff"/><path d="M171.29,528.21L187.45,533.27" stroke="#3e26a8"/><path d="M171.29,528.21L177.6,519.29" stroke="#3e26a8"/><path d="M187.45,533.27L193.76,524.34" stroke="#3e26a8"/><path d="M177.6,519.29L193.76,524.34" stroke="#3e26a8"/><polygon points="209.92,529.39 231.48,536.13 237.79,527.2 216.23,520.46" fill="#fff"/><path d="M209.92,529.39L231.48,536.13" stroke="#3e26a8"/><path d="M209.92,529.39L216.23,520.46" stroke="#3e26a8"/><path d="M231.48,536.13L237.79,527.2" stroke="#3e26a8"/><path d="M216.23,520.46L237.79,527.2" stroke="#3e26a8"/><polygon points="143.42,529.46 164.98,537.05 171.29,528.21 149.73,521.29" fill="#fff"/><path d="M143.42,529.46L164.98,537.05" stroke="#3f2eb5"/><path d="M143.42,529.46L149.73,521.29" stroke="#3f2eb5"/><path d="M164.98,537.05L171.29,528.21" stroke="#3e27aa"/><path d="M149.73,521.29L171.29,528.21" stroke="#3e28ab"/><polygon points="100.32,486.28 111.1,504.3 117.41,502.13 106.63,485.39" fill="#fff"/><path d="M100.32,486.28L111.1,504.3" stroke="#c7c639"/><path d="M100.32,486.28L106.63,485.39" stroke="#c7c639"/><path d="M111.1,504.3L117.41,502.13" stroke="#18a8dd"/><path d="M106.63,485.39L117.41,502.13" stroke="#35c69b"/><polygon points="187.45,533.27 203.61,538.32 209.92,529.39 193.76,524.34" fill="#fff"/><path d="M187.45,533.27L203.61,538.32" stroke="#3e26a8"/><path d="M187.45,533.27L193.76,524.34" stroke="#3e26a8"/><path d="M203.61,538.32L209.92,529.39" stroke="#3e26a8"/><path d="M193.76,524.34L209.92,529.39" stroke="#3e26a8"/><polygon points="231.48,536.13 247.64,541.18 253.95,532.25 237.79,527.2" fill="#fff"/><path d="M231.48,536.13L247.64,541.18" stroke="#3e26a8"/><path d="M231.48,536.13L237.79,527.2" stroke="#3e26a8"/><path d="M247.64,541.18L253.95,532.25" stroke="#3e26a8"/><path d="M237.79,527.2L253.95,532.25" stroke="#3e26a8"/><polygon points="164.98,537.05 181.14,542.18 187.45,533.27 171.29,528.21" fill="#fff"/><path d="M164.98,537.05L181.14,542.18" stroke="#3e27aa"/><path d="M164.98,537.05L171.29,528.21" stroke="#3e27aa"/><path d="M181.14,542.18L187.45,533.27" stroke="#3e26a9"/><path d="M171.29,528.21L187.45,533.27" stroke="#3e26a8"/><polygon points="120.95,524.01 137.11,535.13 143.42,529.46 127.26,521.39" fill="#fff"/><path d="M120.95,524.01L137.11,535.13" stroke="#337cf6"/><path d="M120.95,524.01L127.26,521.39" stroke="#337cf6"/><path d="M137.11,535.13L143.42,529.46" stroke="#4547e0"/><path d="M127.26,521.39L143.42,529.46" stroke="#4545dd"/><polygon points="203.61,538.32 225.17,545.06 231.48,536.13 209.92,529.39" fill="#fff"/><path d="M203.61,538.32L225.17,545.06" stroke="#3e26a8"/><path d="M203.61,538.32L209.92,529.39" stroke="#3e26a8"/><path d="M225.17,545.06L231.48,536.13" stroke="#3e26a8"/><path d="M209.92,529.39L231.48,536.13" stroke="#3e26a8"/><polygon points="104.79,504.68 120.95,524.01 127.26,521.39 111.1,504.3" fill="#fff"/><path d="M104.79,504.68L120.95,524.01" stroke="#56c87e"/><path d="M104.79,504.68L111.1,504.3" stroke="#56c87e"/><path d="M120.95,524.01L127.26,521.39" stroke="#337cf6"/><path d="M111.1,504.3L127.26,521.39" stroke="#18a8dd"/><polygon points="137.11,535.13 158.67,545.04 164.98,537.05 143.42,529.46" fill="#fff"/><path d="M137.11,535.13L158.67,545.04" stroke="#4547e0"/><path d="M137.11,535.13L143.42,529.46" stroke="#4547e0"/><path d="M158.67,545.04L164.98,537.05" stroke="#402eb6"/><path d="M143.42,529.46L164.98,537.05" stroke="#3f2eb5"/><polygon points="181.14,542.18 197.3,547.25 203.61,538.32 187.45,533.27" fill="#fff"/><path d="M181.14,542.18L197.3,547.25" stroke="#3e26a9"/><path d="M181.14,542.18L187.45,533.27" stroke="#3e26a9"/><path d="M197.3,547.25L203.61,538.32" stroke="#3e26a8"/><path d="M187.45,533.27L203.61,538.32" stroke="#3e26a8"/><polygon points="225.17,545.06 241.33,550.11 247.64,541.18 231.48,536.13" fill="#fff"/><path d="M225.17,545.06L241.33,550.11" stroke="#3e26a8"/><path d="M225.17,545.06L231.48,536.13" stroke="#3e26a8"/><path d="M241.33,550.11L247.64,541.18" stroke="#3e26a8"/><path d="M231.48,536.13L247.64,541.18" stroke="#3e26a8"/><polygon points="158.67,545.04 174.83,550.81 181.14,542.18 164.98,537.05" fill="#fff"/><path d="M158.67,545.04L174.83,550.81" stroke="#402eb6"/><path d="M158.67,545.04L164.98,537.05" stroke="#402eb6"/><path d="M174.83,550.81L181.14,542.18" stroke="#3e29ad"/><path d="M164.98,537.05L181.14,542.18" stroke="#3e27aa"/><polygon points="94.01,489.01 104.79,504.68 111.1,504.3 100.32,486.28" fill="#fff"/><path d="M94.01,489.01L104.79,504.68" stroke="#fcda2a"/><path d="M94.01,489.01L100.32,486.28" stroke="#fcda2a"/><path d="M104.79,504.68L111.1,504.3" stroke="#56c87e"/><path d="M100.32,486.28L111.1,504.3" stroke="#c7c639"/><polygon points="197.3,547.25 218.86,553.99 225.17,545.06 203.61,538.32" fill="#fff"/><path d="M197.3,547.25L218.86,553.99" stroke="#3e26a8"/><path d="M197.3,547.25L203.61,538.32" stroke="#3e26a8"/><path d="M218.86,553.99L225.17,545.06" stroke="#3e26a8"/><path d="M203.61,538.32L225.17,545.06" stroke="#3e26a8"/><polygon points="174.83,550.81 190.99,556.15 197.3,547.25 181.14,542.18" fill="#fff"/><path d="M174.83,550.81L190.99,556.15" stroke="#3e29ad"/><path d="M174.83,550.81L181.14,542.18" stroke="#3e29ad"/><path d="M190.99,556.15L197.3,547.25" stroke="#3e27a9"/><path d="M181.14,542.18L197.3,547.25" stroke="#3e26a9"/><polygon points="115.27,520.01 131.44,532.57 137.11,535.13 120.95,524.01" fill="#fff"/><path d="M115.27,520.01L131.44,532.57" stroke="#33c59f"/><path d="M115.27,520.01L120.95,524.01" stroke="#33c59f"/><path d="M131.44,532.57L137.11,535.13" stroke="#1d9fe4"/><path d="M120.95,524.01L137.11,535.13" stroke="#337cf6"/><polygon points="218.86,553.99 235.02,559.04 241.33,550.11 225.17,545.06" fill="#fff"/><path d="M218.86,553.99L235.02,559.04" stroke="#3e26a8"/><path d="M218.86,553.99L225.17,545.06" stroke="#3e26a8"/><path d="M235.02,559.04L241.33,550.11" stroke="#3e26a8"/><path d="M225.17,545.06L241.33,550.11" stroke="#3e26a8"/><polygon points="131.44,532.57 152.99,546.34 158.67,545.04 137.11,535.13" fill="#fff"/><path d="M131.44,532.57L152.99,546.34" stroke="#1d9fe4"/><path d="M131.44,532.57L137.11,535.13" stroke="#1d9fe4"/><path d="M152.99,546.34L158.67,545.04" stroke="#3e65f5"/><path d="M137.11,535.13L158.67,545.04" stroke="#4547e0"/><polygon points="99.11,503.97 115.27,520.01 120.95,524.01 104.79,504.68" fill="#fff"/><path d="M99.11,503.97L115.27,520.01" stroke="#edc438"/><path d="M99.11,503.97L104.79,504.68" stroke="#edc438"/><path d="M115.27,520.01L120.95,524.01" stroke="#33c59f"/><path d="M104.79,504.68L120.95,524.01" stroke="#56c87e"/><polygon points="190.99,556.15 212.55,562.92 218.86,553.99 197.3,547.25" fill="#fff"/><path d="M190.99,556.15L212.55,562.92" stroke="#3e27a9"/><path d="M190.99,556.15L197.3,547.25" stroke="#3e27a9"/><path d="M212.55,562.92L218.86,553.99" stroke="#3e26a8"/><path d="M197.3,547.25L218.86,553.99" stroke="#3e26a8"/><polygon points="152.99,546.34 169.15,554.64 174.83,550.81 158.67,545.04" fill="#fff"/><path d="M152.99,546.34L169.15,554.64" stroke="#3e65f5"/><path d="M152.99,546.34L158.67,545.04" stroke="#3e65f5"/><path d="M169.15,554.64L174.83,550.81" stroke="#4649e4"/><path d="M158.67,545.04L174.83,550.81" stroke="#402eb6"/><polygon points="88.33,493.75 99.11,503.97 104.79,504.68 94.01,489.01" fill="#fff"/><path d="M88.33,493.75L99.11,503.97" stroke="#f9fa15"/><path d="M88.33,493.75L94.01,489.01" stroke="#f9fa15"/><path d="M99.11,503.97L104.79,504.68" stroke="#edc438"/><path d="M94.01,489.01L104.79,504.68" stroke="#fcda2a"/><polygon points="169.15,554.64 185.31,562.64 190.99,556.15 174.83,550.81" fill="#fff"/><path d="M169.15,554.64L185.31,562.64" stroke="#4649e4"/><path d="M169.15,554.64L174.83,550.81" stroke="#4649e4"/><path d="M185.31,562.64L190.99,556.15" stroke="#4032bd"/><path d="M174.83,550.81L190.99,556.15" stroke="#3e29ad"/><polygon points="114.7,519.16 130.87,531.49 131.44,532.57 115.27,520.01" fill="#fff"/><path d="M114.7,519.16L130.87,531.49" stroke="#4bc887"/><path d="M114.7,519.16L115.27,520.01" stroke="#4bc887"/><path d="M130.87,531.49L131.44,532.57" stroke="#14add9"/><path d="M115.27,520.01L131.44,532.57" stroke="#33c59f"/><polygon points="130.87,531.49 152.42,545.46 152.99,546.34 131.44,532.57" fill="#fff"/><path d="M130.87,531.49L152.42,545.46" stroke="#14add9"/><path d="M130.87,531.49L131.44,532.57" stroke="#14add9"/><path d="M152.42,545.46L152.99,546.34" stroke="#3774f6"/><path d="M131.44,532.57L152.99,546.34" stroke="#1d9fe4"/><polygon points="212.55,562.92 228.71,567.97 235.02,559.04 218.86,553.99" fill="#fff"/><path d="M212.55,562.92L228.71,567.97" stroke="#3e26a8"/><path d="M212.55,562.92L218.86,553.99" stroke="#3e26a8"/><path d="M228.71,567.97L235.02,559.04" stroke="#3e26a8"/><path d="M218.86,553.99L235.02,559.04" stroke="#3e26a8"/><polygon points="114.64,519.06 130.8,531.36 130.87,531.49 114.7,519.16" fill="#fff"/><path d="M114.64,519.06L130.8,531.36" stroke="#4ec884"/><path d="M114.64,519.06L114.7,519.16" stroke="#4ec884"/><path d="M130.8,531.36L130.87,531.49" stroke="#13afd8"/><path d="M114.7,519.16L130.87,531.49" stroke="#4bc887"/><polygon points="130.8,531.36 152.36,545.35 152.42,545.46 130.87,531.49" fill="#fff"/><path d="M130.8,531.36L152.36,545.35" stroke="#13afd8"/><path d="M130.8,531.36L130.87,531.49" stroke="#13afd8"/><path d="M152.36,545.35L152.42,545.46" stroke="#3676f6"/><path d="M130.87,531.49L152.42,545.46" stroke="#14add9"/><polygon points="152.42,545.46 168.58,554.1 169.15,554.64 152.99,546.34" fill="#fff"/><path d="M152.42,545.46L168.58,554.1" stroke="#3774f6"/><path d="M152.42,545.46L152.99,546.34" stroke="#3774f6"/><path d="M168.58,554.1L169.15,554.64" stroke="#4753f4"/><path d="M152.99,546.34L169.15,554.64" stroke="#3e65f5"/><polygon points="98.54,503.94 114.7,519.16 115.27,520.01 99.11,503.97" fill="#fff"/><path d="M98.54,503.94L114.7,519.16" stroke="#f9c438"/><path d="M98.54,503.94L99.11,503.97" stroke="#f9c438"/><path d="M114.7,519.16L115.27,520.01" stroke="#4bc887"/><path d="M99.11,503.97L115.27,520.01" stroke="#edc438"/><polygon points="152.36,545.35 168.52,554.02 168.58,554.1 152.42,545.46" fill="#fff"/><path d="M152.36,545.35L168.52,554.02" stroke="#3676f6"/><path d="M152.36,545.35L152.42,545.46" stroke="#3676f6"/><path d="M168.52,554.02L168.58,554.1" stroke="#4655f4"/><path d="M152.42,545.46L168.58,554.1" stroke="#3774f6"/><polygon points="98.48,503.95 114.64,519.06 114.7,519.16 98.54,503.94" fill="#fff"/><path d="M98.48,503.95L114.64,519.06" stroke="#fac338"/><path d="M98.48,503.95L98.54,503.94" stroke="#fac338"/><path d="M114.64,519.06L114.7,519.16" stroke="#4ec884"/><path d="M98.54,503.94L114.7,519.16" stroke="#f9c438"/><polygon points="185.31,562.64 206.87,570.51 212.55,562.92 190.99,556.15" fill="#fff"/><path d="M185.31,562.64L206.87,570.51" stroke="#4032bd"/><path d="M185.31,562.64L190.99,556.15" stroke="#4032bd"/><path d="M206.87,570.51L212.55,562.92" stroke="#3f2aae"/><path d="M190.99,556.15L212.55,562.92" stroke="#3e27a9"/><polygon points="168.58,554.1 184.75,562.71 185.31,562.64 169.15,554.64" fill="#fff"/><path d="M168.58,554.1L184.75,562.71" stroke="#4753f4"/><path d="M168.58,554.1L169.15,554.64" stroke="#4753f4"/><path d="M184.75,562.71L185.31,562.64" stroke="#4238c7"/><path d="M169.15,554.64L185.31,562.64" stroke="#4649e4"/><polygon points="87.76,494.45 98.54,503.94 99.11,503.97 88.33,493.75" fill="#fff"/><path d="M87.76,494.45L98.54,503.94" stroke="#f9fb15"/><path d="M87.76,494.45L88.33,493.75" stroke="#f9fb15"/><path d="M98.54,503.94L99.11,503.97" stroke="#f9c438"/><path d="M88.33,493.75L99.11,503.97" stroke="#f9fa15"/><polygon points="168.52,554.02 184.68,562.7 184.75,562.71 168.58,554.1" fill="#fff"/><path d="M168.52,554.02L184.68,562.7" stroke="#4655f4"/><path d="M168.52,554.02L168.58,554.1" stroke="#4655f4"/><path d="M184.68,562.7L184.75,562.71" stroke="#4239c8"/><path d="M168.58,554.1L184.75,562.71" stroke="#4753f4"/><polygon points="87.7,494.54 98.48,503.95 98.54,503.94 87.76,494.45" fill="#fff"/><path d="M87.7,494.54L98.48,503.95" stroke="#f9fb15"/><path d="M87.7,494.54L87.76,494.45" stroke="#f9fb15"/><path d="M98.48,503.95L98.54,503.94" stroke="#fac338"/><path d="M87.76,494.45L98.54,503.94" stroke="#f9fb15"/><polygon points="184.75,562.71 206.3,571 206.87,570.51 185.31,562.64" fill="#fff"/><path d="M184.75,562.71L206.3,571" stroke="#4238c7"/><path d="M184.75,562.71L185.31,562.64" stroke="#4238c7"/><path d="M206.3,571L206.87,570.51" stroke="#3f2cb2"/><path d="M185.31,562.64L206.87,570.51" stroke="#4032bd"/><polygon points="206.87,570.51 223.03,576.01 228.71,567.97 212.55,562.92" fill="#fff"/><path d="M206.87,570.51L223.03,576.01" stroke="#3f2aae"/><path d="M206.87,570.51L212.55,562.92" stroke="#3f2aae"/><path d="M223.03,576.01L228.71,567.97" stroke="#3e26a8"/><path d="M212.55,562.92L228.71,567.97" stroke="#3e26a8"/><polygon points="184.68,562.7 206.24,571.04 206.3,571 184.75,562.71" fill="#fff"/><path d="M184.68,562.7L206.24,571.04" stroke="#4239c8"/><path d="M184.68,562.7L184.75,562.71" stroke="#4239c8"/><path d="M206.24,571.04L206.3,571" stroke="#3f2db3"/><path d="M184.75,562.71L206.3,571" stroke="#4238c7"/><polygon points="206.3,571 222.46,576.81 223.03,576.01 206.87,570.51" fill="#fff"/><path d="M206.3,571L222.46,576.81" stroke="#3f2cb2"/><path d="M206.3,571L206.87,570.51" stroke="#3f2cb2"/><path d="M222.46,576.81L223.03,576.01" stroke="#3e26a8"/><path d="M206.87,570.51L223.03,576.01" stroke="#3f2aae"/><polygon points="206.24,571.04 222.4,576.9 222.46,576.81 206.3,571" fill="#fff"/><path d="M206.24,571.04L222.4,576.9" stroke="#3f2db3"/><path d="M206.24,571.04L206.3,571" stroke="#3f2db3"/><path d="M222.4,576.9L222.46,576.81" stroke="#3e26a8"/><path d="M206.3,571L222.46,576.81" stroke="#3f2cb2"/></g>
<g stroke-linecap="butt"><line x1="87.7" y1="534.8" x2="87.7" y2="437.2" stroke="#262626" stroke-width="1"/><line x1="87.7" y1="534.8" x2="222.4" y2="576.9" stroke="#262626" stroke-width="1"/><line x1="222.4" y1="576.9" x2="285.5" y2="487.6" stroke="#262626" stroke-width="1"/><line x1="87.7" y1="534.8" x2="84.2" y2="534.8" stroke="#262626" stroke-width="1"/><line x1="87.7" y1="486" x2="84.2" y2="486" stroke="#262626" stroke-width="1"/><line x1="87.7" y1="437.2" x2="84.2" y2="437.2" stroke="#262626" stroke-width="1"/><line x1="114.64" y1="543.22" x2="112.33" y2="546.49" stroke="#262626" stroke-width="1"/><line x1="168.52" y1="560.06" x2="166.21" y2="563.33" stroke="#262626" stroke-width="1"/><line x1="222.4" y1="576.9" x2="220.09" y2="580.17" stroke="#262626" stroke-width="1"/><line x1="93.2" y1="536.52" x2="91.93" y2="538.32" stroke="#262626" stroke-width="1"/><line x1="98.42" y1="538.15" x2="97.15" y2="539.95" stroke="#262626" stroke-width="1"/><line x1="102.69" y1="539.48" x2="101.42" y2="541.28" stroke="#262626" stroke-width="1"/><line x1="106.29" y1="540.61" x2="105.02" y2="542.41" stroke="#262626" stroke-width="1"/><line x1="109.42" y1="541.59" x2="108.15" y2="543.38" stroke="#262626" stroke-width="1"/><line x1="112.17" y1="542.45" x2="110.91" y2="544.25" stroke="#262626" stroke-width="1"/><line x1="130.86" y1="548.29" x2="129.59" y2="550.09" stroke="#262626" stroke-width="1"/><line x1="140.35" y1="551.25" x2="139.08" y2="553.05" stroke="#262626" stroke-width="1"/><line x1="147.08" y1="553.36" x2="145.81" y2="555.16" stroke="#262626" stroke-width="1"/><line x1="152.3" y1="554.99" x2="151.03" y2="556.79" stroke="#262626" stroke-width="1"/><line x1="156.57" y1="556.32" x2="155.3" y2="558.12" stroke="#262626" stroke-width="1"/><line x1="160.17" y1="557.45" x2="158.9" y2="559.25" stroke="#262626" stroke-width="1"/><line x1="163.3" y1="558.43" x2="162.03" y2="560.22" stroke="#262626" stroke-width="1"/><line x1="166.05" y1="559.29" x2="164.79" y2="561.09" stroke="#262626" stroke-width="1"/><line x1="184.74" y1="565.13" x2="183.47" y2="566.93" stroke="#262626" stroke-width="1"/><line x1="194.23" y1="568.09" x2="192.96" y2="569.89" stroke="#262626" stroke-width="1"/><line x1="200.96" y1="570.2" x2="199.69" y2="572" stroke="#262626" stroke-width="1"/><line x1="206.18" y1="571.83" x2="204.91" y2="573.63" stroke="#262626" stroke-width="1"/><line x1="210.45" y1="573.16" x2="209.18" y2="574.96" stroke="#262626" stroke-width="1"/><line x1="214.05" y1="574.29" x2="212.78" y2="576.09" stroke="#262626" stroke-width="1"/><line x1="217.18" y1="575.27" x2="215.91" y2="577.06" stroke="#262626" stroke-width="1"/><line x1="219.93" y1="576.13" x2="218.67" y2="577.93" stroke="#262626" stroke-width="1"/><line x1="222.4" y1="576.9" x2="226.22" y2="578.09" stroke="#262626" stroke-width="1"/><line x1="253.95" y1="532.25" x2="257.77" y2="533.44" stroke="#262626" stroke-width="1"/><line x1="285.5" y1="487.6" x2="289.32" y2="488.79" stroke="#262626" stroke-width="1"/></g>
<g fill="#262626"></g>
<g><line x1="421.7" y1="536.52" x2="484.8" y2="447.22" stroke="#cbcbcb" stroke-width="0.8" stroke-dasharray="1,1.4"/><line x1="484.8" y1="447.22" x2="484.8" y2="349.62" stroke="#cbcbcb" stroke-width="0.8" stroke-dasharray="1,1.4"/><line x1="426.92" y1="538.15" x2="490.02" y2="448.85" stroke="#cbcbcb" stroke-width="0.8" stroke-dasharray="1,1.4"/><line x1="490.02" y1="448.85" x2="490.02" y2="351.25" stroke="#cbcbcb" stroke-width="0.8" stroke-dasharray="1,1.4"/><line x1="431.19" y1="539.48" x2="494.29" y2="450.18" stroke="#cbcbcb" stroke-width="0.8" stroke-dasharray="1,1.4"/><line x1="494.29" y1="450.18" x2="494.29" y2="352.58" stroke="#cbcbcb" stroke-width="0.8" stroke-dasharray="1,1.4"/><line x1="434.79" y1="540.61" x2="497.89" y2="451.31" stroke="#cbcbcb" stroke-width="0.8" stroke-dasharray="1,1.4"/><line x1="497.89" y1="451.31" x2="497.89" y2="353.71" stroke="#cbcbcb" stroke-width="0.8" stroke-dasharray="1,1.4"/><line x1="437.92" y1="541.59" x2="501.02" y2="452.29" stroke="#cbcbcb" stroke-width="0.8" stroke-dasharray="1,1.4"/><line x1="501.02" y1="452.29" x2="501.02" y2="354.69" stroke="#cbcbcb" stroke-width="0.8" stroke-dasharray="1,1.4"/><line x1="440.67" y1="542.45" x2="503.77" y2="453.15" stroke="#cbcbcb" stroke-width="0.8" stroke-dasharray="1,1.4"/><line x1="503.77" y1="453.15" x2="503.77" y2="355.55" stroke="#cbcbcb" stroke-width="0.8" stroke-dasharray="1,1.4"/><line x1="459.36" y1="548.29" x2="522.46" y2="458.99" stroke="#cbcbcb" stroke-width="0.8" stroke-dasharray="1,1.4"/><line x1="522.46" y1="458.99" x2="522.46" y2="361.39" stroke="#cbcbcb" stroke-width="0.8" stroke-dasharray="1,1.4"/><line x1="468.85" y1="551.25" x2="531.95" y2="461.95" stroke="#cbcbcb" stroke-width="0.8" stroke-dasharray="1,1.4"/><line x1="531.95" y1="461.95" x2="531.95" y2="364.35" stroke="#cbcbcb" stroke-width="0.8" stroke-dasharray="1,1.4"/><line x1="475.58" y1="553.36" x2="538.68" y2="464.06" stroke="#cbcbcb" stroke-width="0.8" stroke-dasharray="1,1.4"/><line x1="538.68" y1="464.06" x2="538.68" y2="366.46" stroke="#cbcbcb" stroke-width="0.8" stroke-dasharray="1,1.4"/><line x1="480.8" y1="554.99" x2="543.9" y2="465.69" stroke="#cbcbcb" stroke-width="0.8" stroke-dasharray="1,1.4"/><line x1="543.9" y1="465.69" x2="543.9" y2="368.09" stroke="#cbcbcb" stroke-width="0.8" stroke-dasharray="1,1.4"/><line x1="485.07" y1="556.32" x2="548.17" y2="467.02" stroke="#cbcbcb" stroke-width="0.8" stroke-dasharray="1,1.4"/><line x1="548.17" y1="467.02" x2="548.17" y2="369.42" stroke="#cbcbcb" stroke-width="0.8" stroke-dasharray="1,1.4"/><line x1="488.67" y1="557.45" x2="551.77" y2="468.15" stroke="#cbcbcb" stroke-width="0.8" stroke-dasharray="1,1.4"/><line x1="551.77" y1="468.15" x2="551.77" y2="370.55" stroke="#cbcbcb" stroke-width="0.8" stroke-dasharray="1,1.4"/><line x1="491.8" y1="558.43" x2="554.9" y2="469.13" stroke="#cbcbcb" stroke-width="0.8" stroke-dasharray="1,1.4"/><line x1="554.9" y1="469.13" x2="554.9" y2="371.53" stroke="#cbcbcb" stroke-width="0.8" stroke-dasharray="1,1.4"/><line x1="494.55" y1="559.29" x2="557.65" y2="469.99" stroke="#cbcbcb" stroke-width="0.8" stroke-dasharray="1,1.4"/><line x1="557.65" y1="469.99" x2="557.65" y2="372.39" stroke="#cbcbcb" stroke-width="0.8" stroke-dasharray="1,1.4"/><line x1="513.24" y1="565.13" x2="576.34" y2="475.83" stroke="#cbcbcb" stroke-width="0.8" stroke-dasharray="1,1.4"/><line x1="576.34" y1="475.83" x2="576.34" y2="378.23" stroke="#cbcbcb" stroke-width="0.8" stroke-dasharray="1,1.4"/><line x1="522.73" y1="568.09" x2="585.83" y2="478.79" stroke="#cbcbcb" stroke-width="0.8" stroke-dasharray="1,1.4"/><line x1="585.83" y1="478.79" x2="585.83" y2="381.19" stroke="#cbcbcb" stroke-width="0.8" stroke-dasharray="1,1.4"/><line x1="529.46" y1="570.2" x2="592.56" y2="480.9" stroke="#cbcbcb" stroke-width="0.8" stroke-dasharray="1,1.4"/><line x1="592.56" y1="480.9" x2="592.56" y2="383.3" stroke="#cbcbcb" stroke-width="0.8" stroke-dasharray="1,1.4"/><line x1="534.68" y1="571.83" x2="597.78" y2="482.53" stroke="#cbcbcb" stroke-width="0.8" stroke-dasharray="1,1.4"/><line x1="597.78" y1="482.53" x2="597.78" y2="384.93" stroke="#cbcbcb" stroke-width="0.8" stroke-dasharray="1,1.4"/><line x1="538.95" y1="573.16" x2="602.05" y2="483.86" stroke="#cbcbcb" stroke-width="0.8" stroke-dasharray="1,1.4"/><line x1="602.05" y1="483.86" x2="602.05" y2="386.26" stroke="#cbcbcb" stroke-width="0.8" stroke-dasharray="1,1.4"/><line x1="542.55" y1="574.29" x2="605.65" y2="484.99" stroke="#cbcbcb" stroke-width="0.8" stroke-dasharray="1,1.4"/><line x1="605.65" y1="484.99" x2="605.65" y2="387.39" stroke="#cbcbcb" stroke-width="0.8" stroke-dasharray="1,1.4"/><line x1="545.68" y1="575.27" x2="608.78" y2="485.97" stroke="#cbcbcb" stroke-width="0.8" stroke-dasharray="1,1.4"/><line x1="608.78" y1="485.97" x2="608.78" y2="388.37" stroke="#cbcbcb" stroke-width="0.8" stroke-dasharray="1,1.4"/><line x1="548.43" y1="576.13" x2="611.53" y2="486.83" stroke="#cbcbcb" stroke-width="0.8" stroke-dasharray="1,1.4"/><line x1="611.53" y1="486.83" x2="611.53" y2="389.23" stroke="#cbcbcb" stroke-width="0.8" stroke-dasharray="1,1.4"/><line x1="443.14" y1="543.22" x2="506.24" y2="453.92" stroke="#e0e0e0" stroke-width="1.0"/><line x1="506.24" y1="453.92" x2="506.24" y2="356.32" stroke="#e0e0e0" stroke-width="1.0"/><line x1="497.02" y1="560.06" x2="560.12" y2="470.76" stroke="#e0e0e0" stroke-width="1.0"/><line x1="560.12" y1="470.76" x2="560.12" y2="373.16" stroke="#e0e0e0" stroke-width="1.0"/><line x1="550.9" y1="576.9" x2="614" y2="487.6" stroke="#e0e0e0" stroke-width="1.0"/><line x1="614" y1="487.6" x2="614" y2="390" stroke="#e0e0e0" stroke-width="1.0"/><line x1="416.2" y1="534.8" x2="550.9" y2="576.9" stroke="#e0e0e0" stroke-width="1.0"/><line x1="416.2" y1="534.8" x2="416.2" y2="437.2" stroke="#e0e0e0" stroke-width="1.0"/><line x1="447.75" y1="490.15" x2="582.45" y2="532.25" stroke="#e0e0e0" stroke-width="1.0"/><line x1="447.75" y1="490.15" x2="447.75" y2="392.55" stroke="#e0e0e0" stroke-width="1.0"/><line x1="479.3" y1="445.5" x2="614" y2="487.6" stroke="#e0e0e0" stroke-width="1.0"/><line x1="479.3" y1="445.5" x2="479.3" y2="347.9" stroke="#e0e0e0" stroke-width="1.0"/><line x1="416.2" y1="534.8" x2="479.3" y2="445.5" stroke="#e0e0e0" stroke-width="1.0"/><line x1="479.3" y1="445.5" x2="614" y2="487.6" stroke="#e0e0e0" stroke-width="1.0"/><line x1="416.2" y1="486" x2="479.3" y2="396.7" stroke="#e0e0e0" stroke-width="1.0"/><line x1="479.3" y1="396.7" x2="614" y2="438.8" stroke="#e0e0e0" stroke-width="1.0"/><line x1="416.2" y1="437.2" x2="479.3" y2="347.9" stroke="#e0e0e0" stroke-width="1.0"/><line x1="479.3" y1="347.9" x2="614" y2="390" stroke="#e0e0e0" stroke-width="1.0"/><line x1="416.2" y1="534.8" x2="479.3" y2="445.5" stroke="#e0e0e0" stroke-width="1.0"/></g>
<g fill="none" stroke-width="1.15" stroke-linecap="round"><path d="M447.76,508.75L445.71,500.42" stroke="#4442d8"/><path d="M445.71,500.42L447.75,490.15" stroke="#4442d8"/><path d="M443.55,542.64L438.65,540.73" stroke="#4442d8"/><path d="M438.65,540.73L448.29,535.93" stroke="#4442d8"/><path d="M450.6,532.67L449.6,523.44" stroke="#4442d8"/><path d="M449.6,523.44L448.32,512.13" stroke="#4442d8"/><path d="M448.32,512.13L447.76,508.75" stroke="#4442d8"/><path d="M457.01,546.47L443.55,542.64" stroke="#4442d8"/><path d="M457.01,546.47L448.29,535.93" stroke="#4442d8"/><path d="M467.72,536.37L450.6,532.67" stroke="#4442d8"/><path d="M484.58,549.73L470.87,540.99" stroke="#4442d8"/><path d="M470.87,540.99L467.72,536.37" stroke="#4442d8"/><path d="M499.12,557.09L484.58,549.73" stroke="#4442d8"/><path d="M515,562.54L499.12,557.09" stroke="#4442d8"/><path d="M535.22,571.16L529.5,569.12" stroke="#4442d8"/><path d="M529.5,569.12L515,562.54" stroke="#4442d8"/><path d="M551.18,576.5L535.22,571.16" stroke="#4442d8"/><path d="M453.04,501.28L452.98,491.79" stroke="#4160f5"/><path d="M452.98,491.79L453.16,482.5" stroke="#4160f5"/><path d="M456.56,524.22L454.36,514.02" stroke="#4160f5"/><path d="M454.36,514.02L453.39,502.82" stroke="#4160f5"/><path d="M453.39,502.82L453.04,501.28" stroke="#4160f5"/><path d="M476.97,523.27L456.56,524.22" stroke="#4160f5"/><path d="M487.99,544.92L482.41,533.69" stroke="#4160f5"/><path d="M482.41,533.69L476.97,523.27" stroke="#4160f5"/><path d="M500.59,555.01L489,546.65" stroke="#4160f5"/><path d="M489,546.65L487.99,544.92" stroke="#4160f5"/><path d="M516.98,559.73L500.59,555.01" stroke="#4160f5"/><path d="M536.73,569.02L516.98,559.73" stroke="#4160f5"/><path d="M551.41,576.18L545.34,574.07" stroke="#4160f5"/><path d="M545.34,574.07L536.73,569.02" stroke="#4160f5"/><path d="M457.15,495.46L457.26,493.12" stroke="#3081f7"/><path d="M457.26,493.12L457.58,482.32" stroke="#3081f7"/><path d="M457.58,482.32L457.06,476.97" stroke="#3081f7"/><path d="M459.77,519.68L459.15,515.52" stroke="#3081f7"/><path d="M459.15,515.52L458.51,504.42" stroke="#3081f7"/><path d="M458.51,504.42L457.15,495.46" stroke="#3081f7"/><path d="M470.93,519.2L459.77,519.68" stroke="#3081f7"/><path d="M470.93,519.2L483.49,514.04" stroke="#3081f7"/><path d="M492.9,537.96L492.54,536.85" stroke="#3081f7"/><path d="M492.54,536.85L488.64,524.73" stroke="#3081f7"/><path d="M488.64,524.73L483.49,514.04" stroke="#3081f7"/><path d="M502.06,552.93L497.74,549.38" stroke="#3081f7"/><path d="M497.74,549.38L492.9,537.96" stroke="#3081f7"/><path d="M518.97,556.93L502.06,552.93" stroke="#3081f7"/><path d="M538.84,566.04L518.97,556.93" stroke="#3081f7"/><path d="M552.56,574.55L538.84,566.04" stroke="#3081f7"/><path d="M460.82,490.27L461.21,483.45" stroke="#1f9de6"/><path d="M461.21,483.45L461,472.49" stroke="#1f9de6"/><path d="M461,472.49L460.8,471.68" stroke="#1f9de6"/><path d="M462.99,515.13L462.72,505.73" stroke="#1f9de6"/><path d="M462.72,505.73L462.13,494.64" stroke="#1f9de6"/><path d="M462.13,494.64L460.82,490.27" stroke="#1f9de6"/><path d="M480.29,511.22L462.99,515.13" stroke="#1f9de6"/><path d="M480.29,511.22L489.4,505.68" stroke="#1f9de6"/><path d="M497.76,531.08L497.02,527.35" stroke="#1f9de6"/><path d="M497.02,527.35L492.71,515.1" stroke="#1f9de6"/><path d="M492.71,515.1L489.4,505.68" stroke="#1f9de6"/><path d="M504.06,550.09L502.37,539.93" stroke="#1f9de6"/><path d="M502.37,539.93L497.76,531.08" stroke="#1f9de6"/><path d="M524.83,548.63L504.06,550.09" stroke="#1f9de6"/><path d="M540.94,563.07L540.13,562.63" stroke="#1f9de6"/><path d="M540.13,562.63L524.83,548.63" stroke="#1f9de6"/><path d="M554.95,571.17L540.94,563.07" stroke="#1f9de6"/><path d="M464.26,485.4L464.35,484.44" stroke="#17b5cd"/><path d="M464.35,484.44L467.48,474.51" stroke="#17b5cd"/><path d="M467.48,474.51L465.99,464.34" stroke="#17b5cd"/><path d="M466.22,510.55L466.28,506.84" stroke="#17b5cd"/><path d="M466.28,506.84L466.67,496.06" stroke="#17b5cd"/><path d="M466.67,496.06L464.26,485.4" stroke="#17b5cd"/><path d="M473.89,509.22L466.22,510.55" stroke="#17b5cd"/><path d="M473.89,509.22L487.81,502.67" stroke="#17b5cd"/><path d="M487.81,502.67L494.49,498.47" stroke="#17b5cd"/><path d="M501.87,525.27L499.79,517.32" stroke="#17b5cd"/><path d="M499.79,517.32L498.54,506.02" stroke="#17b5cd"/><path d="M498.54,506.02L494.49,498.47" stroke="#17b5cd"/><path d="M509.55,542.33L509.54,542.17" stroke="#17b5cd"/><path d="M509.54,542.17L505.38,529.97" stroke="#17b5cd"/><path d="M505.38,529.97L501.87,525.27" stroke="#17b5cd"/><path d="M510.08,542.34L509.55,542.33" stroke="#17b5cd"/><path d="M510.08,542.34L531.88,538.65" stroke="#17b5cd"/><path d="M544.87,557.5L540.62,551.88" stroke="#17b5cd"/><path d="M540.62,551.88L531.88,538.65" stroke="#17b5cd"/><path d="M557.38,567.73L544.87,557.5" stroke="#17b5cd"/><path d="M473.04,472.98L473.24,465.41" stroke="#2fc3a5"/><path d="M473.24,465.41L471.73,456.22" stroke="#2fc3a5"/><path d="M469.65,505.7L470.47,497.25" stroke="#2fc3a5"/><path d="M470.47,497.25L469.88,486.16" stroke="#2fc3a5"/><path d="M469.88,486.16L472.93,476.22" stroke="#2fc3a5"/><path d="M472.93,476.22L473.04,472.98" stroke="#2fc3a5"/><path d="M483.02,501.17L469.65,505.7" stroke="#2fc3a5"/><path d="M483.02,501.17L495.39,494.14" stroke="#2fc3a5"/><path d="M495.39,494.14L499.75,491.04" stroke="#2fc3a5"/><path d="M505.44,520.21L505.22,519.02" stroke="#2fc3a5"/><path d="M505.22,519.02L505.96,508.34" stroke="#2fc3a5"/><path d="M505.96,508.34L502.25,496.28" stroke="#2fc3a5"/><path d="M502.25,496.28L499.75,491.04" stroke="#2fc3a5"/><path d="M513.64,536.53L512.65,532.24" stroke="#2fc3a5"/><path d="M512.65,532.24L505.44,520.21" stroke="#2fc3a5"/><path d="M523.28,535.56L513.64,536.53" stroke="#2fc3a5"/><path d="M523.28,535.56L536.81,531.68" stroke="#2fc3a5"/><path d="M549.46,551.01L546.42,542.79" stroke="#2fc3a5"/><path d="M546.42,542.79L536.81,531.68" stroke="#2fc3a5"/><path d="M560.73,562.99L553.74,555.98" stroke="#2fc3a5"/><path d="M553.74,555.98L549.46,551.01" stroke="#2fc3a5"/><path d="M479.68,463.58L479.9,456.59" stroke="#67c771"/><path d="M479.9,456.59L479.83,446.76" stroke="#67c771"/><path d="M479.83,446.76L479.69,445.73" stroke="#67c771"/><path d="M479.69,445.73L479.67,445.61" stroke="#67c771"/><path d="M473.48,500.28L473.74,498.27" stroke="#67c771"/><path d="M473.74,498.27L474.77,487.69" stroke="#67c771"/><path d="M474.77,487.69L478.06,477.82" stroke="#67c771"/><path d="M478.06,477.82L479.41,467.34" stroke="#67c771"/><path d="M479.41,467.34L479.68,463.58" stroke="#67c771"/><path d="M476.98,499.29L473.48,500.28" stroke="#67c771"/><path d="M476.98,499.29L490.87,492.72" stroke="#67c771"/><path d="M490.87,492.72L501.98,485.29" stroke="#67c771"/><path d="M501.98,485.29L506.07,482.08" stroke="#67c771"/><path d="M511.34,511.87L511.59,510.1" stroke="#67c771"/><path d="M511.59,510.1L510.7,498.92" stroke="#67c771"/><path d="M510.7,498.92L508.23,487.25" stroke="#67c771"/><path d="M508.23,487.25L506.07,482.08" stroke="#67c771"/><path d="M517.88,530.54L514.82,522.01" stroke="#67c771"/><path d="M514.82,522.01L511.34,511.87" stroke="#67c771"/><path d="M533.16,527.75L517.88,530.54" stroke="#67c771"/><path d="M533.16,527.75L542.49,523.63" stroke="#67c771"/><path d="M555.05,543.1L550.45,533.15" stroke="#67c771"/><path d="M550.45,533.15L542.49,523.63" stroke="#67c771"/><path d="M564.42,557.76L557.7,546.32" stroke="#67c771"/><path d="M557.7,546.32L555.05,543.1" stroke="#67c771"/><path d="M488.13,451.62L488.49,449.46" stroke="#aec739"/><path d="M488.49,449.46L488.62,448.52" stroke="#aec739"/><path d="M488.62,448.52L488.63,448.42" stroke="#aec739"/><path d="M478.01,493.88L478.81,488.96" stroke="#aec739"/><path d="M478.81,488.96L482.26,479.13" stroke="#aec739"/><path d="M482.26,479.13L484.94,469.07" stroke="#aec739"/><path d="M484.94,469.07L486.91,458.78" stroke="#aec739"/><path d="M486.91,458.78L488.13,451.62" stroke="#aec739"/><path d="M485.27,490.97L478.01,493.88" stroke="#aec739"/><path d="M485.27,490.97L497.08,483.76" stroke="#aec739"/><path d="M497.08,483.76L507.46,476.1" stroke="#aec739"/><path d="M507.46,476.1L515.52,468.71" stroke="#aec739"/><path d="M516.85,504.07L516.89,500.86" stroke="#aec739"/><path d="M516.89,500.86L518.1,490.33" stroke="#aec739"/><path d="M518.1,490.33L516.52,478.94" stroke="#aec739"/><path d="M516.52,478.94L515.52,468.71" stroke="#aec739"/><path d="M522.35,524.21L520.52,512.9" stroke="#aec739"/><path d="M520.52,512.9L516.85,504.07" stroke="#aec739"/><path d="M540.22,519.05L522.35,524.21" stroke="#aec739"/><path d="M540.22,519.05L548.8,514.71" stroke="#aec739"/><path d="M561.05,534.61L556.6,524.17" stroke="#aec739"/><path d="M556.6,524.17L548.8,514.71" stroke="#aec739"/><path d="M569.83,550.11L569.83,550.11" stroke="#aec739"/><path d="M569.83,550.11L563.51,537.23" stroke="#aec739"/><path d="M563.51,537.23L561.05,534.61" stroke="#aec739"/><path d="M483.85,485.61L485.82,480.24" stroke="#e3c438"/><path d="M485.82,480.24L489.41,470.46" stroke="#e3c438"/><path d="M489.41,470.46L492.67,460.58" stroke="#e3c438"/><path d="M492.67,460.58L495.8,451.75" stroke="#e3c438"/><path d="M495.8,451.75L496.06,450.85" stroke="#e3c438"/><path d="M496.06,450.85L496.09,450.75" stroke="#e3c438"/><path d="M490.88,481.83L483.85,485.61" stroke="#e3c438"/><path d="M490.88,481.83L501.96,474.39" stroke="#e3c438"/><path d="M501.96,474.39L511.42,466.44" stroke="#e3c438"/><path d="M511.42,466.44L518.41,458.81" stroke="#e3c438"/><path d="M518.41,458.81L519.1,458.05" stroke="#e3c438"/><path d="M519.1,458.05L519.18,457.96" stroke="#e3c438"/><path d="M525.03,492.5L525.03,492.5" stroke="#e3c438"/><path d="M525.03,492.5L526.01,481.9" stroke="#e3c438"/><path d="M526.01,481.9L528.52,471.79" stroke="#e3c438"/><path d="M528.52,471.79L533.09,463.4" stroke="#e3c438"/><path d="M533.09,463.4L533.51,462.55" stroke="#e3c438"/><path d="M533.51,462.55L533.56,462.46" stroke="#e3c438"/><path d="M527.68,516.67L527.58,515.1" stroke="#e3c438"/><path d="M527.58,515.1L527.19,504.08" stroke="#e3c438"/><path d="M527.19,504.08L525.03,492.5" stroke="#e3c438"/><path d="M530.63,516.05L527.68,516.67" stroke="#e3c438"/><path d="M530.63,516.05L545.27,509.73" stroke="#e3c438"/><path d="M545.27,509.73L556.48,502.33" stroke="#e3c438"/><path d="M556.48,502.33L560.75,497.79" stroke="#e3c438"/><path d="M567.83,525.02L564.9,515.86" stroke="#e3c438"/><path d="M564.9,515.86L560.79,503.67" stroke="#e3c438"/><path d="M560.79,503.67L560.75,497.79" stroke="#e3c438"/><path d="M577.12,539.79L570.21,528.42" stroke="#e3c438"/><path d="M570.21,528.42L567.83,525.02" stroke="#e3c438"/><path d="M492.36,473.57L493.16,471.64" stroke="#fdd42e"/><path d="M493.16,471.64L497.29,462.02" stroke="#fdd42e"/><path d="M497.29,462.02L501.49,453.53" stroke="#fdd42e"/><path d="M501.49,453.53L501.88,452.67" stroke="#fdd42e"/><path d="M501.88,452.67L501.93,452.57" stroke="#fdd42e"/><path d="M494.77,472.14L492.36,473.57" stroke="#fdd42e"/><path d="M494.77,472.14L505.22,464.5" stroke="#fdd42e"/><path d="M505.22,464.5L512.51,456.97" stroke="#fdd42e"/><path d="M512.51,456.97L513.24,456.22" stroke="#fdd42e"/><path d="M513.24,456.22L513.32,456.13" stroke="#fdd42e"/><path d="M535.75,477.32L536.95,474.42" stroke="#fdd42e"/><path d="M536.95,474.42L543.05,466.98" stroke="#fdd42e"/><path d="M536.54,504.13L537.15,496.29" stroke="#fdd42e"/><path d="M537.15,496.29L535.76,484.95" stroke="#fdd42e"/><path d="M535.76,484.95L535.75,477.32" stroke="#fdd42e"/><path d="M543.43,466.63L543.05,466.98" stroke="#fdd42e"/><path d="M543.43,466.63L544.21,465.9" stroke="#fdd42e"/><path d="M544.21,465.9L544.3,465.81" stroke="#fdd42e"/><path d="M547.21,499.43L536.54,504.13" stroke="#fdd42e"/><path d="M547.21,499.43L556.88,491.55" stroke="#fdd42e"/><path d="M556.88,491.55L565.98,483.49" stroke="#fdd42e"/><path d="M565.98,483.49L571.82,475.51" stroke="#fdd42e"/><path d="M571.82,475.51L572.4,474.71" stroke="#fdd42e"/><path d="M572.4,474.71L572.46,474.62" stroke="#fdd42e"/><path d="M578.91,509.34L578.91,509.34" stroke="#fdd42e"/><path d="M578.91,509.34L582.31,499.5" stroke="#fdd42e"/><path d="M582.31,499.5L583.52,488.98" stroke="#fdd42e"/><path d="M583.52,488.98L588.12,480.6" stroke="#fdd42e"/><path d="M588.12,480.6L588.59,479.77" stroke="#fdd42e"/><path d="M588.59,479.77L588.64,479.68" stroke="#fdd42e"/><path d="M584.62,529.18L582.86,521.48" stroke="#fdd42e"/><path d="M582.86,521.48L578.91,509.34" stroke="#fdd42e"/></g>
<g fill="none" stroke-width="1.15" stroke-linejoin="round" stroke-linecap="round"><polygon points="479.24,394.65 490.01,388.98 490.08,388.84 479.3,394.5" fill="#fff"/><path d="M479.24,394.65L490.01,388.98" stroke="#64c873"/><path d="M479.24,394.65L479.3,394.5" stroke="#64c873"/><path d="M490.01,388.98L490.08,388.84" stroke="#b9c639"/><path d="M479.3,394.5L490.08,388.84" stroke="#64c873"/><polygon points="478.67,395.95 489.44,390.21 490.01,388.98 479.24,394.65" fill="#fff"/><path d="M478.67,395.95L489.44,390.21" stroke="#5fc877"/><path d="M478.67,395.95L479.24,394.65" stroke="#5fc877"/><path d="M489.44,390.21L490.01,388.98" stroke="#b6c639"/><path d="M479.24,394.65L490.01,388.98" stroke="#64c873"/><polygon points="472.99,408.92 483.77,402.53 489.44,390.21 478.67,395.95" fill="#fff"/><path d="M472.99,408.92L483.77,402.53" stroke="#34c69c"/><path d="M472.99,408.92L478.67,395.95" stroke="#34c69c"/><path d="M483.77,402.53L489.44,390.21" stroke="#8fc750"/><path d="M478.67,395.95L489.44,390.21" stroke="#5fc877"/><polygon points="466.68,425.78 477.46,417.68 483.77,402.53 472.99,408.92" fill="#fff"/><path d="M466.68,425.78L477.46,417.68" stroke="#1ab6c7"/><path d="M466.68,425.78L472.99,408.92" stroke="#1ab6c7"/><path d="M477.46,417.68L483.77,402.53" stroke="#51c882"/><path d="M472.99,408.92L483.77,402.53" stroke="#34c69c"/><polygon points="460.37,443.62 471.15,433.93 477.46,417.68 466.68,425.78" fill="#fff"/><path d="M460.37,443.62L471.15,433.93" stroke="#209be8"/><path d="M460.37,443.62L466.68,425.78" stroke="#209be8"/><path d="M471.15,433.93L477.46,417.68" stroke="#28bfb1"/><path d="M466.68,425.78L477.46,417.68" stroke="#1ab6c7"/><polygon points="454.06,465.36 464.84,446.77 471.15,433.93 460.37,443.62" fill="#fff"/><path d="M454.06,465.36L464.84,446.77" stroke="#3e65f5"/><path d="M454.06,465.36L460.37,443.62" stroke="#3e65f5"/><path d="M464.84,446.77L471.15,433.93" stroke="#1bb7c6"/><path d="M460.37,443.62L471.15,433.93" stroke="#209be8"/><polygon points="447.75,482.83 458.53,469.12 464.84,446.77 454.06,465.36" fill="#fff"/><path d="M447.75,482.83L458.53,469.12" stroke="#4442d8"/><path d="M447.75,482.83L454.06,465.36" stroke="#4442d8"/><path d="M458.53,469.12L464.84,446.77" stroke="#2b8bf4"/><path d="M454.06,465.36L464.84,446.77" stroke="#3e65f5"/><polygon points="441.44,494.81 452.22,489.27 458.53,469.12 447.75,482.83" fill="#fff"/><path d="M441.44,494.81L452.22,489.27" stroke="#4136c4"/><path d="M441.44,494.81L447.75,482.83" stroke="#4136c4"/><path d="M452.22,489.27L458.53,469.12" stroke="#4459f5"/><path d="M447.75,482.83L458.53,469.12" stroke="#4442d8"/><polygon points="490.01,388.98 506.18,374.12 506.24,374.01 490.08,388.84" fill="#fff"/><path d="M490.01,388.98L506.18,374.12" stroke="#b9c639"/><path d="M490.01,388.98L490.08,388.84" stroke="#b9c639"/><path d="M506.18,374.12L506.24,374.01" stroke="#faf419"/><path d="M490.08,388.84L506.24,374.01" stroke="#b9c639"/><polygon points="489.44,390.21 505.61,375.09 506.18,374.12 490.01,388.98" fill="#fff"/><path d="M489.44,390.21L505.61,375.09" stroke="#b6c639"/><path d="M489.44,390.21L490.01,388.98" stroke="#b6c639"/><path d="M505.61,375.09L506.18,374.12" stroke="#faf31a"/><path d="M490.01,388.98L506.18,374.12" stroke="#b9c639"/><polygon points="435.13,506.42 445.91,506.5 452.22,489.27 441.44,494.81" fill="#fff"/><path d="M435.13,506.42L445.91,506.5" stroke="#3f2cb3"/><path d="M435.13,506.42L441.44,494.81" stroke="#3f2cb3"/><path d="M445.91,506.5L452.22,489.27" stroke="#4239c8"/><path d="M441.44,494.81L452.22,489.27" stroke="#4136c4"/><polygon points="483.77,402.53 499.93,384.77 505.61,375.09 489.44,390.21" fill="#fff"/><path d="M483.77,402.53L499.93,384.77" stroke="#8fc750"/><path d="M483.77,402.53L489.44,390.21" stroke="#8fc750"/><path d="M499.93,384.77L505.61,375.09" stroke="#fbeb1f"/><path d="M489.44,390.21L505.61,375.09" stroke="#b6c639"/><polygon points="506.18,374.12 522.34,398.08 522.4,397.97 506.24,374.01" fill="#fff"/><path d="M506.18,374.12L522.34,398.08" stroke="#faf419"/><path d="M506.18,374.12L506.24,374.01" stroke="#faf419"/><path d="M522.34,398.08L522.4,397.97" stroke="#c0c639"/><path d="M506.24,374.01L522.4,397.97" stroke="#faf419"/><polygon points="505.61,375.09 521.77,399.07 522.34,398.08 506.18,374.12" fill="#fff"/><path d="M505.61,375.09L521.77,399.07" stroke="#faf31a"/><path d="M505.61,375.09L506.18,374.12" stroke="#faf31a"/><path d="M521.77,399.07L522.34,398.08" stroke="#bec639"/><path d="M506.18,374.12L522.34,398.08" stroke="#faf419"/><polygon points="522.34,398.08 543.89,392.71 543.96,392.63 522.4,397.97" fill="#fff"/><path d="M522.34,398.08L543.89,392.71" stroke="#c0c639"/><path d="M522.34,398.08L522.4,397.97" stroke="#c0c639"/><path d="M543.89,392.71L543.96,392.63" stroke="#fdd32e"/><path d="M522.4,397.97L543.96,392.63" stroke="#c0c639"/><polygon points="428.82,516.94 439.6,519.33 445.91,506.5 435.13,506.42" fill="#fff"/><path d="M428.82,516.94L439.6,519.33" stroke="#3e26a8"/><path d="M428.82,516.94L435.13,506.42" stroke="#3e26a8"/><path d="M439.6,519.33L445.91,506.5" stroke="#3f2aaf"/><path d="M435.13,506.42L445.91,506.5" stroke="#3f2cb3"/><polygon points="477.46,417.68 493.62,397.6 499.93,384.77 483.77,402.53" fill="#fff"/><path d="M477.46,417.68L493.62,397.6" stroke="#51c882"/><path d="M477.46,417.68L483.77,402.53" stroke="#51c882"/><path d="M493.62,397.6L499.93,384.77" stroke="#fcd82b"/><path d="M483.77,402.53L499.93,384.77" stroke="#8fc750"/><polygon points="521.77,399.07 543.33,393.44 543.89,392.71 522.34,398.08" fill="#fff"/><path d="M521.77,399.07L543.33,393.44" stroke="#bec639"/><path d="M521.77,399.07L522.34,398.08" stroke="#bec639"/><path d="M543.33,393.44L543.89,392.71" stroke="#fdd42e"/><path d="M522.34,398.08L543.89,392.71" stroke="#c0c639"/><polygon points="499.93,384.77 516.09,408.98 521.77,399.07 505.61,375.09" fill="#fff"/><path d="M499.93,384.77L516.09,408.98" stroke="#fbeb1f"/><path d="M499.93,384.77L505.61,375.09" stroke="#fbeb1f"/><path d="M516.09,408.98L521.77,399.07" stroke="#b1c639"/><path d="M505.61,375.09L521.77,399.07" stroke="#faf31a"/><polygon points="516.09,408.98 537.65,400.71 543.33,393.44 521.77,399.07" fill="#fff"/><path d="M516.09,408.98L537.65,400.71" stroke="#b1c639"/><path d="M516.09,408.98L521.77,399.07" stroke="#b1c639"/><path d="M537.65,400.71L543.33,393.44" stroke="#fcd72b"/><path d="M521.77,399.07L543.33,393.44" stroke="#bec639"/><polygon points="471.15,433.93 487.31,411.41 493.62,397.6 477.46,417.68" fill="#fff"/><path d="M471.15,433.93L487.31,411.41" stroke="#28bfb1"/><path d="M471.15,433.93L477.46,417.68" stroke="#28bfb1"/><path d="M487.31,411.41L493.62,397.6" stroke="#fbc338"/><path d="M477.46,417.68L493.62,397.6" stroke="#51c882"/><polygon points="493.62,397.6 509.78,421.93 516.09,408.98 499.93,384.77" fill="#fff"/><path d="M493.62,397.6L509.78,421.93" stroke="#fcd82b"/><path d="M493.62,397.6L499.93,384.77" stroke="#fcd82b"/><path d="M509.78,421.93L516.09,408.98" stroke="#8bc753"/><path d="M499.93,384.77L516.09,408.98" stroke="#fbeb1f"/><polygon points="422.51,525.87 433.29,529.24 439.6,519.33 428.82,516.94" fill="#fff"/><path d="M422.51,525.87L433.29,529.24" stroke="#3e26a8"/><path d="M422.51,525.87L428.82,516.94" stroke="#3e26a8"/><path d="M433.29,529.24L439.6,519.33" stroke="#3e26a8"/><path d="M428.82,516.94L439.6,519.33" stroke="#3e26a8"/><polygon points="464.84,446.77 481,426.57 487.31,411.41 471.15,433.93" fill="#fff"/><path d="M464.84,446.77L481,426.57" stroke="#1bb7c6"/><path d="M464.84,446.77L471.15,433.93" stroke="#1bb7c6"/><path d="M481,426.57L487.31,411.41" stroke="#cfc538"/><path d="M471.15,433.93L487.31,411.41" stroke="#28bfb1"/><polygon points="445.91,506.5 462.07,489.22 468.38,466.02 452.22,489.27" fill="#fff"/><path d="M445.91,506.5L462.07,489.22" stroke="#4239c8"/><path d="M445.91,506.5L452.22,489.27" stroke="#4239c8"/><path d="M462.07,489.22L468.38,466.02" stroke="#2495ec"/><path d="M452.22,489.27L468.38,466.02" stroke="#4459f5"/><polygon points="452.22,489.27 468.38,466.02 474.69,445.01 458.53,469.12" fill="#fff"/><path d="M452.22,489.27L468.38,466.02" stroke="#4459f5"/><path d="M452.22,489.27L458.53,469.12" stroke="#4459f5"/><path d="M468.38,466.02L474.69,445.01" stroke="#27beb2"/><path d="M458.53,469.12L474.69,445.01" stroke="#2b8bf4"/><polygon points="458.53,469.12 474.69,445.01 481,426.57 464.84,446.77" fill="#fff"/><path d="M458.53,469.12L474.69,445.01" stroke="#2b8bf4"/><path d="M458.53,469.12L464.84,446.77" stroke="#2b8bf4"/><path d="M474.69,445.01L481,426.57" stroke="#7ec75e"/><path d="M464.84,446.77L481,426.57" stroke="#1bb7c6"/><polygon points="509.78,421.93 531.34,412.08 537.65,400.71 516.09,408.98" fill="#fff"/><path d="M509.78,421.93L531.34,412.08" stroke="#8bc753"/><path d="M509.78,421.93L516.09,408.98" stroke="#8bc753"/><path d="M531.34,412.08L537.65,400.71" stroke="#fdcc33"/><path d="M516.09,408.98L537.65,400.71" stroke="#b1c639"/><polygon points="439.6,519.33 455.76,512.55 462.07,489.22 445.91,506.5" fill="#fff"/><path d="M439.6,519.33L455.76,512.55" stroke="#3f2aaf"/><path d="M439.6,519.33L445.91,506.5" stroke="#3f2aaf"/><path d="M455.76,512.55L462.07,489.22" stroke="#4558f5"/><path d="M445.91,506.5L462.07,489.22" stroke="#4239c8"/><polygon points="487.31,411.41 503.47,437.08 509.78,421.93 493.62,397.6" fill="#fff"/><path d="M487.31,411.41L503.47,437.08" stroke="#fbc338"/><path d="M487.31,411.41L493.62,397.6" stroke="#fbc338"/><path d="M503.47,437.08L509.78,421.93" stroke="#4dc885"/><path d="M493.62,397.6L509.78,421.93" stroke="#fcd82b"/><polygon points="543.89,392.71 560.06,389.48 560.12,389.39 543.96,392.63" fill="#fff"/><path d="M543.89,392.71L560.06,389.48" stroke="#fdd32e"/><path d="M543.89,392.71L543.96,392.63" stroke="#fdd32e"/><path d="M560.06,389.48L560.12,389.39" stroke="#f9fb15"/><path d="M543.96,392.63L560.12,389.39" stroke="#fdd32e"/><polygon points="543.33,393.44 559.49,390.35 560.06,389.48 543.89,392.71" fill="#fff"/><path d="M543.33,393.44L559.49,390.35" stroke="#fdd42e"/><path d="M543.33,393.44L543.89,392.71" stroke="#fdd42e"/><path d="M559.49,390.35L560.06,389.48" stroke="#f9fb15"/><path d="M543.89,392.71L560.06,389.48" stroke="#fdd32e"/><polygon points="433.29,529.24 449.45,528.19 455.76,512.55 439.6,519.33" fill="#fff"/><path d="M433.29,529.24L449.45,528.19" stroke="#3e26a8"/><path d="M433.29,529.24L439.6,519.33" stroke="#3e26a8"/><path d="M449.45,528.19L455.76,512.55" stroke="#433dd0"/><path d="M439.6,519.33L455.76,512.55" stroke="#3f2aaf"/><polygon points="416.83,533.91 427.61,537.27 433.29,529.24 422.51,525.87" fill="#fff"/><path d="M416.83,533.91L427.61,537.27" stroke="#3e26a8"/><path d="M416.83,533.91L422.51,525.87" stroke="#3e26a8"/><path d="M427.61,537.27L433.29,529.24" stroke="#3e26a8"/><path d="M422.51,525.87L433.29,529.24" stroke="#3e26a8"/><polygon points="481,426.57 497.16,454.07 503.47,437.08 487.31,411.41" fill="#fff"/><path d="M481,426.57L497.16,454.07" stroke="#cfc538"/><path d="M481,426.57L487.31,411.41" stroke="#cfc538"/><path d="M497.16,454.07L503.47,437.08" stroke="#24bcb7"/><path d="M487.31,411.41L503.47,437.08" stroke="#fbc338"/><polygon points="503.47,437.08 525.03,426.62 531.34,412.08 509.78,421.93" fill="#fff"/><path d="M503.47,437.08L525.03,426.62" stroke="#4dc885"/><path d="M503.47,437.08L509.78,421.93" stroke="#4dc885"/><path d="M525.03,426.62L531.34,412.08" stroke="#e3c438"/><path d="M509.78,421.93L531.34,412.08" stroke="#8bc753"/><polygon points="560.06,389.48 576.22,406.24 576.28,406.15 560.12,389.39" fill="#fff"/><path d="M560.06,389.48L576.22,406.24" stroke="#f9fb15"/><path d="M560.06,389.48L560.12,389.39" stroke="#f9fb15"/><path d="M576.22,406.24L576.28,406.15" stroke="#fec338"/><path d="M560.12,389.39L576.28,406.15" stroke="#f9fb15"/><polygon points="559.49,390.35 575.65,407.03 576.22,406.24 560.06,389.48" fill="#fff"/><path d="M559.49,390.35L575.65,407.03" stroke="#f9fb15"/><path d="M559.49,390.35L560.06,389.48" stroke="#f9fb15"/><path d="M575.65,407.03L576.22,406.24" stroke="#fec338"/><path d="M560.06,389.48L576.22,406.24" stroke="#f9fb15"/><polygon points="474.69,445.01 490.85,472.51 497.16,454.07 481,426.57" fill="#fff"/><path d="M474.69,445.01L490.85,472.51" stroke="#7ec75e"/><path d="M474.69,445.01L481,426.57" stroke="#7ec75e"/><path d="M490.85,472.51L497.16,454.07" stroke="#1ba3e1"/><path d="M481,426.57L497.16,454.07" stroke="#cfc538"/><polygon points="537.65,400.71 553.81,399.05 559.49,390.35 543.33,393.44" fill="#fff"/><path d="M537.65,400.71L553.81,399.05" stroke="#fcd72b"/><path d="M537.65,400.71L543.33,393.44" stroke="#fcd72b"/><path d="M553.81,399.05L559.49,390.35" stroke="#f9f717"/><path d="M543.33,393.44L559.49,390.35" stroke="#fdd42e"/><polygon points="468.38,466.02 484.54,489.37 490.85,472.51 474.69,445.01" fill="#fff"/><path d="M468.38,466.02L484.54,489.37" stroke="#27beb2"/><path d="M468.38,466.02L474.69,445.01" stroke="#27beb2"/><path d="M484.54,489.37L490.85,472.51" stroke="#2e87f7"/><path d="M474.69,445.01L490.85,472.51" stroke="#7ec75e"/><polygon points="462.07,489.22 478.23,505.62 484.54,489.37 468.38,466.02" fill="#fff"/><path d="M462.07,489.22L478.23,505.62" stroke="#2495ec"/><path d="M462.07,489.22L468.38,466.02" stroke="#2495ec"/><path d="M478.23,505.62L484.54,489.37" stroke="#3e65f5"/><path d="M468.38,466.02L484.54,489.37" stroke="#27beb2"/><polygon points="416.26,534.71 427.04,538.08 427.61,537.27 416.83,533.91" fill="#fff"/><path d="M416.26,534.71L427.04,538.08" stroke="#3e26a8"/><path d="M416.26,534.71L416.83,533.91" stroke="#3e26a8"/><path d="M427.04,538.08L427.61,537.27" stroke="#3e26a8"/><path d="M416.83,533.91L427.61,537.27" stroke="#3e26a8"/><polygon points="455.76,512.55 471.92,520.65 478.23,505.62 462.07,489.22" fill="#fff"/><path d="M455.76,512.55L471.92,520.65" stroke="#4558f5"/><path d="M455.76,512.55L462.07,489.22" stroke="#4558f5"/><path d="M471.92,520.65L478.23,505.62" stroke="#464be8"/><path d="M462.07,489.22L478.23,505.62" stroke="#2495ec"/><polygon points="416.2,534.8 426.98,538.17 427.04,538.08 416.26,534.71" fill="#fff"/><path d="M416.2,534.8L426.98,538.17" stroke="#3e26a8"/><path d="M416.2,534.8L416.26,534.71" stroke="#3e26a8"/><path d="M426.98,538.17L427.04,538.08" stroke="#3e26a8"/><path d="M416.26,534.71L427.04,538.08" stroke="#3e26a8"/><polygon points="497.16,454.07 518.72,440.31 525.03,426.62 503.47,437.08" fill="#fff"/><path d="M497.16,454.07L518.72,440.31" stroke="#24bcb7"/><path d="M497.16,454.07L503.47,437.08" stroke="#24bcb7"/><path d="M518.72,440.31L525.03,426.62" stroke="#c1c639"/><path d="M503.47,437.08L525.03,426.62" stroke="#4dc885"/><polygon points="576.22,406.24 597.77,405.3 597.84,405.2 576.28,406.15" fill="#fff"/><path d="M576.22,406.24L597.77,405.3" stroke="#fec338"/><path d="M576.22,406.24L576.28,406.15" stroke="#fec338"/><path d="M597.77,405.3L597.84,405.2" stroke="#fbe821"/><path d="M576.28,406.15L597.84,405.2" stroke="#fec338"/><polygon points="575.65,407.03 597.21,406.19 597.77,405.3 576.22,406.24" fill="#fff"/><path d="M575.65,407.03L597.21,406.19" stroke="#fec338"/><path d="M575.65,407.03L576.22,406.24" stroke="#fec338"/><path d="M597.21,406.19L597.77,405.3" stroke="#fbe721"/><path d="M576.22,406.24L597.77,405.3" stroke="#fec338"/><polygon points="553.81,399.05 569.97,414.96 575.65,407.03 559.49,390.35" fill="#fff"/><path d="M553.81,399.05L569.97,414.96" stroke="#f9f717"/><path d="M553.81,399.05L559.49,390.35" stroke="#f9f717"/><path d="M569.97,414.96L575.65,407.03" stroke="#fec338"/><path d="M559.49,390.35L575.65,407.03" stroke="#f9fb15"/><polygon points="449.45,528.19 465.61,533.24 471.92,520.65 455.76,512.55" fill="#fff"/><path d="M449.45,528.19L465.61,533.24" stroke="#433dd0"/><path d="M449.45,528.19L455.76,512.55" stroke="#433dd0"/><path d="M465.61,533.24L471.92,520.65" stroke="#433dd0"/><path d="M455.76,512.55L471.92,520.65" stroke="#4558f5"/><polygon points="490.85,472.51 512.41,457.9 518.72,440.31 497.16,454.07" fill="#fff"/><path d="M490.85,472.51L512.41,457.9" stroke="#1ba3e1"/><path d="M490.85,472.51L497.16,454.07" stroke="#1ba3e1"/><path d="M512.41,457.9L518.72,440.31" stroke="#73c767"/><path d="M497.16,454.07L518.72,440.31" stroke="#24bcb7"/><polygon points="427.61,537.27 443.77,530.25 449.45,528.19 433.29,529.24" fill="#fff"/><path d="M427.61,537.27L443.77,530.25" stroke="#3e26a8"/><path d="M427.61,537.27L433.29,529.24" stroke="#3e26a8"/><path d="M443.77,530.25L449.45,528.19" stroke="#4754f4"/><path d="M433.29,529.24L449.45,528.19" stroke="#3e26a8"/><polygon points="426.98,538.17 443.14,543.22 443.2,543.13 427.04,538.08" fill="#fff"/><path d="M426.98,538.17L443.14,543.22" stroke="#3e26a8"/><path d="M426.98,538.17L427.04,538.08" stroke="#3e26a8"/><path d="M443.14,543.22L443.2,543.13" stroke="#3e26a8"/><path d="M427.04,538.08L443.2,543.13" stroke="#3e26a8"/><polygon points="484.54,489.37 506.1,474.03 512.41,457.9 490.85,472.51" fill="#fff"/><path d="M484.54,489.37L506.1,474.03" stroke="#2e87f7"/><path d="M484.54,489.37L490.85,472.51" stroke="#2e87f7"/><path d="M506.1,474.03L512.41,457.9" stroke="#33c69e"/><path d="M490.85,472.51L512.41,457.9" stroke="#1ba3e1"/><polygon points="569.97,414.96 591.53,415.11 597.21,406.19 575.65,407.03" fill="#fff"/><path d="M569.97,414.96L591.53,415.11" stroke="#fec338"/><path d="M569.97,414.96L575.65,407.03" stroke="#fec338"/><path d="M591.53,415.11L597.21,406.19" stroke="#fbe324"/><path d="M575.65,407.03L597.21,406.19" stroke="#fec338"/><polygon points="531.34,412.08 547.5,408.95 553.81,399.05 537.65,400.71" fill="#fff"/><path d="M531.34,412.08L547.5,408.95" stroke="#fdcc33"/><path d="M531.34,412.08L537.65,400.71" stroke="#fdcc33"/><path d="M547.5,408.95L553.81,399.05" stroke="#faf31a"/><path d="M537.65,400.71L553.81,399.05" stroke="#fcd72b"/><polygon points="427.04,538.08 443.2,543.13 443.77,530.25 427.61,537.27" fill="#fff"/><path d="M427.04,538.08L443.2,543.13" stroke="#3e26a8"/><path d="M427.04,538.08L427.61,537.27" stroke="#3e26a8"/><path d="M443.2,543.13L443.77,530.25" stroke="#3e26a8"/><path d="M427.61,537.27L443.77,530.25" stroke="#3e26a8"/><polygon points="478.23,505.62 499.79,495.89 506.1,474.03 484.54,489.37" fill="#fff"/><path d="M478.23,505.62L499.79,495.89" stroke="#3e65f5"/><path d="M478.23,505.62L484.54,489.37" stroke="#3e65f5"/><path d="M499.79,495.89L506.1,474.03" stroke="#18a8dd"/><path d="M484.54,489.37L506.1,474.03" stroke="#2e87f7"/><polygon points="471.92,520.65 493.48,514.33 499.79,495.89 478.23,505.62" fill="#fff"/><path d="M471.92,520.65L493.48,514.33" stroke="#464be8"/><path d="M471.92,520.65L478.23,505.62" stroke="#464be8"/><path d="M493.48,514.33L499.79,495.89" stroke="#2f85f7"/><path d="M478.23,505.62L499.79,495.89" stroke="#3e65f5"/><polygon points="547.5,408.95 563.66,427.06 569.97,414.96 553.81,399.05" fill="#fff"/><path d="M547.5,408.95L563.66,427.06" stroke="#faf31a"/><path d="M547.5,408.95L553.81,399.05" stroke="#faf31a"/><path d="M563.66,427.06L569.97,414.96" stroke="#e8c438"/><path d="M553.81,399.05L569.97,414.96" stroke="#f9f717"/><polygon points="443.14,543.22 459.3,548.27 459.37,548.18 443.2,543.13" fill="#fff"/><path d="M443.14,543.22L459.3,548.27" stroke="#3e26a8"/><path d="M443.14,543.22L443.2,543.13" stroke="#3e26a8"/><path d="M459.3,548.27L459.37,548.18" stroke="#3e26a8"/><path d="M443.2,543.13L459.37,548.18" stroke="#3e26a8"/><polygon points="443.77,530.25 459.93,541.52 465.61,533.24 449.45,528.19" fill="#fff"/><path d="M443.77,530.25L459.93,541.52" stroke="#4754f4"/><path d="M443.77,530.25L449.45,528.19" stroke="#4754f4"/><path d="M459.93,541.52L465.61,533.24" stroke="#433ccf"/><path d="M449.45,528.19L465.61,533.24" stroke="#433dd0"/><polygon points="597.77,405.3 613.94,406.44 614,406.35 597.84,405.2" fill="#fff"/><path d="M597.77,405.3L613.94,406.44" stroke="#fbe821"/><path d="M597.77,405.3L597.84,405.2" stroke="#fbe821"/><path d="M613.94,406.44L614,406.35" stroke="#f9fa15"/><path d="M597.84,405.2L614,406.35" stroke="#fbe821"/><polygon points="597.21,406.19 613.37,407.31 613.94,406.44 597.77,405.3" fill="#fff"/><path d="M597.21,406.19L613.37,407.31" stroke="#fbe721"/><path d="M597.21,406.19L597.77,405.3" stroke="#fbe721"/><path d="M613.37,407.31L613.94,406.44" stroke="#f9fa15"/><path d="M597.77,405.3L613.94,406.44" stroke="#fbe821"/><polygon points="465.61,533.24 487.17,532.66 493.48,514.33 471.92,520.65" fill="#fff"/><path d="M465.61,533.24L487.17,532.66" stroke="#433dd0"/><path d="M465.61,533.24L471.92,520.65" stroke="#433dd0"/><path d="M487.17,532.66L493.48,514.33" stroke="#445af5"/><path d="M471.92,520.65L493.48,514.33" stroke="#464be8"/><polygon points="525.03,426.62 541.19,420.93 547.5,408.95 531.34,412.08" fill="#fff"/><path d="M525.03,426.62L541.19,420.93" stroke="#e3c438"/><path d="M525.03,426.62L531.34,412.08" stroke="#e3c438"/><path d="M541.19,420.93L547.5,408.95" stroke="#fbe423"/><path d="M531.34,412.08L547.5,408.95" stroke="#fdcc33"/><polygon points="443.2,543.13 459.37,548.18 459.93,541.52 443.77,530.25" fill="#fff"/><path d="M443.2,543.13L459.37,548.18" stroke="#3e26a8"/><path d="M443.2,543.13L443.77,530.25" stroke="#3e26a8"/><path d="M459.37,548.18L459.93,541.52" stroke="#3e26a8"/><path d="M443.77,530.25L459.93,541.52" stroke="#4754f4"/><polygon points="563.66,427.06 585.22,425.62 591.53,415.11 569.97,414.96" fill="#fff"/><path d="M563.66,427.06L585.22,425.62" stroke="#e8c438"/><path d="M563.66,427.06L569.97,414.96" stroke="#e8c438"/><path d="M585.22,425.62L591.53,415.11" stroke="#fcdb29"/><path d="M569.97,414.96L591.53,415.11" stroke="#fec338"/><polygon points="459.3,548.27 480.86,555.01 480.92,554.92 459.37,548.18" fill="#fff"/><path d="M459.3,548.27L480.86,555.01" stroke="#3e26a8"/><path d="M459.3,548.27L459.37,548.18" stroke="#3e26a8"/><path d="M480.86,555.01L480.92,554.92" stroke="#3e26a8"/><path d="M459.37,548.18L480.92,554.92" stroke="#3e26a8"/><polygon points="459.93,541.52 481.49,554.11 487.17,532.66 465.61,533.24" fill="#fff"/><path d="M459.93,541.52L481.49,554.11" stroke="#433ccf"/><path d="M459.93,541.52L465.61,533.24" stroke="#433ccf"/><path d="M481.49,554.11L487.17,532.66" stroke="#3e26a8"/><path d="M465.61,533.24L487.17,532.66" stroke="#433dd0"/><polygon points="459.37,548.18 480.92,554.92 481.49,554.11 459.93,541.52" fill="#fff"/><path d="M459.37,548.18L480.92,554.92" stroke="#3e26a8"/><path d="M459.37,548.18L459.93,541.52" stroke="#3e26a8"/><path d="M480.92,554.92L481.49,554.11" stroke="#3e26a8"/><path d="M459.93,541.52L481.49,554.11" stroke="#433ccf"/><polygon points="591.53,415.11 607.69,416.01 613.37,407.31 597.21,406.19" fill="#fff"/><path d="M591.53,415.11L607.69,416.01" stroke="#fbe324"/><path d="M591.53,415.11L597.21,406.19" stroke="#fbe324"/><path d="M607.69,416.01L613.37,407.31" stroke="#f9f717"/><path d="M597.21,406.19L613.37,407.31" stroke="#fbe721"/><polygon points="541.19,420.93 557.35,437.58 563.66,427.06 547.5,408.95" fill="#fff"/><path d="M541.19,420.93L557.35,437.58" stroke="#fbe423"/><path d="M541.19,420.93L547.5,408.95" stroke="#fbe423"/><path d="M557.35,437.58L563.66,427.06" stroke="#ddc538"/><path d="M547.5,408.95L563.66,427.06" stroke="#faf31a"/><polygon points="518.72,440.31 534.88,434.5 541.19,420.93 525.03,426.62" fill="#fff"/><path d="M518.72,440.31L534.88,434.5" stroke="#c1c639"/><path d="M518.72,440.31L525.03,426.62" stroke="#c1c639"/><path d="M534.88,434.5L541.19,420.93" stroke="#fdce31"/><path d="M525.03,426.62L541.19,420.93" stroke="#e3c438"/><polygon points="557.35,437.58 578.91,436.14 585.22,425.62 563.66,427.06" fill="#fff"/><path d="M557.35,437.58L578.91,436.14" stroke="#ddc538"/><path d="M557.35,437.58L563.66,427.06" stroke="#ddc538"/><path d="M578.91,436.14L585.22,425.62" stroke="#fdd42e"/><path d="M563.66,427.06L585.22,425.62" stroke="#e8c438"/><polygon points="480.92,554.92 497.08,559.97 497.65,559.17 481.49,554.11" fill="#fff"/><path d="M480.92,554.92L497.08,559.97" stroke="#3e26a8"/><path d="M480.92,554.92L481.49,554.11" stroke="#3e26a8"/><path d="M497.08,559.97L497.65,559.17" stroke="#3e26a8"/><path d="M481.49,554.11L497.65,559.17" stroke="#3e26a8"/><polygon points="480.86,555.01 497.02,560.06 497.08,559.97 480.92,554.92" fill="#fff"/><path d="M480.86,555.01L497.02,560.06" stroke="#3e26a8"/><path d="M480.86,555.01L480.92,554.92" stroke="#3e26a8"/><path d="M497.02,560.06L497.08,559.97" stroke="#3e26a8"/><path d="M480.92,554.92L497.08,559.97" stroke="#3e26a8"/><polygon points="512.41,457.9 528.57,448.31 534.88,434.5 518.72,440.31" fill="#fff"/><path d="M512.41,457.9L528.57,448.31" stroke="#73c767"/><path d="M512.41,457.9L518.72,440.31" stroke="#73c767"/><path d="M528.57,448.31L534.88,434.5" stroke="#ebc438"/><path d="M518.72,440.31L534.88,434.5" stroke="#c1c639"/><polygon points="534.88,434.5 551.04,450.41 557.35,437.58 541.19,420.93" fill="#fff"/><path d="M534.88,434.5L551.04,450.41" stroke="#fdce31"/><path d="M534.88,434.5L541.19,420.93" stroke="#fdce31"/><path d="M551.04,450.41L557.35,437.58" stroke="#c1c639"/><path d="M541.19,420.93L557.35,437.58" stroke="#fbe423"/><polygon points="585.22,425.62 601.38,425.67 607.69,416.01 591.53,415.11" fill="#fff"/><path d="M585.22,425.62L601.38,425.67" stroke="#fcdb29"/><path d="M585.22,425.62L591.53,415.11" stroke="#fcdb29"/><path d="M601.38,425.67L607.69,416.01" stroke="#faf319"/><path d="M591.53,415.11L607.69,416.01" stroke="#fbe324"/><polygon points="481.49,554.11 497.65,559.17 503.33,522.83 487.17,532.66" fill="#fff"/><path d="M481.49,554.11L497.65,559.17" stroke="#3e26a8"/><path d="M481.49,554.11L487.17,532.66" stroke="#3e26a8"/><path d="M497.65,559.17L503.33,522.83" stroke="#3e26a8"/><path d="M487.17,532.66L503.33,522.83" stroke="#445af5"/><polygon points="506.1,474.03 522.26,465.9 528.57,448.31 512.41,457.9" fill="#fff"/><path d="M506.1,474.03L522.26,465.9" stroke="#33c69e"/><path d="M506.1,474.03L512.41,457.9" stroke="#33c69e"/><path d="M522.26,465.9L528.57,448.31" stroke="#aec739"/><path d="M512.41,457.9L528.57,448.31" stroke="#73c767"/><polygon points="497.02,560.06 513.18,565.11 513.25,565.02 497.08,559.97" fill="#fff"/><path d="M497.02,560.06L513.18,565.11" stroke="#3e26a8"/><path d="M497.02,560.06L497.08,559.97" stroke="#3e26a8"/><path d="M513.18,565.11L513.25,565.02" stroke="#3e26a8"/><path d="M497.08,559.97L513.25,565.02" stroke="#3e26a8"/><polygon points="497.08,559.97 513.25,565.02 513.81,561.29 497.65,559.17" fill="#fff"/><path d="M497.08,559.97L513.25,565.02" stroke="#3e26a8"/><path d="M497.08,559.97L497.65,559.17" stroke="#3e26a8"/><path d="M513.25,565.02L513.81,561.29" stroke="#3e26a8"/><path d="M497.65,559.17L513.81,561.29" stroke="#3e26a8"/><polygon points="499.79,495.89 515.95,485.2 522.26,465.9 506.1,474.03" fill="#fff"/><path d="M499.79,495.89L515.95,485.2" stroke="#18a8dd"/><path d="M499.79,495.89L506.1,474.03" stroke="#18a8dd"/><path d="M515.95,485.2L522.26,465.9" stroke="#47c88a"/><path d="M506.1,474.03L522.26,465.9" stroke="#33c69e"/><polygon points="493.48,514.33 509.64,505.48 515.95,485.2 499.79,495.89" fill="#fff"/><path d="M493.48,514.33L509.64,505.48" stroke="#2f85f7"/><path d="M493.48,514.33L499.79,495.89" stroke="#2f85f7"/><path d="M509.64,505.48L515.95,485.2" stroke="#18b5cc"/><path d="M499.79,495.89L515.95,485.2" stroke="#18a8dd"/><polygon points="551.04,450.41 572.6,448.24 578.91,436.14 557.35,437.58" fill="#fff"/><path d="M551.04,450.41L572.6,448.24" stroke="#c1c639"/><path d="M551.04,450.41L557.35,437.58" stroke="#c1c639"/><path d="M572.6,448.24L578.91,436.14" stroke="#fec537"/><path d="M557.35,437.58L578.91,436.14" stroke="#ddc538"/><polygon points="528.57,448.31 544.73,466.54 551.04,450.41 534.88,434.5" fill="#fff"/><path d="M528.57,448.31L544.73,466.54" stroke="#ebc438"/><path d="M528.57,448.31L534.88,434.5" stroke="#ebc438"/><path d="M544.73,466.54L551.04,450.41" stroke="#81c75b"/><path d="M534.88,434.5L551.04,450.41" stroke="#fdce31"/><polygon points="487.17,532.66 503.33,522.83 509.64,505.48 493.48,514.33" fill="#fff"/><path d="M487.17,532.66L503.33,522.83" stroke="#445af5"/><path d="M487.17,532.66L493.48,514.33" stroke="#445af5"/><path d="M503.33,522.83L509.64,505.48" stroke="#2199e9"/><path d="M493.48,514.33L509.64,505.48" stroke="#2f85f7"/><polygon points="522.26,465.9 538.42,483.03 544.73,466.54 528.57,448.31" fill="#fff"/><path d="M522.26,465.9L538.42,483.03" stroke="#aec739"/><path d="M522.26,465.9L528.57,448.31" stroke="#aec739"/><path d="M538.42,483.03L544.73,466.54" stroke="#37c898"/><path d="M528.57,448.31L544.73,466.54" stroke="#ebc438"/><polygon points="578.91,436.14 595.07,436.19 601.38,425.67 585.22,425.62" fill="#fff"/><path d="M578.91,436.14L595.07,436.19" stroke="#fdd42e"/><path d="M578.91,436.14L585.22,425.62" stroke="#fdd42e"/><path d="M595.07,436.19L601.38,425.67" stroke="#fbec1e"/><path d="M585.22,425.62L601.38,425.67" stroke="#fcdb29"/><polygon points="513.18,565.11 534.74,571.85 534.8,571.76 513.25,565.02" fill="#fff"/><path d="M513.18,565.11L534.74,571.85" stroke="#3e26a8"/><path d="M513.18,565.11L513.25,565.02" stroke="#3e26a8"/><path d="M534.74,571.85L534.8,571.76" stroke="#3e26a8"/><path d="M513.25,565.02L534.8,571.76" stroke="#3e26a8"/><polygon points="497.65,559.17 513.81,561.29 519.49,532.27 503.33,522.83" fill="#fff"/><path d="M497.65,559.17L513.81,561.29" stroke="#3e26a8"/><path d="M497.65,559.17L503.33,522.83" stroke="#3e26a8"/><path d="M513.81,561.29L519.49,532.27" stroke="#4031bb"/><path d="M503.33,522.83L519.49,532.27" stroke="#2199e9"/><polygon points="544.73,466.54 566.29,462.66 572.6,448.24 551.04,450.41" fill="#fff"/><path d="M544.73,466.54L566.29,462.66" stroke="#81c75b"/><path d="M544.73,466.54L551.04,450.41" stroke="#81c75b"/><path d="M566.29,462.66L572.6,448.24" stroke="#d9c538"/><path d="M551.04,450.41L572.6,448.24" stroke="#c1c639"/><polygon points="515.95,485.2 532.11,501.48 538.42,483.03 522.26,465.9" fill="#fff"/><path d="M515.95,485.2L532.11,501.48" stroke="#47c88a"/><path d="M515.95,485.2L522.26,465.9" stroke="#47c88a"/><path d="M532.11,501.48L538.42,483.03" stroke="#18b5cb"/><path d="M522.26,465.9L538.42,483.03" stroke="#aec739"/><polygon points="509.64,505.48 525.8,517 532.11,501.48 515.95,485.2" fill="#fff"/><path d="M509.64,505.48L525.8,517" stroke="#18b5cc"/><path d="M509.64,505.48L515.95,485.2" stroke="#18b5cc"/><path d="M525.8,517L532.11,501.48" stroke="#1da0e3"/><path d="M515.95,485.2L532.11,501.48" stroke="#47c88a"/><polygon points="513.25,565.02 534.8,571.76 535.37,561.07 513.81,561.29" fill="#fff"/><path d="M513.25,565.02L534.8,571.76" stroke="#3e26a8"/><path d="M513.25,565.02L513.81,561.29" stroke="#3e26a8"/><path d="M534.8,571.76L535.37,561.07" stroke="#3e26a8"/><path d="M513.81,561.29L535.37,561.07" stroke="#4031bb"/><polygon points="538.42,483.03 559.98,478.79 566.29,462.66 544.73,466.54" fill="#fff"/><path d="M538.42,483.03L559.98,478.79" stroke="#37c898"/><path d="M538.42,483.03L544.73,466.54" stroke="#37c898"/><path d="M559.98,478.79L566.29,462.66" stroke="#a4c73f"/><path d="M544.73,466.54L566.29,462.66" stroke="#81c75b"/><polygon points="503.33,522.83 519.49,532.27 525.8,517 509.64,505.48" fill="#fff"/><path d="M503.33,522.83L519.49,532.27" stroke="#2199e9"/><path d="M503.33,522.83L509.64,505.48" stroke="#2199e9"/><path d="M519.49,532.27L525.8,517" stroke="#2c89f5"/><path d="M509.64,505.48L525.8,517" stroke="#18b5cc"/><polygon points="534.74,571.85 550.9,576.9 550.96,576.81 534.8,571.76" fill="#fff"/><path d="M534.74,571.85L550.9,576.9" stroke="#3e26a8"/><path d="M534.74,571.85L534.8,571.76" stroke="#3e26a8"/><path d="M550.9,576.9L550.96,576.81" stroke="#3e26a8"/><path d="M534.8,571.76L550.96,576.81" stroke="#3e26a8"/><polygon points="532.11,501.48 553.67,495.53 559.98,478.79 538.42,483.03" fill="#fff"/><path d="M532.11,501.48L553.67,495.53" stroke="#18b5cb"/><path d="M532.11,501.48L538.42,483.03" stroke="#18b5cb"/><path d="M553.67,495.53L559.98,478.79" stroke="#55c87e"/><path d="M538.42,483.03L559.98,478.79" stroke="#37c898"/><polygon points="572.6,448.24 588.76,447.56 595.07,436.19 578.91,436.14" fill="#fff"/><path d="M572.6,448.24L588.76,447.56" stroke="#fec537"/><path d="M572.6,448.24L578.91,436.14" stroke="#fec537"/><path d="M588.76,447.56L595.07,436.19" stroke="#fce026"/><path d="M578.91,436.14L595.07,436.19" stroke="#fdd42e"/><polygon points="513.81,561.29 535.37,561.07 541.05,533.27 519.49,532.27" fill="#fff"/><path d="M513.81,561.29L535.37,561.07" stroke="#4031bb"/><path d="M513.81,561.29L519.49,532.27" stroke="#4031bb"/><path d="M535.37,561.07L541.05,533.27" stroke="#464ce9"/><path d="M519.49,532.27L541.05,533.27" stroke="#2c89f5"/><polygon points="525.8,517 547.36,512.87 553.67,495.53 532.11,501.48" fill="#fff"/><path d="M525.8,517L547.36,512.87" stroke="#1da0e3"/><path d="M525.8,517L532.11,501.48" stroke="#1da0e3"/><path d="M547.36,512.87L553.67,495.53" stroke="#26bdb4"/><path d="M532.11,501.48L553.67,495.53" stroke="#18b5cb"/><polygon points="534.8,571.76 550.96,576.81 551.53,557.22 535.37,561.07" fill="#fff"/><path d="M534.8,571.76L550.96,576.81" stroke="#3e26a8"/><path d="M534.8,571.76L535.37,561.07" stroke="#3e26a8"/><path d="M550.96,576.81L551.53,557.22" stroke="#3e26a8"/><path d="M535.37,561.07L551.53,557.22" stroke="#464ce9"/><polygon points="519.49,532.27 541.05,533.27 547.36,512.87 525.8,517" fill="#fff"/><path d="M519.49,532.27L541.05,533.27" stroke="#2c89f5"/><path d="M519.49,532.27L525.8,517" stroke="#2c89f5"/><path d="M541.05,533.27L547.36,512.87" stroke="#1e9ee5"/><path d="M525.8,517L547.36,512.87" stroke="#1da0e3"/><polygon points="566.29,462.66 582.45,460.39 588.76,447.56 572.6,448.24" fill="#fff"/><path d="M566.29,462.66L582.45,460.39" stroke="#d9c538"/><path d="M566.29,462.66L572.6,448.24" stroke="#d9c538"/><path d="M582.45,460.39L588.76,447.56" stroke="#fdcd32"/><path d="M572.6,448.24L588.76,447.56" stroke="#fec537"/><polygon points="559.98,478.79 576.14,476.4 582.45,460.39 566.29,462.66" fill="#fff"/><path d="M559.98,478.79L576.14,476.4" stroke="#a4c73f"/><path d="M559.98,478.79L566.29,462.66" stroke="#a4c73f"/><path d="M576.14,476.4L582.45,460.39" stroke="#dbc538"/><path d="M566.29,462.66L582.45,460.39" stroke="#d9c538"/><polygon points="535.37,561.07 551.53,557.22 557.21,531.74 541.05,533.27" fill="#fff"/><path d="M535.37,561.07L551.53,557.22" stroke="#464ce9"/><path d="M535.37,561.07L541.05,533.27" stroke="#464ce9"/><path d="M551.53,557.22L557.21,531.74" stroke="#3873f6"/><path d="M541.05,533.27L557.21,531.74" stroke="#1e9ee5"/><polygon points="553.67,495.53 569.83,491.55 576.14,476.4 559.98,478.79" fill="#fff"/><path d="M553.67,495.53L569.83,491.55" stroke="#55c87e"/><path d="M553.67,495.53L559.98,478.79" stroke="#55c87e"/><path d="M569.83,491.55L576.14,476.4" stroke="#aec739"/><path d="M559.98,478.79L576.14,476.4" stroke="#a4c73f"/><polygon points="547.36,512.87 563.52,509.02 569.83,491.55 553.67,495.53" fill="#fff"/><path d="M547.36,512.87L563.52,509.02" stroke="#26bdb4"/><path d="M547.36,512.87L553.67,495.53" stroke="#26bdb4"/><path d="M563.52,509.02L569.83,491.55" stroke="#5ac87a"/><path d="M553.67,495.53L569.83,491.55" stroke="#55c87e"/><polygon points="541.05,533.27 557.21,531.74 563.52,509.02 547.36,512.87" fill="#fff"/><path d="M541.05,533.27L557.21,531.74" stroke="#1e9ee5"/><path d="M541.05,533.27L547.36,512.87" stroke="#1e9ee5"/><path d="M557.21,531.74L563.52,509.02" stroke="#16b4cf"/><path d="M547.36,512.87L563.52,509.02" stroke="#26bdb4"/></g>
<g stroke-linecap="butt"><line x1="416.2" y1="534.8" x2="416.2" y2="437.2" stroke="#262626" stroke-width="1"/><line x1="416.2" y1="534.8" x2="550.9" y2="576.9" stroke="#262626" stroke-width="1"/><line x1="550.9" y1="576.9" x2="614" y2="487.6" stroke="#262626" stroke-width="1"/><line x1="416.2" y1="534.8" x2="412.7" y2="534.8" stroke="#262626" stroke-width="1"/><line x1="416.2" y1="486" x2="412.7" y2="486" stroke="#262626" stroke-width="1"/><line x1="416.2" y1="437.2" x2="412.7" y2="437.2" stroke="#262626" stroke-width="1"/><line x1="443.14" y1="543.22" x2="440.83" y2="546.49" stroke="#262626" stroke-width="1"/><line x1="497.02" y1="560.06" x2="494.71" y2="563.33" stroke="#262626" stroke-width="1"/><line x1="550.9" y1="576.9" x2="548.59" y2="580.17" stroke="#262626" stroke-width="1"/><line x1="421.7" y1="536.52" x2="420.43" y2="538.32" stroke="#262626" stroke-width="1"/><line x1="426.92" y1="538.15" x2="425.65" y2="539.95" stroke="#262626" stroke-width="1"/><line x1="431.19" y1="539.48" x2="429.92" y2="541.28" stroke="#262626" stroke-width="1"/><line x1="434.79" y1="540.61" x2="433.52" y2="542.41" stroke="#262626" stroke-width="1"/><line x1="437.92" y1="541.59" x2="436.65" y2="543.38" stroke="#262626" stroke-width="1"/><line x1="440.67" y1="542.45" x2="439.41" y2="544.25" stroke="#262626" stroke-width="1"/><line x1="459.36" y1="548.29" x2="458.09" y2="550.09" stroke="#262626" stroke-width="1"/><line x1="468.85" y1="551.25" x2="467.58" y2="553.05" stroke="#262626" stroke-width="1"/><line x1="475.58" y1="553.36" x2="474.31" y2="555.16" stroke="#262626" stroke-width="1"/><line x1="480.8" y1="554.99" x2="479.53" y2="556.79" stroke="#262626" stroke-width="1"/><line x1="485.07" y1="556.32" x2="483.8" y2="558.12" stroke="#262626" stroke-width="1"/><line x1="488.67" y1="557.45" x2="487.4" y2="559.25" stroke="#262626" stroke-width="1"/><line x1="491.8" y1="558.43" x2="490.53" y2="560.22" stroke="#262626" stroke-width="1"/><line x1="494.55" y1="559.29" x2="493.29" y2="561.09" stroke="#262626" stroke-width="1"/><line x1="513.24" y1="565.13" x2="511.97" y2="566.93" stroke="#262626" stroke-width="1"/><line x1="522.73" y1="568.09" x2="521.46" y2="569.89" stroke="#262626" stroke-width="1"/><line x1="529.46" y1="570.2" x2="528.19" y2="572" stroke="#262626" stroke-width="1"/><line x1="534.68" y1="571.83" x2="533.41" y2="573.63" stroke="#262626" stroke-width="1"/><line x1="538.95" y1="573.16" x2="537.68" y2="574.96" stroke="#262626" stroke-width="1"/><line x1="542.55" y1="574.29" x2="541.28" y2="576.09" stroke="#262626" stroke-width="1"/><line x1="545.68" y1="575.27" x2="544.41" y2="577.06" stroke="#262626" stroke-width="1"/><line x1="548.43" y1="576.13" x2="547.17" y2="577.93" stroke="#262626" stroke-width="1"/><line x1="550.9" y1="576.9" x2="554.72" y2="578.09" stroke="#262626" stroke-width="1"/><line x1="582.45" y1="532.25" x2="586.27" y2="533.44" stroke="#262626" stroke-width="1"/><line x1="614" y1="487.6" x2="617.82" y2="488.79" stroke="#262626" stroke-width="1"/></g>
<g fill="#262626"></g>
<g fill="none" stroke="#262626" stroke-width="1.1"><path d="M603.8,113.9H615.6M603.8,117H615.6M276.2,447.3H288.5M276.2,451.2H288.5"/></g><g fill="none" stroke="#262626" stroke-width="0.9"><path d="M606.1,131V146.3M602.4,141Q605.2,143.2 606.1,146.6Q607,143.2 609.8,141"/><path d="M273.5,462.2V478.2M269.6,472.8Q272.6,475 273.5,478.5Q274.4,475 277.4,472.8"/></g>
<g stroke="#262626" stroke-width="0.2"><text x="56.85" y="112.30" font-size="19" fill="#262626">10</text>
<text x="66.40" y="163.30" font-size="19" fill="#262626">5</text>
<text x="66.35" y="211.75" font-size="19" fill="#262626">0</text>
<text transform="translate(46.20,181.15) rotate(-90)" font-size="22" fill="#262626">value</text>
<text x="79.70" y="249.30" font-size="19" fill="#262626">10</text>
<text x="134.05" y="265.95" font-size="19" fill="#262626">10</text>
<text x="186.80" y="283.10" font-size="19" fill="#262626">10</text>
<text x="100.30" y="238.75" font-size="13.5" fill="#262626">1</text>
<text x="153.60" y="256.30" font-size="13.5" fill="#262626">2</text>
<text x="207.20" y="272.70" font-size="13.5" fill="#262626">3</text>
<text x="115.60" y="289.35" font-size="22" style="font-style:italic" fill="#262626">C</text>
<text x="233.05" y="270.40" font-size="19" fill="#262626">0</text>
<text x="263.95" y="226.35" font-size="19" fill="#262626">0.5</text>
<text x="295.20" y="181.70" font-size="19" fill="#262626">1</text>
<text x="290.95" y="271.80" font-size="22" style="font-style:italic" fill="#262626">p</text>
<text x="57.30" y="441.15" font-size="19" fill="#262626">80</text>
<text x="57.80" y="490.65" font-size="19" fill="#262626">40</text>
<text x="66.55" y="539.65" font-size="19" fill="#262626">0</text>
<text transform="translate(45.70,522.15) rotate(-90)" font-size="22" fill="#262626">loss (%)</text>
<text x="79.70" y="577.90" font-size="19" fill="#262626">10</text>
<text x="134.05" y="594.55" font-size="19" fill="#262626">10</text>
<text x="186.80" y="611.70" font-size="19" fill="#262626">10</text>
<text x="100.30" y="567.35" font-size="13.5" fill="#262626">1</text>
<text x="153.60" y="584.90" font-size="13.5" fill="#262626">2</text>
<text x="207.20" y="601.30" font-size="13.5" fill="#262626">3</text>
<text x="115.60" y="617.95" font-size="22" style="font-style:italic" fill="#262626">C</text>
<text x="233.05" y="599.00" font-size="19" fill="#262626">0</text>
<text x="263.95" y="554.95" font-size="19" fill="#262626">0.5</text>
<text x="295.20" y="510.30" font-size="19" fill="#262626">1</text>
<text x="290.95" y="600.40" font-size="22" style="font-style:italic" fill="#262626">p</text>
<text x="385.80" y="441.15" font-size="19" fill="#262626">80</text>
<text x="386.30" y="490.65" font-size="19" fill="#262626">40</text>
<text x="395.05" y="539.65" font-size="19" fill="#262626">0</text>
<text transform="translate(374.20,522.15) rotate(-90)" font-size="22" fill="#262626">loss (%)</text>
<text x="408.20" y="577.90" font-size="19" fill="#262626">10</text>
<text x="462.55" y="594.55" font-size="19" fill="#262626">10</text>
<text x="515.30" y="611.70" font-size="19" fill="#262626">10</text>
<text x="428.80" y="567.35" font-size="13.5" fill="#262626">1</text>
<text x="482.10" y="584.90" font-size="13.5" fill="#262626">2</text>
<text x="535.70" y="601.30" font-size="13.5" fill="#262626">3</text>
<text x="444.10" y="617.95" font-size="22" style="font-style:italic" fill="#262626">C</text>
<text x="561.55" y="599.00" font-size="19" fill="#262626">0</text>
<text x="592.45" y="554.95" font-size="19" fill="#262626">0.5</text>
<text x="623.70" y="510.30" font-size="19" fill="#262626">1</text>
<text x="619.45" y="600.40" font-size="22" style="font-style:italic" fill="#262626">p</text>
<text x="386.30" y="107.75" font-size="19" fill="#262626">30</text>
<text x="386.30" y="139.25" font-size="19" fill="#262626">20</text>
<text x="385.80" y="171.95" font-size="19" fill="#262626">10</text>
<text x="395.65" y="204.05" font-size="19" fill="#262626">0</text>
<text x="398.85" y="228.05" font-size="19" fill="#262626">0</text>
<text x="446.15" y="251.65" font-size="19" fill="#262626">0.5</text>
<text x="522.55" y="276.00" font-size="19" fill="#262626">1</text>
<text x="447.30" y="281.50" font-size="22" style="font-style:italic" fill="#262626">p</text>
<text x="551.60" y="277.90" font-size="19" fill="#262626">10</text>
<text x="579.10" y="242.30" font-size="19" fill="#262626">10</text>
<text x="606.70" y="210.70" font-size="19" fill="#262626">10</text>
<text x="572.65" y="266.50" font-size="13.5" fill="#262626">3</text>
<text x="599.35" y="234.10" font-size="13.5" fill="#262626">2</text>
<text x="626.00" y="200.55" font-size="13.5" fill="#262626">1</text>
<text x="615.10" y="279.25" font-size="22" style="font-style:italic" fill="#262626">C</text>
<text transform="translate(370.75,202.80) rotate(-90)" font-size="24" fill="#262626"><tspan font-style="italic">b</tspan><tspan font-size="15" dy="-8">*</tspan><tspan dy="8">, optimal</tspan></text>
<text x="582.35" y="119.40" font-size="17.5" style="font-style:italic" fill="#262626">b</text>
<text x="590.45" y="118.25" font-size="12" fill="#262626">*</text>
<text x="622.15" y="119.65" font-size="17.5" fill="#262626">2</text>
<text x="240.10" y="454.20" font-size="18" fill="#262626">loss</text>
<text x="294.60" y="454.80" font-size="18" fill="#262626">0</text>
<text x="-2.30" y="28.40" font-size="40" style="font-weight:bold" fill="#000">a</text>
<text x="327.25" y="28.80" font-size="40" style="font-weight:bold" fill="#000">b</text>
<text x="-1.20" y="357.20" font-size="40" style="font-weight:bold" fill="#000">c</text>
<text x="326.20" y="357.25" font-size="40" style="font-weight:bold" fill="#000">d</text></g>

</svg></body></html>
